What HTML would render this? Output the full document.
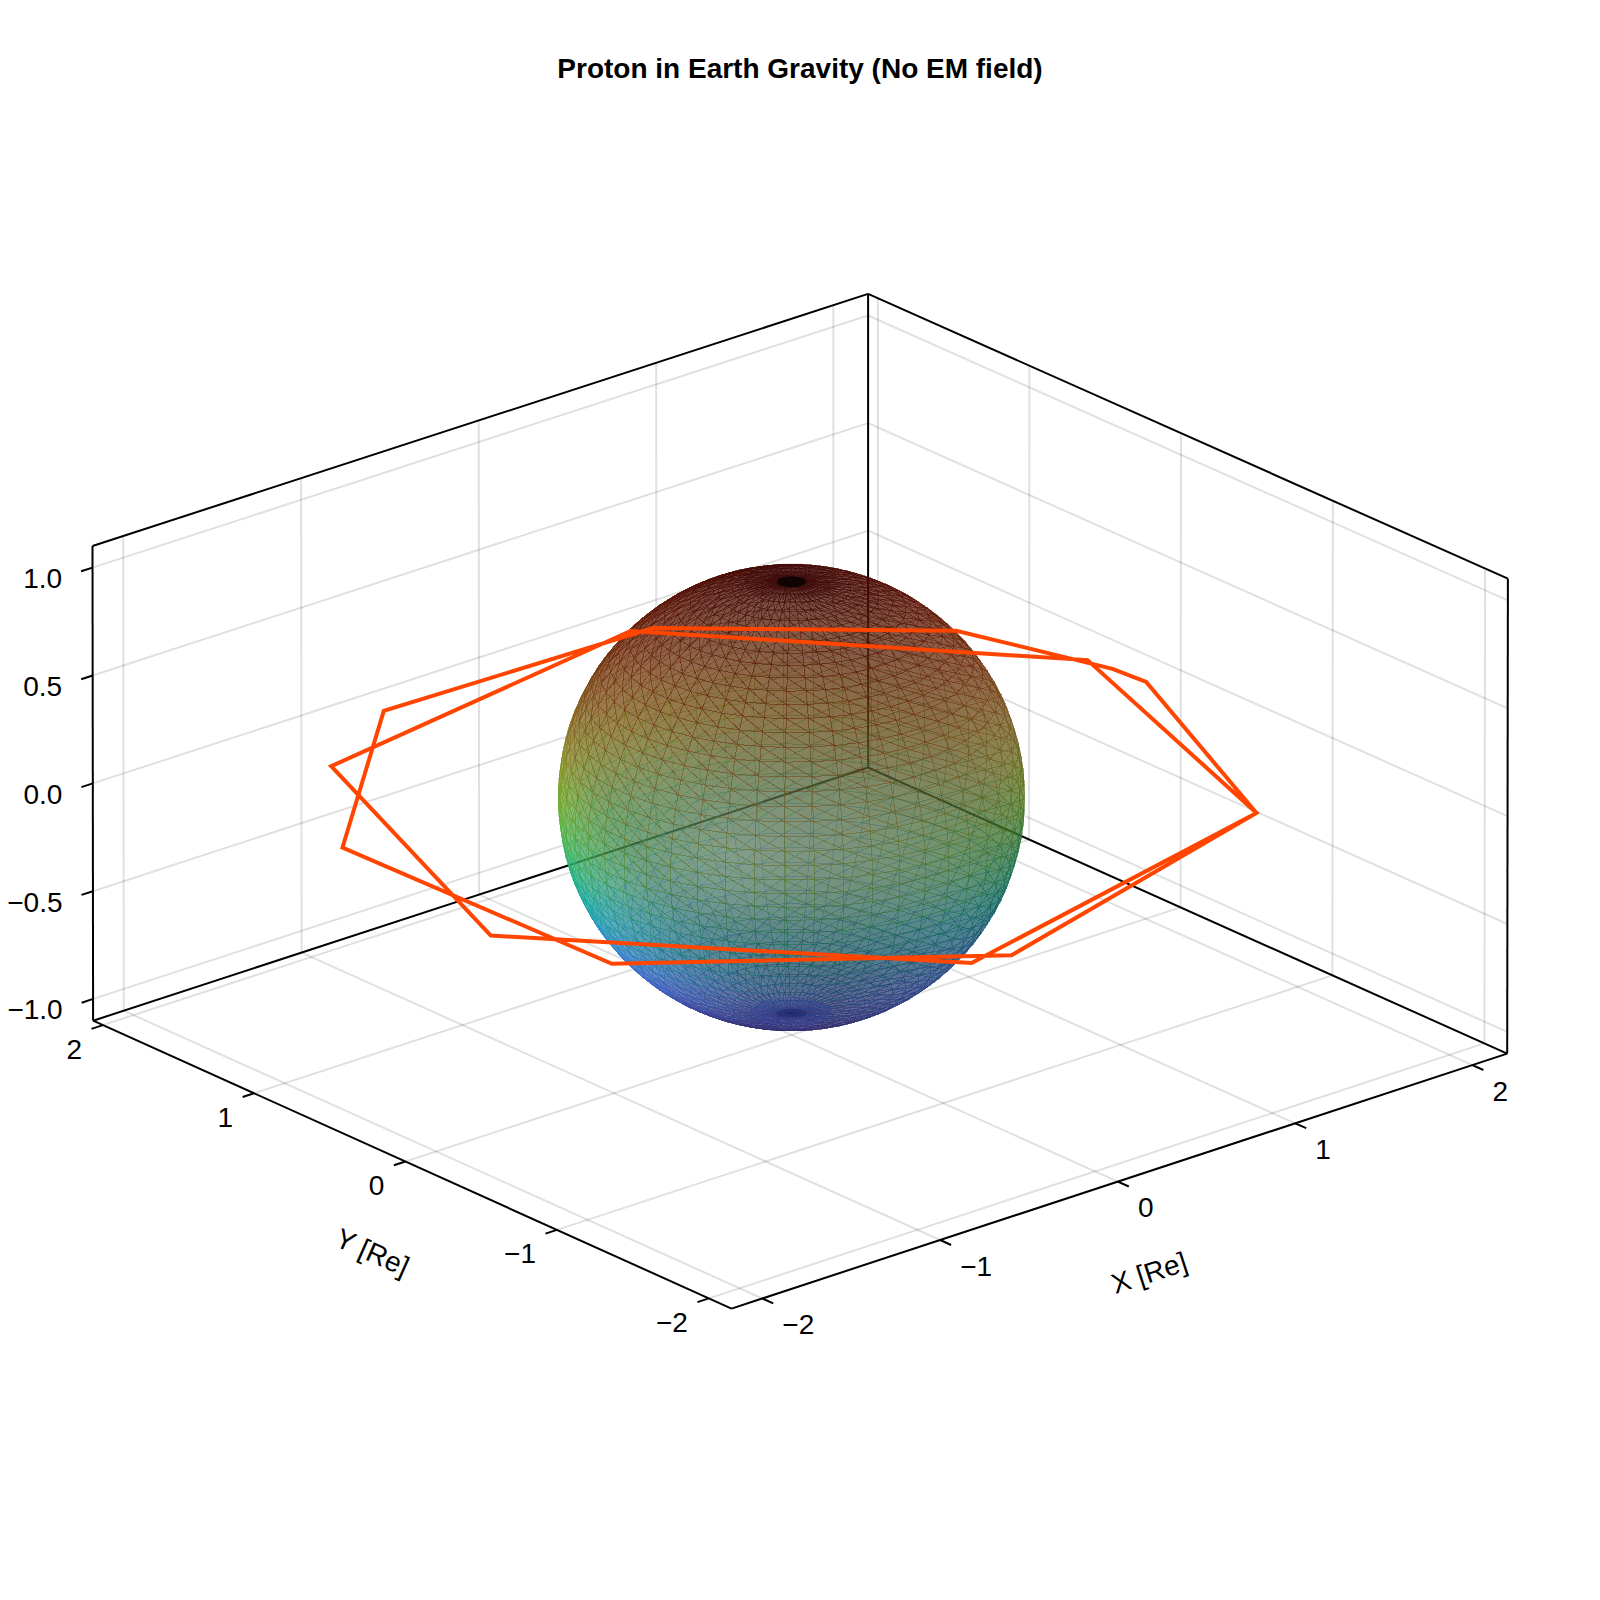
<!DOCTYPE html>
<html lang="en"><head><meta charset="utf-8"><title>Proton in Earth Gravity (No EM field)</title>
<style>html,body{margin:0;padding:0;background:#fff}body{width:1600px;height:1600px;overflow:hidden}svg{display:block}text{font-family:"Liberation Sans",Arial,Helvetica,sans-serif;fill:#000}</style></head><body>
<svg width="1600" height="1600" viewBox="0 0 1600 1600">
<rect width="1600" height="1600" fill="#fff"/>
<g id="grid" fill="none" stroke="#000" stroke-opacity="0.12" stroke-width="2"><path d="M762.3 1298.5L123.8 1010.7"/><path d="M123.8 1010.7L123.2 536"/><path d="M940.2 1240L301.6 952.6"/><path d="M301.6 952.6L301.1 478.2"/><path d="M1117.8 1181.6L479.1 894.6"/><path d="M479.1 894.6L478.8 420.4"/><path d="M1295.2 1123.3L656.3 836.7"/><path d="M656.3 836.7L656.2 362.8"/><path d="M1472.4 1065.1L833.3 778.8"/><path d="M833.3 778.8L833.4 305.2"/><path d="M708.8 1298.4L1484.4 1043.4"/><path d="M1484.4 1043.4L1485.1 568.6"/><path d="M556.9 1229.9L1332.4 975.4"/><path d="M1332.4 975.4L1332.9 500.8"/><path d="M405.4 1161.5L1180.6 907.4"/><path d="M1180.6 907.4L1181 433.2"/><path d="M254 1093.3L1029.1 839.6"/><path d="M1029.1 839.6L1029.4 365.7"/><path d="M102.9 1025.1L877.9 771.9"/><path d="M877.9 771.9L877.9 298.3"/><path d="M93.1 998.9L868.1 745.7"/><path d="M868.1 745.7L1507.2 1031.8"/><path d="M93 891.2L868.1 638.2"/><path d="M868.1 638.2L1507.4 924"/><path d="M92.8 783.4L868.1 530.7"/><path d="M868.1 530.7L1507.5 816.2"/><path d="M92.6 675.5L868.1 423.1"/><path d="M868.1 423.1L1507.7 708.3"/><path d="M92.5 567.6L868.1 315.5"/><path d="M868.1 315.5L1507.8 600.3"/></g>
<g id="spines" fill="none" stroke="#000" stroke-width="2"><path d="M731.5 1308.6L1507.2 1053.6"/><path d="M93.1 1020.7L868.1 767.5"/><path d="M92.5 546L868.1 293.9"/><path d="M731.5 1308.6L93.1 1020.7"/><path d="M1507.2 1053.6L868.1 767.5"/><path d="M1507.9 578.7L868.1 293.9"/><path d="M93.1 1020.7L92.5 546"/><path d="M868.1 767.5L868.1 293.9"/><path d="M1507.2 1053.6L1507.9 578.7"/><path d="M762.3 1298.5L773.2 1303.4"/><path d="M940.2 1240L951.1 1245"/><path d="M1117.8 1181.6L1128.8 1186.5"/><path d="M1295.2 1123.3L1306.2 1128.2"/><path d="M1472.4 1065.1L1483.4 1070"/><path d="M708.8 1298.4L697.4 1302.1"/><path d="M556.9 1229.9L545.5 1233.6"/><path d="M405.4 1161.5L393.9 1165.3"/><path d="M254 1093.3L242.6 1097"/><path d="M102.9 1025.1L91.5 1028.9"/><path d="M93.1 998.9L81.7 1002.7"/><path d="M93 891.2L81.5 894.9"/><path d="M92.8 783.4L81.4 787.1"/><path d="M92.6 675.5L81.2 679.2"/><path d="M92.5 567.6L81.1 571.3"/></g>
<g id="sphere" transform="scale(.1)" fill="currentColor" fill-opacity="0.500" stroke="currentColor" stroke-opacity="0.290" stroke-width="10.0" stroke-linejoin="bevel" shape-rendering="crispEdges">
<path d="m8121 7886l-280-3 2 149z" color="#14a893"/>
<path d="m8116 8035l-273-3 2 150z" color="#17a3a6"/>
<path d="m8121 7886l-278 146 273 3z" color="#13a597"/>
<path d="m7841 7883l-270 160 272-11z" color="#15ac9d"/>
<path d="m8126 7737l-285 146 280 3z" color="#15a885"/>
<path d="m8116 8035l-271 147 265 3z" color="#1a9eab"/>
<path d="m8126 7737l-287-3 2 149z" color="#18ab80"/>
<path d="m7839 7734l-277 159 279-10z" color="#17af8a"/>
<path d="m7843 8032l-262 159 264-9z" color="#1ca5b3"/>
<path d="m8110 8185l-265-3 3 148z" color="#219bbb"/>
<path d="m7841 7883l-279 10 9 150z" color="#15af99"/>
<path d="m7843 8032l-272 11 10 148z" color="#1aaaae"/>
<path d="m8398 7903l-277-17-5 149z" color="#12a18d"/>
<path d="m8386 8052l-270-17-6 150z" color="#159c9f"/>
<path d="m8129 7589l-290 145 287 3z" color="#1faa71"/>
<path d="m8110 8185l-262 145 255 3z" color="#2496be"/>
<path d="m7839 7734l-285 10 8 149z" color="#1ab285"/>
<path d="m7838 7586l-284 158 285-10z" color="#21b176"/>
<path d="m7845 8182l-252 157 255-9z" color="#289ec7"/>
<path d="m8129 7589l-291-3 1 148z" color="#25ad6b"/>
<path d="m7845 8182l-264 9 12 148z" color="#26a3c4"/>
<path d="m8409 7754l-283-17-5 149z" color="#17a47b"/>
<path d="m8372 8201l-262-16-7 148z" color="#1e94b3"/>
<path d="m8398 7903l-282 132 270 17z" color="#129e90"/>
<path d="m8103 8333l-255-3 2 147z" color="#2d93cc"/>
<path d="m8386 8052l-276 133 262 16z" color="#1897a4"/>
<path d="m8409 7754l-288 132 277 17z" color="#14a17f"/>
<path d="m7838 7586l-290 11 6 147z" color="#27b370"/>
<path d="m7562 7893l-257 173 266-23z" color="#17b2a3"/>
<path d="m8132 7443l-294 143 291 3z" color="#30aa5c"/>
<path d="m8417 7607l-288-18-3 148z" color="#23a567"/>
<path d="m7571 8043l-248 171 258-23z" color="#20adba"/>
<path d="m8103 8333l-253 144 245 3z" color="#308dcd"/>
<path d="m7554 7744l-265 173 273-24z" color="#18b58f"/>
<path d="m7848 8330l-255 9 13 147z" color="#349cd7"/>
<path d="m7837 7439l-289 158 290-11z" color="#32b15f"/>
<path d="m7848 8330l-242 156 244-9z" color="#3696d8"/>
<path d="m8372 8201l-269 132 252 15z" color="#218fb6"/>
<path d="m8355 8348l-252-15-8 147z" color="#298bc2"/>
<path d="m8132 7443l-295-4 1 147z" color="#37ac56"/>
<path d="m8417 7607l-291 130 283 17z" color="#1ea36c"/>
<path d="m7581 8191l-237 170 249-22z" color="#2da6d1"/>
<path d="m7562 7893l-273 24 16 149z" color="#17b59e"/>
<path d="m7571 8043l-266 23 18 148z" color="#1db1b4"/>
<path d="m7548 7597l-273 172 279-25z" color="#22b77a"/>
<path d="m8095 8480l-245-3 3 145z" color="#3989d8"/>
<path d="m7837 7439l-293 11 4 147z" color="#39b359"/>
<path d="m7554 7744l-279 25 14 148z" color="#1bb88a"/>
<path d="m8667 7933l-269-30-12 149z" color="#119a87"/>
<path d="m8648 8082l-262-30-14 149z" color="#149598"/>
<path d="m7581 8191l-258 23 21 147z" color="#2aabcc"/>
<path d="m8423 7460l-291-17-3 146z" color="#34a452"/>
<path d="m8355 8348l-260 132 242 15z" color="#2c85c4"/>
<path d="m8423 7460l-294 129 288 18z" color="#2da257"/>
<path d="m7850 8477l-244 9 15 145z" color="#4193e4"/>
<path d="m8134 7298l-297 141 295 4z" color="#42a747"/>
<path d="m8095 8480l-242 142 234 3z" color="#3a83d7"/>
<path d="m8684 7785l-275-31-11 149z" color="#169d75"/>
<path d="m8626 8229l-254-28-17 147z" color="#1c8dab"/>
<path d="m7593 8339l-225 168 238-21z" color="#3d9fe3"/>
<path d="m7837 7295l-293 155 293-11z" color="#45ae4a"/>
<path d="m8337 8495l-242-15-8 145z" color="#3381ce"/>
<path d="m7850 8477l-229 154 232-9z" color="#418de3"/>
<path d="m7544 7450l-280 171 284-24z" color="#34b763"/>
<path d="m8134 7298l-297-3 0 144z" color="#49a841"/>
<path d="m7548 7597l-284 24 11 148z" color="#28b973"/>
<path d="m7593 8339l-249 22 24 146z" color="#39a4e1"/>
<path d="m8667 7933l-281 119 262 30z" color="#11978a"/>
<path d="m8648 8082l-276 119 254 28z" color="#16919d"/>
<path d="m8697 7638l-280-31-8 147z" color="#229d62"/>
<path d="m8601 8376l-246-28-18 147z" color="#2685ba"/>
<path d="m8684 7785l-286 118 269 30z" color="#139a79"/>
<path d="m7837 7295l-296 11 3 144z" color="#4caf44"/>
<path d="m8087 8625l-234-3 4 142z" color="#417fdc"/>
<path d="m8337 8495l-250 130 231 14z" color="#357ccd"/>
<path d="m8626 8229l-271 119 246 28z" color="#1f89ae"/>
<path d="m8428 7316l-294-18-2 145z" color="#46a13e"/>
<path d="m7289 7917l-241 185 257-36z" color="#18b7a8"/>
<path d="m8428 7316l-296 127 291 17z" color="#3f9f43"/>
<path d="m7305 8066l-230 183 248-35z" color="#22b2c0"/>
<path d="m7606 8486l-213 165 228-20z" color="#4997ef"/>
<path d="m7275 7769l-249 186 263-38z" color="#19ba93"/>
<path d="m7544 7450l-288 25 8 146z" color="#3bb95c"/>
<path d="m7853 8622l-232 9 15 141z" color="#498ae9"/>
<path d="m8697 7638l-288 116 275 31z" color="#1d9b67"/>
<path d="m7606 8486l-238 21 25 144z" color="#489cef"/>
<path d="m7541 7306l-285 169 288-25z" color="#47b54c"/>
<path d="m8135 7157l-298 138 297 3z" color="#53a235"/>
<path d="m8318 8639l-231-14-9 142z" color="#3a77d2"/>
<path d="m7323 8214l-218 181 239-34z" color="#30acd7"/>
<path d="m8087 8625l-230 139 221 3z" color="#4078d8"/>
<path d="m7836 7153l-295 153 296-11z" color="#57aa37"/>
<path d="m7853 8622l-217 150 221-8z" color="#4882e4"/>
<path d="m8706 7492l-283-32-6 147z" color="#329c4e"/>
<path d="m8572 8521l-235-26-19 144z" color="#307bc5"/>
<path d="m8601 8376l-264 119 235 26z" color="#2980bc"/>
<path d="m7264 7621l-258 186 269-38z" color="#23bc7d"/>
<path d="m8135 7157l-299-4 1 142z" color="#59a330"/>
<path d="m7305 8066l-257 36 27 147z" color="#1eb5b9"/>
<path d="m7289 7917l-263 38 22 147z" color="#18baa2"/>
<path d="m8706 7492l-289 115 280 31z" color="#2b9a53"/>
<path d="m7344 8361l-206 179 230-33z" color="#41a5eb"/>
<path d="m7323 8214l-248 35 30 146z" color="#2bafd1"/>
<path d="m8318 8639l-240 128 218 13z" color="#3a71ce"/>
<path d="m7836 7153l-297 11 2 142z" color="#5daa32"/>
<path d="m7275 7769l-269 38 20 148z" color="#1cbd8d"/>
<path d="m8898 8124l-250-42-22 147z" color="#138f92"/>
<path d="m8430 7175l-296 123 294 18z" color="#4f9a32"/>
<path d="m7541 7306l-290 25 5 144z" color="#4fb646"/>
<path d="m8430 7175l-295-18-1 141z" color="#559b2e"/>
<path d="m7621 8631l-200 160 215-19z" color="#518cf1"/>
<path d="m8078 8767l-221-3 3 139z" color="#4574d9"/>
<path d="m8924 7977l-257-44-19 149z" color="#109380"/>
<path d="m7621 8631l-228 20 28 140z" color="#5193f5"/>
<path d="m7256 7475l-265 185 273-39z" color="#35bd66"/>
<path d="m8572 8521l-254 118 224 25z" color="#3176c5"/>
<path d="m8868 8270l-242-41-25 147z" color="#1b87a4"/>
<path d="m7344 8361l-239 34 33 145z" color="#3ba8e6"/>
<path d="m7539 7164l-288 167 290-25z" color="#5ab039"/>
<path d="m8713 7348l-285-32-5 144z" color="#42983b"/>
<path d="m8542 8664l-224-25-22 141z" color="#3671c9"/>
<path d="m7857 8764l-221 8 17 139z" color="#4d7ee6"/>
<path d="m8946 7830l-262-45-17 148z" color="#15956f"/>
<path d="m8296 8780l-218-13-10 138z" color="#3e6ccf"/>
<path d="m7264 7621l-273 39 15 147z" color="#29be76"/>
<path d="m7368 8507l-194 175 219-31z" color="#4e9df7"/>
<path d="m8135 7019l-299 134 299 4z" color="#609b27"/>
<path d="m8078 8767l-218 136 208 2z" color="#426ed4"/>
<path d="m8834 8416l-233-40-29 145z" color="#247fb3"/>
<path d="m7836 7015l-297 149 297-11z" color="#65a229"/>
<path d="m8713 7348l-290 112 283 32z" color="#3b9740"/>
<path d="m7857 8764l-204 147 207-8z" color="#4a77df"/>
<path d="m8963 7683l-266-45-13 147z" color="#20955d"/>
<path d="m7368 8507l-230 33 36 142z" color="#4aa1f5"/>
<path d="m8898 8124l-272 105 242 41z" color="#158a96"/>
<path d="m8924 7977l-276 105 250 42z" color="#109084"/>
<path d="m8135 7019l-299-4 0 138z" color="#669a25"/>
<path d="m7251 7331l-272 184 277-40z" color="#4abb4f"/>
<path d="m8868 8270l-267 106 233 40z" color="#1e83a7"/>
<path d="m8946 7830l-279 103 257 44z" color="#129273"/>
<path d="m8296 8780l-228 125 205 13z" color="#3d67ca"/>
<path d="m8542 8664l-246 116 212 24z" color="#376cc6"/>
<path d="m8797 8559l-225-38-30 143z" color="#2d76bd"/>
<path d="m7539 7164l-291 26 3 141z" color="#61b034"/>
<path d="m7256 7475l-277 40 12 145z" color="#3dbe5f"/>
<path d="m7636 8772l-215 19 30 138z" color="#5587f0"/>
<path d="m7836 7015l-297 11 0 138z" color="#6aa126"/>
<path d="m8430 7037l-295 120 295 18z" color="#5b9325"/>
<path d="m7636 8772l-185 157 202-18z" color="#5380eb"/>
<path d="m7048 8102l-208 194 235-47z" color="#21b4c3"/>
<path d="m7026 7955l-220 196 242-49z" color="#18bbab"/>
<path d="m8430 7037l-295-18 0 138z" color="#619223"/>
<path d="m8716 7207l-286-32-2 141z" color="#50922c"/>
<path d="m7393 8651l-180 170 208-30z" color="#5692f9"/>
<path d="m8508 8804l-212-24-23 138z" color="#3a67c7"/>
<path d="m8068 8905l-208-2 4 135z" color="#4569d1"/>
<path d="m8834 8416l-262 105 225 38z" color="#277ab4"/>
<path d="m8963 7683l-279 102 262 45z" color="#1b9362"/>
<path d="m7539 7026l-291 164 291-26z" color="#69a92b"/>
<path d="m7075 8249l-197 192 227-46z" color="#2fadda"/>
<path d="m8976 7538l-270-46-9 146z" color="#2f934a"/>
<path d="m7006 7807l-229 197 249-49z" color="#19be96"/>
<path d="m8716 7207l-288 109 285 32z" color="#4a922f"/>
<path d="m7393 8651l-219 31 39 139z" color="#5497fa"/>
<path d="m7860 8903l-207 8 18 135z" color="#4d72dc"/>
<path d="m8273 8918l-205-13-11 136z" color="#3f62c7"/>
<path d="m7105 8395l-185 188 218-43z" color="#3fa5ec"/>
<path d="m8134 6884l-298 131 299 4z" color="#6a9120"/>
<path d="m8756 8700l-214-36-34 140z" color="#346dc2"/>
<path d="m8068 8905l-204 133 193 3z" color="#4262c9"/>
<path d="m7248 7190l-276 181 279-40z" color="#5db63b"/>
<path d="m7837 6881l-298 145 297-11z" color="#6f9821"/>
<path d="m6991 7660l-238 198 253-51z" color="#24c180"/>
<path d="m7860 8903l-189 143 193-8z" color="#496ad3"/>
<path d="m7251 7331l-279 40 7 144z" color="#51bb48"/>
<path d="m8797 8559l-255 105 214 36z" color="#2f72bd"/>
<path d="m8976 7538l-279 100 266 45z" color="#29914e"/>
<path d="m7048 8102l-242 49 34 145z" color="#1db7bb"/>
<path d="m8508 8804l-235 114 200 23z" color="#3963c3"/>
<path d="m7075 8249l-235 47 38 145z" color="#29afd2"/>
<path d="m7026 7955l-249 49 29 147z" color="#17bda5"/>
<path d="m8134 6884l-297-3-1 134z" color="#6e8f1f"/>
<path d="m8985 7394l-272-46-7 144z" color="#3e9038"/>
<path d="m7539 7026l-291 26 0 138z" color="#6fa728"/>
<path d="m7138 8540l-171 183 207-41z" color="#4d9df8"/>
<path d="m7421 8791l-165 165 195-27z" color="#5786f2"/>
<path d="m7653 8911l-202 18 31 133z" color="#5379e5"/>
<path d="m8273 8918l-216 123 192 11z" color="#3d5dc1"/>
<path d="m7105 8395l-227 46 42 142z" color="#39a7e6"/>
<path d="m6979 7515l-246 197 258-52z" color="#36c168"/>
<path d="m7421 8791l-208 30 43 135z" color="#588af6"/>
<path d="m9132 8178l-234-54-30 146z" color="#12888b"/>
<path d="m7653 8911l-171 151 189-16z" color="#5071dc"/>
<path d="m7006 7807l-253 51 24 146z" color="#1cc090"/>
<path d="m8716 7069l-286-32 0 138z" color="#5b8a21"/>
<path d="m8473 8941l-200-23-24 134z" color="#3b5dc0"/>
<path d="m8428 6902l-293 117 295 18z" color="#64891e"/>
<path d="m9095 8323l-227-53-34 146z" color="#1a819d"/>
<path d="m7837 6881l-296 11-2 134z" color="#749621"/>
<path d="m9164 8032l-240-55-26 147z" color="#108c7a"/>
<path d="m8716 7069l-286 106 286 32z" color="#568a23"/>
<path d="m8428 6902l-294-18 1 135z" color="#69881d"/>
<path d="m8756 8700l-248 104 203 34z" color="#3568bf"/>
<path d="m7541 6892l-293 160 291-26z" color="#749e23"/>
<path d="m8711 8838l-203-34-35 137z" color="#3763c0"/>
<path d="m8985 7394l-279 98 270 46z" color="#388e3c"/>
<path d="m9053 8466l-219-50-37 143z" color="#237aab"/>
<path d="m8057 9041l-193-3 4 131z" color="#435cc2"/>
<path d="m7138 8540l-218 43 47 140z" color="#479ff4"/>
<path d="m9191 7886l-245-56-22 147z" color="#148d6a"/>
<path d="m7248 7190l-280 40 4 141z" color="#64b536"/>
<path d="m6991 7660l-258 52 20 146z" color="#2ac279"/>
<path d="m7248 7052l-280 178 280-40z" color="#6dae2c"/>
<path d="m7864 9038l-193 8 19 130z" color="#4962cb"/>
<path d="m7174 8682l-157 178 196-39z" color="#5492fa"/>
<path d="m8249 9052l-192-11-11 130z" color="#3f56bb"/>
<path d="m9007 8608l-210-49-41 141z" color="#2c71b6"/>
<path d="m6972 7371l-254 196 261-52z" color="#4bbf51"/>
<path d="m8990 7253l-274-46-3 141z" color="#4b8a29"/>
<path d="m8132 6755l-295 126 297 3z" color="#70851d"/>
<path d="m8473 8941l-224 111 186 21z" color="#3a59ba"/>
<path d="m9213 7741l-250-58-17 147z" color="#1e8d58"/>
<path d="m7837 6751l-296 141 296-11z" color="#768b1f"/>
<path d="m8057 9041l-189 128 178 2z" color="#4156bb"/>
<path d="m9132 8178l-264 92 227 53z" color="#14848f"/>
<path d="m7864 9038l-174 138 178-7z" color="#465cc2"/>
<path d="m9164 8032l-266 92 234 54z" color="#10887d"/>
<path d="m9095 8323l-261 93 219 50z" color="#1c7d9f"/>
<path d="m7174 8682l-207 41 50 137z" color="#5195f9"/>
<path d="m7451 8929l-151 159 182-26z" color="#5476e3"/>
<path d="m7451 8929l-195 27 44 132z" color="#567cea"/>
<path d="m6979 7515l-261 52 15 145z" color="#3ec261"/>
<path d="m7541 6892l-290 26-3 134z" color="#789c22"/>
<path d="m8711 8838l-238 103 190 32z" color="#375fbc"/>
<path d="m8990 7253l-277 95 272 46z" color="#46892c"/>
<path d="m7671 9046l-189 16 34 129z" color="#4f68d3"/>
<path d="m9191 7886l-267 91 240 55z" color="#118a6d"/>
<path d="m8132 6755l-295-4 0 130z" color="#74831e"/>
<path d="m9053 8466l-256 93 210 49z" color="#2675ad"/>
<path d="m8249 9052l-203 119 177 11z" color="#3d51b4"/>
<path d="m8663 8973l-190-32-38 132z" color="#395aba"/>
<path d="m8956 8746l-200-46-45 138z" color="#3269ba"/>
<path d="m8713 6935l-285-33 2 135z" color="#62801c"/>
<path d="m8435 9073l-186-21-26 130z" color="#3b53b4"/>
<path d="m7671 9046l-155 145 174-15z" color="#4b61ca"/>
<path d="m6806 8151l-183 204 217-59z" color="#1fb4c3"/>
<path d="m8713 6935l-283 102 286 32z" color="#5e811c"/>
<path d="m7213 8821l-142 172 185-37z" color="#5685f3"/>
<path d="m8423 6772l-289 112 294 18z" color="#6a7d1c"/>
<path d="m6840 8296l-171 201 209-56z" color="#2cacd9"/>
<path d="m9229 7596l-253-58-13 145z" color="#2c8b45"/>
<path d="m6777 8004l-195 207 224-60z" color="#17bcac"/>
<path d="m7837 6751l-293 11-3 130z" color="#7a891f"/>
<path d="m7248 7052l-280 39 0 139z" color="#72ad29"/>
<path d="m9213 7741l-267 89 245 56z" color="#198a5c"/>
<path d="m6968 7230l-260 194 264-53z" color="#5fbb3c"/>
<path d="m7544 6762l-293 156 290-26z" color="#7b9220"/>
<path d="m8423 6772l-291-17 2 129z" color="#6e7c1c"/>
<path d="m9007 8608l-251 92 200 46z" color="#2d6db6"/>
<path d="m6878 8441l-158 196 200-54z" color="#3ba2ea"/>
<path d="m7251 6918l-283 173 280-39z" color="#78a424"/>
<path d="m7213 8821l-196 39 54 133z" color="#5488f5"/>
<path d="m6753 7858l-206 208 230-62z" color="#19c198"/>
<path d="m8990 7115l-274-46 0 138z" color="#55811f"/>
<path d="m8046 9171l-178-2 4 126z" color="#414fb1"/>
<path d="m6972 7371l-264 53 10 143z" color="#53bf4a"/>
<path d="m7868 9169l-178 7 20 125z" color="#4554b8"/>
<path d="m8900 8882l-189-44-48 135z" color="#355fb9"/>
<path d="m8435 9073l-212 109 171 19z" color="#3a4eae"/>
<path d="m8223 9182l-177-11-11 126z" color="#3d4bab"/>
<path d="m6920 8583l-145 191 192-51z" color="#4798f4"/>
<path d="m8663 8973l-228 100 177 30z" color="#3855b4"/>
<path d="m6733 7712l-215 209 235-63z" color="#24c482"/>
<path d="m9229 7596l-266 87 250 58z" color="#26894a"/>
<path d="m8990 7115l-274 92 274 46z" color="#518121"/>
<path d="m7482 9062l-182 26 48 127z" color="#516bd7"/>
<path d="m9240 7453l-255-59-9 144z" color="#3a8734"/>
<path d="m8956 8746l-245 92 189 44z" color="#3364b8"/>
<path d="m7482 9062l-134 153 168-24z" color="#4e65cf"/>
<path d="m8129 6630l-292 121 295 4z" color="#75771d"/>
<path d="m6840 8296l-217 59 46 142z" color="#26aed1"/>
<path d="m6806 8151l-224 60 41 144z" color="#1bb7bb"/>
<path d="m7838 6626l-294 136 293-11z" color="#7b7e1e"/>
<path d="m7256 8956l-127 166 171-34z" color="#5376e4"/>
<path d="m8046 9171l-174 124 163 2z" color="#3e49a9"/>
<path d="m8612 9103l-177-30-41 128z" color="#3950af"/>
<path d="m7868 9169l-158 132 162-6z" color="#424daf"/>
<path d="m6878 8441l-209 56 51 140z" color="#34a4e4"/>
<path d="m6777 8004l-230 62 35 145z" color="#16bea6"/>
<path d="m7544 6762l-288 25-5 131z" color="#7f8f20"/>
<path d="m7690 9176l-174 15 35 124z" color="#4958bd"/>
<path d="m7256 8956l-185 37 58 129z" color="#537ae9"/>
<path d="m6968 7091l-265 192 265-53z" color="#70b32d"/>
<path d="m6967 8723l-131 186 181-49z" color="#4e8cf5"/>
<path d="m8707 6804l-284-32 5 130z" color="#67741a"/>
<path d="m8394 9201l-171-19-27 125z" color="#3a48a6"/>
<path d="m6718 7567l-224 209 239-64z" color="#37c46a"/>
<path d="m8707 6804l-279 98 285 33z" color="#63751a"/>
<path d="m9303 8386l-208-63-42 143z" color="#187b95"/>
<path d="m8223 9182l-188 115 161 10z" color="#3b46a4"/>
<path d="m6968 7230l-265 53 5 141z" color="#66ba37"/>
<path d="m7251 6918l-280 39-3 134z" color="#7ca123"/>
<path d="m6920 8583l-200 54 55 137z" color="#419af0"/>
<path d="m9346 8243l-214-65-37 145z" color="#118184"/>
<path d="m8129 6630l-291-4-1 125z" color="#78751d"/>
<path d="m6753 7858l-235 63 29 145z" color="#1cc391"/>
<path d="m7690 9176l-139 139 159-14z" color="#4651b4"/>
<path d="m9253 8527l-200-61-46 142z" color="#2174a4"/>
<path d="m9240 7453l-264 85 253 58z" color="#348538"/>
<path d="m8841 9014l-178-41-51 130z" color="#3757b4"/>
<path d="m8417 6647l-285 108 291 17z" color="#6e701b"/>
<path d="m9384 8099l-220-67-32 146z" color="#0f8473"/>
<path d="m8900 8882l-237 91 178 41z" color="#355cb6"/>
<path d="m8985 6980l-272-45 3 134z" color="#5c771a"/>
<path d="m7256 6787l-285 170 280-39z" color="#809721"/>
<path d="m7838 6626l-290 11-4 125z" color="#7e7b1f"/>
<path d="m7548 6637l-292 150 288-25z" color="#818320"/>
<path d="m9246 7312l-256-59-5 141z" color="#468126"/>
<path d="m9199 8666l-192-58-51 138z" color="#2a6dae"/>
<path d="m8417 6647l-288-17 3 125z" color="#716e1c"/>
<path d="m6967 8723l-192 51 61 135z" color="#4a8ff4"/>
<path d="m9415 7955l-224-69-27 146z" color="#138564"/>
<path d="m8612 9103l-218 98 164 28z" color="#384ca9"/>
<path d="m6733 7712l-239 64 24 145z" color="#2ac57a"/>
<path d="m7017 8860l-116 179 170-46z" color="#5080ef"/>
<path d="m8985 6980l-269 89 274 46z" color="#58781a"/>
<path d="m6708 7424l-232 208 242-65z" color="#4dc352"/>
<path d="m8035 9297l-163-2 4 121z" color="#3d439e"/>
<path d="m8394 9201l-198 106 156 18z" color="#39449f"/>
<path d="m7516 9191l-168 24 50 122z" color="#4a59c0"/>
<path d="m7300 9088l-110 159 158-32z" color="#4e65d0"/>
<path d="m9139 8802l-183-56-56 136z" color="#3065b3"/>
<path d="m7872 9295l-162 6 20 120z" color="#4046a3"/>
<path d="m7516 9191l-118 146 153-22z" color="#4853b8"/>
<path d="m7300 9088l-171 34 61 125z" color="#4f69d6"/>
<path d="m8196 9307l-161-10-12 120z" color="#3b409a"/>
<path d="m8558 9229l-164-28-42 124z" color="#3846a2"/>
<path d="m9303 8386l-250 80 200 61z" color="#1b7798"/>
<path d="m9246 7312l-261 82 255 59z" color="#418029"/>
<path d="m9346 8243l-251 80 208 63z" color="#137d88"/>
<path d="m9441 7810l-228-69-22 145z" color="#1c8452"/>
<path d="m6971 6957l-268 187 265-53z" color="#7ba825"/>
<path d="m7017 8860l-181 49 65 130z" color="#4e82f0"/>
<path d="m6968 7091l-265 53 0 139z" color="#75b12a"/>
<path d="m8841 9014l-229 89 166 39z" color="#3653af"/>
<path d="m9253 8527l-246 81 192 58z" color="#2470a5"/>
<path d="m9384 8099l-252 79 214 65z" color="#0f8176"/>
<path d="m8778 9142l-166-39-54 126z" color="#374daa"/>
<path d="m6718 7567l-242 65 18 144z" color="#3fc562"/>
<path d="m8126 6511l-288 115 291 4z" color="#766a1d"/>
<path d="m7839 6507l-291 130 290-11z" color="#7d6f1e"/>
<path d="m7548 6637l-284 25-8 125z" color="#838020"/>
<path d="m8035 9297l-159 119 147 1z" color="#3b3e97"/>
<path d="m7872 9295l-142 126 146-5z" color="#3e419b"/>
<path d="m7710 9301l-159 14 36 119z" color="#4248a6"/>
<path d="m7256 6787l-277 40-8 130z" color="#839421"/>
<path d="m9199 8666l-243 80 183 56z" color="#2c69ae"/>
<path d="m7071 8993l-101 172 159-43z" color="#4f71e1"/>
<path d="m9074 8935l-174-53-59 132z" color="#335cb3"/>
<path d="m9246 7174l-256-59 0 138z" color="#50791d"/>
<path d="m9415 7955l-251 77 220 67z" color="#108267"/>
<path d="m8697 6679l-274 93 284 32z" color="#686a1a"/>
<path d="m8697 6679l-280-32 6 125z" color="#6b681a"/>
<path d="m8352 9325l-156-18-28 119z" color="#393e96"/>
<path d="m6623 8355l-143 208 189-66z" color="#29a9d7"/>
<path d="m6703 7283l-239 206 244-65z" color="#61be3e"/>
<path d="m6582 8211l-155 212 196-68z" color="#1db4c3"/>
<path d="m8196 9307l-173 110 145 9z" color="#393c93"/>
<path d="m9460 7666l-231-70-16 145z" color="#298241"/>
<path d="m6669 8497l-131 203 182-63z" color="#369ee7"/>
<path d="m8977 6850l-270-46 6 131z" color="#616d19"/>
<path d="m7710 9301l-123 133 143-13z" color="#40439e"/>
<path d="m6547 8066l-167 215 202-70z" color="#16bdad"/>
<path d="m8126 6511l-287-4-1 119z" color="#78671d"/>
<path d="m7264 6662l-285 165 277-40z" color="#858821"/>
<path d="m7071 8993l-170 46 69 126z" color="#4e75e5"/>
<path d="m8409 6528l-280 102 288 17z" color="#70641b"/>
<path d="m8558 9229l-206 96 150 25z" color="#37429b"/>
<path d="m9139 8802l-239 80 174 53z" color="#3160b1"/>
<path d="m9441 7810l-250 76 224 69z" color="#188256"/>
<path d="m8977 6850l-264 85 272 45z" color="#5e6f18"/>
<path d="m6720 8637l-117 198 172-61z" color="#4193f0"/>
<path d="m6708 7424l-244 65 12 143z" color="#55c24b"/>
<path d="m9246 7174l-256 79 256 59z" color="#4b791f"/>
<path d="m7554 6518l-290 144 284-25z" color="#837520"/>
<path d="m7839 6507l-285 11-6 119z" color="#7f6c1f"/>
<path d="m7348 9215l-95 151 145-29z" color="#4854b9"/>
<path d="m6518 7921l-178 217 207-72z" color="#19c299"/>
<path d="m7348 9215l-158 32 63 119z" color="#4959c1"/>
<path d="m8778 9142l-220 87 153 36z" color="#3649a4"/>
<path d="m8409 6528l-283-17 3 119z" color="#72611b"/>
<path d="m9004 9064l-163-50-63 128z" color="#3554ae"/>
<path d="m7551 9315l-153 22 52 116z" color="#4449a9"/>
<path d="m6971 6957l-263 53-5 134z" color="#7fa524"/>
<path d="m8352 9325l-184 101 140 16z" color="#383a8f"/>
<path d="m6775 8774l-103 192 164-57z" color="#4786f0"/>
<path d="m8711 9265l-153-36-56 121z" color="#37449d"/>
<path d="m6979 6827l-271 183 263-53z" color="#849b22"/>
<path d="m8502 9350l-150-25-44 117z" color="#373c92"/>
<path d="m9473 7524l-233-71-11 143z" color="#367d31"/>
<path d="m7129 9122l-86 164 147-39z" color="#4b62ce"/>
<path d="m7551 9315l-101 138 137-19z" color="#4144a1"/>
<path d="m9074 8935l-233 79 163 50z" color="#3359b0"/>
<path d="m8023 9417l-147-1 5 114z" color="#3a388b"/>
<path d="m9460 7666l-247 75 228 69z" color="#248045"/>
<path d="m6494 7776l-188 219 212-74z" color="#25c683"/>
<path d="m6703 7144l-245 204 245-65z" color="#72b72e"/>
<path d="m6623 8355l-196 68 53 140z" color="#24add0"/>
<path d="m7876 9416l-146 5 22 114z" color="#3c398e"/>
<path d="m6669 8497l-189 66 58 137z" color="#30a1e1"/>
<path d="m9240 7039l-255-59 5 135z" color="#577118"/>
<path d="m8168 9426l-145-9-13 115z" color="#383688"/>
<path d="m6582 8211l-202 70 47 142z" color="#19b7bb"/>
<path d="m7129 9122l-159 43 73 121z" color="#4b65d4"/>
<path d="m6720 8637l-182 63 65 135z" color="#3c95ed"/>
<path d="m6836 8909l-89 184 154-54z" color="#4a7aea"/>
<path d="m6703 7283l-245 65 6 141z" color="#68bd38"/>
<path d="m7264 6662l-273 39-12 126z" color="#888521"/>
<path d="m6547 8066l-207 72 40 143z" color="#16bfa7"/>
<path d="m7554 6518l-279 25-11 119z" color="#857120"/>
<path d="m8121 6397l-282 110 287 4z" color="#755c1b"/>
<path d="m8930 9188l-152-46-67 123z" color="#354ba5"/>
<path d="m7730 9421l-143 13 38 112z" color="#3d3b91"/>
<path d="m9487 8459l-184-73-50 141z" color="#17758e"/>
<path d="m8684 6559l-267 88 280 32z" color="#6b601a"/>
<path d="m9432 8597l-179-70-54 139z" color="#206f9c"/>
<path d="m7841 6394l-287 124 285-11z" color="#7c611d"/>
<path d="m6775 8774l-172 61 69 131z" color="#4489f0"/>
<path d="m8023 9417l-142 113 129 2z" color="#383483"/>
<path d="m6476 7632l-198 219 216-75z" color="#38c76b"/>
<path d="m7876 9416l-124 119 129-5z" color="#3a3586"/>
<path d="m9240 7039l-250 76 256 59z" color="#547219"/>
<path d="m8684 6559l-275-31 8 119z" color="#6d5d1a"/>
<path d="m8308 9442l-140-16-30 114z" color="#373585"/>
<path d="m8963 6724l-266-45 10 125z" color="#676419"/>
<path d="m9004 9064l-226 78 152 46z" color="#3550a9"/>
<path d="m9537 8318l-191-75-43 143z" color="#107a7d"/>
<path d="m9370 8733l-171-67-60 136z" color="#2868a7"/>
<path d="m9473 7524l-244 72 231 70z" color="#317c35"/>
<path d="m8711 9265l-209 85 139 32z" color="#364097"/>
<path d="m8502 9350l-194 92 135 23z" color="#36398c"/>
<path d="m9480 7383l-234-71-6 141z" color="#427824"/>
<path d="m6518 7921l-212 74 34 143z" color="#1cc492"/>
<path d="m8963 6724l-256 80 270 46z" color="#646619"/>
<path d="m7275 6543l-284 158 273-39z" color="#887921"/>
<path d="m8168 9426l-158 106 128 8z" color="#373281"/>
<path d="m7398 9337l-145 29 67 113z" color="#4349a9"/>
<path d="m9579 8176l-195-77-38 144z" color="#0e7d6d"/>
<path d="m7730 9421l-105 125 127-11z" color="#3b3688"/>
<path d="m7398 9337l-78 142 130-26z" color="#4245a2"/>
<path d="m9302 8866l-163-64-65 133z" color="#2e61ac"/>
<path d="m6836 8909l-164 57 75 127z" color="#487ceb"/>
<path d="m7190 9247l-70 155 133-36z" color="#4652b8"/>
<path d="m6901 9039l-74 176 143-50z" color="#496cdd"/>
<path d="m8121 6397l-280-3-2 113z" color="#76591b"/>
<path d="m8398 6414l-272 97 283 17z" color="#71591a"/>
<path d="m6979 6827l-261 52-10 131z" color="#879822"/>
<path d="m8641 9382l-139-32-59 115z" color="#363b8f"/>
<path d="m6708 7010l-250 200 245-66z" color="#7eac26"/>
<path d="m7190 9247l-147 39 77 116z" color="#4756bf"/>
<path d="m7562 6405l-287 138 279-25z" color="#82661e"/>
<path d="m6991 6701l-273 178 261-52z" color="#898d22"/>
<path d="m7587 9434l-137 19 54 111z" color="#3e3c92"/>
<path d="m9615 8033l-200-78-31 144z" color="#117d5e"/>
<path d="m6494 7776l-216 75 28 144z" color="#2bc77c"/>
<path d="m7841 6394l-279 11-8 113z" color="#7d5e1c"/>
<path d="m6464 7489l-206 219 218-76z" color="#4ec553"/>
<path d="m6703 7144l-245 66 0 138z" color="#77b42b"/>
<path d="m8398 6414l-277-17 5 114z" color="#72561a"/>
<path d="m9228 8996l-154-61-70 129z" color="#3159ac"/>
<path d="m8308 9442l-170 98 125 14z" color="#35317e"/>
<path d="m8443 9465l-135-23-45 112z" color="#353382"/>
<path d="m9229 6908l-252-58 8 130z" color="#5e6a18"/>
<path d="m8930 9188l-219 77 140 42z" color="#3547a0"/>
<path d="m8851 9307l-140-42-70 117z" color="#354299"/>
<path d="m7587 9434l-83 130 121-18z" color="#3c378a"/>
<path d="m9480 7383l-240 70 233 71z" color="#3d7827"/>
<path d="m6901 9039l-154 54 80 122z" color="#4870e1"/>
<path d="m9487 8459l-234 68 179 70z" color="#1a7191"/>
<path d="m9432 8597l-233 69 171 67z" color="#226b9e"/>
<path d="m9537 8318l-234 68 184 73z" color="#127680"/>
<path d="m9370 8733l-231 69 163 64z" color="#2a65a7"/>
<path d="m8010 9532l-129-2 4 109z" color="#362e78"/>
<path d="m9480 7245l-234-71 0 138z" color="#4c731b"/>
<path d="m9644 7890l-203-80-26 145z" color="#1a7c4d"/>
<path d="m6970 9165l-59 167 132-46z" color="#475ecb"/>
<path d="m9229 6908l-244 72 255 59z" color="#5b6b18"/>
<path d="m7881 9530l-129 5 22 108z" color="#382f7a"/>
<path d="m9579 8176l-233 67 191 75z" color="#0e7a70"/>
<path d="m8138 9540l-128-8-13 108z" color="#352d76"/>
<path d="m9149 9121l-145-57-74 124z" color="#3351a8"/>
<path d="m6476 7632l-218 76 20 143z" color="#3fc763"/>
<path d="m7275 6543l-269 37-15 121z" color="#897521"/>
<path d="m8641 9382l-198 83 125 29z" color="#353789"/>
<path d="m9302 8866l-228 69 154 61z" color="#2f5daa"/>
<path d="m6458 7348l-214 218 220-77z" color="#63c13e"/>
<path d="m6480 8563l-101 209 159-72z" color="#339ce5"/>
<path d="m6427 8423l-113 214 166-74z" color="#27a8d6"/>
<path d="m7562 6405l-274 24-13 114z" color="#82631e"/>
<path d="m8946 6603l-262-44 13 120z" color="#6c5c1a"/>
<path d="m8668 6445l-259 83 275 31z" color="#6f571a"/>
<path d="m7253 9366l-53 146 120-33z" color="#4144a2"/>
<path d="m8443 9465l-180 89 118 20z" color="#34307c"/>
<path d="m6970 9165l-143 50 84 117z" color="#4761d0"/>
<path d="m7752 9535l-127 11 39 107z" color="#39307c"/>
<path d="m7450 9453l-130 26 69 108z" color="#3e3c93"/>
<path d="m6538 8700l-87 203 152-68z" color="#3d90ed"/>
<path d="m9615 8033l-231 66 195 77z" color="#0f7b61"/>
<path d="m6380 8281l-125 219 172-77z" color="#1cb4c3"/>
<path d="m7253 9366l-133 36 80 110z" color="#4248a9"/>
<path d="m8946 6603l-249 76 266 45z" color="#6a5e1a"/>
<path d="m8116 6291l-275 103 280 3z" color="#745118"/>
<path d="m8668 6445l-270-31 11 114z" color="#705419"/>
<path d="m8263 9554l-125-14-30 107z" color="#342c74"/>
<path d="m6718 6879l-254 196 244-65z" color="#879f23"/>
<path d="m7843 6287l-281 118 279-11z" color="#785419"/>
<path d="m7450 9453l-61 134 115-23z" color="#3c388b"/>
<path d="m8851 9307l-210 75 128 39z" color="#343e93"/>
<path d="m9228 8996l-224 68 145 57z" color="#3156a9"/>
<path d="m8010 9532l-125 107 112 1z" color="#352b72"/>
<path d="m9666 7747l-206-81-19 144z" color="#26793c"/>
<path d="m7881 9530l-107 113 111-4z" color="#362c74"/>
<path d="m8568 9494l-125-29-62 109z" color="#343280"/>
<path d="m6991 6701l-258 52-15 126z" color="#8c8922"/>
<path d="m9480 7245l-234 67 234 71z" color="#48741d"/>
<path d="m6708 7010l-244 65-6 135z" color="#82a925"/>
<path d="m7288 6429l-282 151 269-37z" color="#876a1f"/>
<path d="m6603 8835l-74 195 143-64z" color="#4382ec"/>
<path d="m6340 8138l-137 223 177-80z" color="#16bdad"/>
<path d="m8769 9421l-128-39-73 112z" color="#34398b"/>
<path d="m9065 9241l-135-53-79 119z" color="#3449a0"/>
<path d="m8138 9540l-141 100 111 7z" color="#342a70"/>
<path d="m6464 7489l-220 77 14 142z" color="#55c54c"/>
<path d="m7752 9535l-88 118 110-10z" color="#372c75"/>
<path d="m7043 9286l-44 158 121-42z" color="#4450b6"/>
<path d="m7006 6580l-273 173 258-52z" color="#8c7d22"/>
<path d="m9644 7890l-229 65 200 78z" color="#167a51"/>
<path d="m9213 6781l-250-57 14 126z" color="#656319"/>
<path d="m8386 6307l-265 90 277 17z" color="#714f18"/>
<path d="m6672 8966l-60 187 135-60z" color="#4576e6"/>
<path d="m7625 9546l-121 18 55 103z" color="#39307d"/>
<path d="m8116 6291l-273-4-2 107z" color="#744e17"/>
<path d="m9473 7110l-233-71 6 135z" color="#556e18"/>
<path d="m9149 9121l-219 67 135 53z" color="#334da4"/>
<path d="m6306 7995l-148 225 182-82z" color="#18c39a"/>
<path d="m8381 9574l-118-20-47 105z" color="#332b72"/>
<path d="m7571 6298l-283 131 274-24z" color="#7d581a"/>
<path d="m7043 9286l-132 46 88 112z" color="#4454bd"/>
<path d="m6458 7210l-221 215 221-77z" color="#73b92f"/>
<path d="m8263 9554l-155 93 108 12z" color="#33296e"/>
<path d="m7843 6287l-272 11-9 107z" color="#785118"/>
<path d="m9213 6781l-236 69 252 58z" color="#636518"/>
<path d="m9681 7606l-208-82-13 142z" color="#33762e"/>
<path d="m6480 8563l-166 74 65 135z" color="#2ea0e0"/>
<path d="m7625 9546l-66 121 105-14z" color="#382d76"/>
<path d="m8386 6307l-270-16 5 106z" color="#724c17"/>
<path d="m6538 8700l-159 72 72 131z" color="#3993ea"/>
<path d="m6427 8423l-172 77 59 137z" color="#22acd0"/>
<path d="m8568 9494l-187 80 111 26z" color="#332f79"/>
<path d="m6747 9093l-46 179 126-57z" color="#4568d9"/>
<path d="m9666 7747l-225 63 203 80z" color="#217740"/>
<path d="m8976 9356l-125-49-82 114z" color="#344095"/>
<path d="m6603 8835l-152 68 78 127z" color="#4186ed"/>
<path d="m6278 7851l-158 227 186-83z" color="#25c784"/>
<path d="m8769 9421l-201 73 115 35z" color="#343686"/>
<path d="m6380 8281l-177 80 52 139z" color="#19b7bb"/>
<path d="m7320 9479l-120 33 82 103z" color="#3e3b93"/>
<path d="m7320 9479l-38 136 107-28z" color="#3c378c"/>
<path d="m9473 7110l-227 64 234 71z" color="#526f18"/>
<path d="m6458 7348l-221 77 7 141z" color="#69bf39"/>
<path d="m9065 9241l-214 66 125 49z" color="#33459b"/>
<path d="m7288 6429l-263 37-19 114z" color="#87661f"/>
<path d="m6672 8966l-143 64 83 123z" color="#4478e8"/>
<path d="m7997 9640l-112-1 5 101z" color="#342667"/>
<path d="m6733 6753l-257 191 242-65z" color="#8c9023"/>
<path d="m9585 8676l-153-79-62 136z" color="#1e6a95"/>
<path d="m9517 8808l-147-75-68 133z" color="#2664a0"/>
<path d="m6718 6879l-242 65-12 131z" color="#8a9b23"/>
<path d="m7120 9402l-29 148 109-38z" color="#4043a1"/>
<path d="m7504 9564l-115 23 71 100z" color="#39307e"/>
<path d="m8683 9529l-115-35-76 106z" color="#33317d"/>
<path d="m7885 9639l-111 4 22 101z" color="#342668"/>
<path d="m8108 9647l-111-7-13 101z" color="#332566"/>
<path d="m9646 8540l-159-81-55 138z" color="#166f87"/>
<path d="m8381 9574l-165 85 102 17z" color="#32286c"/>
<path d="m6340 8138l-182 82 45 141z" color="#15c0a7"/>
<path d="m9442 8938l-140-72-74 130z" color="#2c5da5"/>
<path d="m8924 6488l-256-43 16 114z" color="#705419"/>
<path d="m8924 6488l-240 71 262 44z" color="#6f571a"/>
<path d="m8492 9600l-111-26-63 102z" color="#322a70"/>
<path d="m6827 9215l-32 169 116-52z" color="#445bc9"/>
<path d="m8648 6337l-250 77 270 31z" color="#714f18"/>
<path d="m7504 9564l-44 123 99-20z" color="#382d77"/>
<path d="m7120 9402l-121 42 92 106z" color="#4146a8"/>
<path d="m7006 6580l-254 51-19 122z" color="#8d7922"/>
<path d="m7571 6298l-267 23-16 108z" color="#7d5419"/>
<path d="m9701 8402l-164-84-50 141z" color="#107476"/>
<path d="m6747 9093l-135 60 89 119z" color="#456cde"/>
<path d="m6258 7708l-168 228 188-85z" color="#38c86c"/>
<path d="m9688 7465l-208-82-7 141z" color="#3f7422"/>
<path d="m7774 9643l-110 10 40 99z" color="#352769"/>
<path d="m9361 9063l-133-67-79 125z" color="#3055a6"/>
<path d="m9681 7606l-221 60 206 81z" color="#2e7531"/>
<path d="m9460 6978l-231-70 11 131z" color="#5e6918"/>
<path d="m8648 6337l-262-30 12 107z" color="#724c17"/>
<path d="m8216 9659l-108-12-31 100z" color="#322464"/>
<path d="m6464 7075l-227 212 221-77z" color="#80ae26"/>
<path d="m8110 6191l-267 96 273 4z" color="#724615"/>
<path d="m7304 6321l-279 145 263-37z" color="#835b1c"/>
<path d="m8882 9466l-113-45-86 108z" color="#333888"/>
<path d="m6306 7995l-186 83 38 142z" color="#1cc593"/>
<path d="m7845 6188l-274 110 272-11z" color="#744715"/>
<path d="m9191 6660l-245-57 17 121z" color="#6c5c1a"/>
<path d="m7025 6466l-273 165 254-51z" color="#8b6d20"/>
<path d="m8976 9356l-207 65 113 45z" color="#333d8f"/>
<path d="m7997 9640l-107 100 94 1z" color="#322361"/>
<path d="m7885 9639l-89 105 94-4z" color="#332362"/>
<path d="m9748 8262l-169-86-42 142z" color="#0d7566"/>
<path d="m9274 9184l-125-63-84 120z" color="#314fa3"/>
<path d="m8108 9647l-124 94 93 6z" color="#32225f"/>
<path d="m6827 9215l-126 57 94 112z" color="#445fce"/>
<path d="m6458 7210l-221 77 0 138z" color="#78b62b"/>
<path d="m7774 9643l-70 109 92-8z" color="#342463"/>
<path d="m7664 9653l-105 14 57 97z" color="#35276a"/>
<path d="m9191 6660l-228 64 250 57z" color="#6a5e1a"/>
<path d="m8683 9529l-191 71 102 31z" color="#322e77"/>
<path d="m6911 9332l-18 160 106-48z" color="#424eb5"/>
<path d="m8318 9676l-102-17-49 98z" color="#312463"/>
<path d="m9460 6978l-220 61 233 71z" color="#5b6b18"/>
<path d="m8372 6207l-256 84 270 16z" color="#724615"/>
<path d="m8492 9600l-174 76 96 23z" color="#31286a"/>
<path d="m6244 7566l-177 228 191-86z" color="#4ec754"/>
<path d="m9585 8676l-215 57 147 75z" color="#216697"/>
<path d="m9517 8808l-215 58 140 72z" color="#2860a0"/>
<path d="m9787 8121l-172-88-36 143z" color="#107558"/>
<path d="m6278 7851l-188 85 30 142z" color="#2bc87c"/>
<path d="m7389 9587l-107 28 86 97z" color="#39307e"/>
<path d="m8110 6191l-265-3-2 99z" color="#724313"/>
<path d="m7200 9512l-14 137 96-34z" color="#3c378c"/>
<path d="m9646 8540l-214 57 153 79z" color="#186c89"/>
<path d="m9442 8938l-214 58 133 67z" color="#2d59a4"/>
<path d="m7581 6198l-277 123 267-23z" color="#784a16"/>
<path d="m9181 9301l-116-60-89 115z" color="#32469b"/>
<path d="m9688 7465l-215 59 208 82z" color="#3b7425"/>
<path d="m8216 9659l-139 88 90 10z" color="#31225e"/>
<path d="m7389 9587l-21 125 92-25z" color="#382d78"/>
<path d="m7200 9512l-109 38 95 99z" color="#3d3b93"/>
<path d="m7664 9653l-48 111 88-12z" color="#342464"/>
<path d="m9688 7327l-208-82 0 138z" color="#4b711b"/>
<path d="m8594 9631l-102-31-78 99z" color="#31296e"/>
<path d="m6733 6753l-239 63-18 128z" color="#8f8b23"/>
<path d="m7845 6188l-264 10-10 100z" color="#744413"/>
<path d="m9701 8402l-214 57 159 81z" color="#11707a"/>
<path d="m6752 6631l-258 185 239-63z" color="#8f8023"/>
<path d="m9361 9063l-212 58 125 63z" color="#3052a3"/>
<path d="m6911 9332l-116 52 98 108z" color="#4252bc"/>
<path d="m8372 6207l-262-16 6 100z" color="#724313"/>
<path d="m8882 9466l-199 63 102 40z" color="#323583"/>
<path d="m8785 9569l-102-40-89 102z" color="#32307a"/>
<path d="m6476 6944l-232 208 220-77z" color="#89a123"/>
<path d="m7559 9667l-99 20 73 94z" color="#36276b"/>
<path d="m6379 8772l-55 206 127-75z" color="#3b8eeb"/>
<path d="m9819 7979l-175-89-29 143z" color="#197448"/>
<path d="m7304 6321l-256 36-23 109z" color="#82581a"/>
<path d="m6314 8637l-68 214 133-79z" color="#329be4"/>
<path d="m6451 8903l-43 199 121-72z" color="#4180ea"/>
<path d="m9748 8262l-211 56 164 84z" color="#0d7369"/>
<path d="m9274 9184l-209 57 116 60z" color="#314b9e"/>
<path d="m9441 6851l-228-70 16 127z" color="#656319"/>
<path d="m8414 9699l-96-23-64 96z" color="#302361"/>
<path d="m6999 9444l-3 148 95-42z" color="#3f42a1"/>
<path d="m6258 7708l-191 86 23 142z" color="#40c864"/>
<path d="m9083 9411l-107-55-94 110z" color="#323e91"/>
<path d="m6255 8500l-80 220 139-83z" color="#26a8d5"/>
<path d="m8318 9676l-151 81 87 15z" color="#30215d"/>
<path d="m7025 6466l-248 50-25 115z" color="#8b6920"/>
<path d="m8898 6379l-250-42 20 108z" color="#724c17"/>
<path d="m6237 7425l-186 227 193-86z" color="#63c23f"/>
<path d="m8898 6379l-230 66 256 43z" color="#714f18"/>
<path d="m6529 9030l-30 190 113-67z" color="#4374e4"/>
<path d="m7559 9667l-26 114 83-17z" color="#342464"/>
<path d="m6464 7075l-220 77-7 135z" color="#83ab25"/>
<path d="m7984 9741l-94-1 5 94z" color="#311e57"/>
<path d="m7890 9740l-94 4 23 93z" color="#311f58"/>
<path d="m8077 9747l-93-6-13 94z" color="#301e56"/>
<path d="m6203 8361l-92 224 144-85z" color="#1bb3c2"/>
<path d="m8626 6235l-240 72 262 30z" color="#724615"/>
<path d="m6999 9444l-106 48 103 100z" color="#3f45a7"/>
<path d="m9688 7327l-208 56 208 82z" color="#47721d"/>
<path d="m9787 8121l-208 55 169 86z" color="#0e735b"/>
<path d="m9165 6543l-241-55 22 115z" color="#705419"/>
<path d="m7581 6198l-258 22-19 101z" color="#774614"/>
<path d="m9181 9301l-205 55 107 55z" color="#324396"/>
<path d="m8594 9631l-180 68 88 26z" color="#312769"/>
<path d="m6612 9153l-16 181 105-62z" color="#4366d7"/>
<path d="m7796 9744l-92 8 41 92z" color="#321f59"/>
<path d="m7048 6357l-271 159 248-50z" color="#875e1c"/>
<path d="m9441 6851l-212 57 231 70z" color="#636518"/>
<path d="m9843 7838l-177-91-22 143z" color="#247339"/>
<path d="m8626 6235l-254-28 14 100z" color="#724313"/>
<path d="m8167 9757l-90-10-32 93z" color="#301e55"/>
<path d="m7323 6220l-275 137 256-36z" color="#7c4c16"/>
<path d="m7282 9615l3 126 83-29z" color="#382d78"/>
<path d="m9681 7192l-208-82 7 135z" color="#556e18"/>
<path d="m6158 8220l-104 229 149-88z" color="#16bdad"/>
<path d="m7282 9615l-96 34 99 92z" color="#39307e"/>
<path d="m9165 6543l-219 60 245 57z" color="#6f571a"/>
<path d="m8785 9569l-191 62 90 35z" color="#312d74"/>
<path d="m8980 9516l-98-50-97 103z" color="#323685"/>
<path d="m8103 6098l-258 90 265 3z" color="#713c10"/>
<path d="m7460 9687l-92 25 87 90z" color="#36276b"/>
<path d="m6244 7566l-193 86 16 142z" color="#56c64c"/>
<path d="m7848 6095l-267 103 264-10z" color="#713c10"/>
<path d="m8414 9699l-160 73 80 18z" color="#30215b"/>
<path d="m6701 9272l-3 170 97-58z" color="#4359c7"/>
<path d="m7984 9741l-89 93 76 1z" color="#301d52"/>
<path d="m7890 9740l-71 97 76-3z" color="#301d53"/>
<path d="m8684 9666l-90-35-92 94z" color="#31296c"/>
<path d="m7704 9752l-88 12 58 90z" color="#321f59"/>
<path d="m7091 9550l11 137 84-38z" color="#3b368b"/>
<path d="m9819 7979l-204 54 172 88z" color="#15724c"/>
<path d="m6451 8903l-127 75 84 124z" color="#3f85eb"/>
<path d="m8502 9725l-88-26-80 91z" color="#302360"/>
<path d="m7460 9687l-5 115 78-21z" color="#352465"/>
<path d="m9083 9411l-201 55 98 50z" color="#323b8c"/>
<path d="m6379 8772l-133 79 78 127z" color="#3892e9"/>
<path d="m8077 9747l-106 88 74 5z" color="#2f1c52"/>
<path d="m6752 6631l-235 63-23 122z" color="#907b23"/>
<path d="m8254 9772l-87-15-49 91z" color="#2f1d54"/>
<path d="m6529 9030l-121 72 91 118z" color="#4277e6"/>
<path d="m7796 9744l-51 100 74-7z" color="#311d54"/>
<path d="m6237 7287l-193 225 193-87z" color="#74ba2f"/>
<path d="m6314 8637l-139 83 71 131z" color="#2d9fdf"/>
<path d="m6120 8078l-115 232 153-90z" color="#18c39a"/>
<path d="m6494 6816l-236 204 218-76z" color="#8f9223"/>
<path d="m6777 6516l-260 178 235-63z" color="#8f7021"/>
<path d="m7091 9550l-95 42 106 95z" color="#3c3a93"/>
<path d="m8356 6114l-246 77 262 16z" color="#713c10"/>
<path d="m6612 9153l-113 67 97 114z" color="#436bdc"/>
<path d="m6255 8500l-144 85 64 135z" color="#22abcf"/>
<path d="m9859 7697l-178-91-15 141z" color="#32722c"/>
<path d="m8167 9757l-122 83 73 8z" color="#2f1c51"/>
<path d="m6476 6944l-218 76-14 132z" color="#8b9d23"/>
<path d="m6795 9384l10 160 88-52z" color="#414db4"/>
<path d="m7704 9752l-30 102 71-10z" color="#311d55"/>
<path d="m8103 6098l-255-3-3 93z" color="#71390f"/>
<path d="m7593 6105l-270 115 258-22z" color="#723d10"/>
<path d="m9416 6728l-225-68 22 121z" color="#6c5c1a"/>
<path d="m9681 7192l-201 53 208 82z" color="#526f18"/>
<path d="m9557 9016l-115-78-81 125z" color="#2a599f"/>
<path d="m9638 8890l-121-82-75 130z" color="#255f99"/>
<path d="m8873 9614l-88-45-101 97z" color="#312f78"/>
<path d="m9470 9137l-109-74-87 121z" color="#2e52a0"/>
<path d="m7616 9764l-83 17 74 86z" color="#321f5a"/>
<path d="m6701 9272l-105 62 102 108z" color="#435dcc"/>
<path d="m9843 7838l-199 52 175 89z" color="#20723d"/>
<path d="m9711 8761l-126-85-68 132z" color="#1d658e"/>
<path d="m8980 9516l-195 53 88 45z" color="#313480"/>
<path d="m6203 8361l-149 88 57 136z" color="#19b7bb"/>
<path d="m7848 6095l-255 10-12 93z" color="#71390f"/>
<path d="m6237 7425l-193 87 7 140z" color="#6ac039"/>
<path d="m6090 7936l-126 234 156-92z" color="#25c784"/>
<path d="m8334 9790l-80-18-66 88z" color="#2f1d53"/>
<path d="m9376 9254l-102-70-93 117z" color="#304c9d"/>
<path d="m8356 6114l-253-16 7 93z" color="#71390f"/>
<path d="m8684 9666l-182 59 78 31z" color="#302667"/>
<path d="m7323 6220l-249 35-26 102z" color="#7b4815"/>
<path d="m8502 9725l-168 65 74 23z" color="#2f205a"/>
<path d="m7048 6357l-242 49-29 110z" color="#865a1b"/>
<path d="m9666 7059l-206-81 13 132z" color="#5e6918"/>
<path d="m8254 9772l-136 76 70 12z" color="#2e1c50"/>
<path d="m9777 8628l-131-88-61 136z" color="#156980"/>
<path d="m7368 9712l-83 29 101 85z" color="#36276c"/>
<path d="m9416 6728l-203 53 228 70z" color="#6a5e1a"/>
<path d="m7616 9764l-9 103 67-13z" color="#311d55"/>
<path d="m8869 6276l-221 61 250 42z" color="#724615"/>
<path d="m7368 9712l18 114 69-24z" color="#352465"/>
<path d="m6795 9384l-97 58 107 102z" color="#4151ba"/>
<path d="m6893 9492l23 148 80-48z" color="#3e41a0"/>
<path d="m8869 6276l-243-41 22 102z" color="#724313"/>
<path d="m7186 9649l26 125 73-33z" color="#382d78"/>
<path d="m9276 9365l-95-64-98 110z" color="#314496"/>
<path d="m6158 8220l-153 90 49 139z" color="#15bfa7"/>
<path d="m9133 6433l-235-54 26 109z" color="#724c17"/>
<path d="m8580 9756l-78-31-94 88z" color="#2f225e"/>
<path d="m6244 7152l-201 222 194-87z" color="#81b026"/>
<path d="m7186 9649l-84 38 110 87z" color="#39307e"/>
<path d="m9836 8493l-135-91-55 138z" color="#0f6d6f"/>
<path d="m9867 7557l-179-92-7 141z" color="#3f7222"/>
<path d="m7971 9835l-76-1 5 87z" color="#2f194a"/>
<path d="m8601 6141l-229 66 254 28z" color="#713c10"/>
<path d="m7895 9834l-76 3 24 86z" color="#2f194b"/>
<path d="m9133 6433l-209 55 241 55z" color="#714f18"/>
<path d="m7533 9781l-78 21 90 82z" color="#33205a"/>
<path d="m7074 6255l-268 151 242-49z" color="#804f17"/>
<path d="m6067 7794l-136 235 159-93z" color="#38c86c"/>
<path d="m8045 9840l-74-5-14 87z" color="#2e194a"/>
<path d="m9859 7697l-193 50 177 91z" color="#2d7230"/>
<path d="m9171 9471l-88-60-103 105z" color="#313d8d"/>
<path d="m8873 9614l-189 52 78 40z" color="#302c72"/>
<path d="m8762 9706l-78-40-104 90z" color="#30286a"/>
<path d="m7593 6105l-249 22-21 93z" color="#723a0f"/>
<path d="m6893 9492l-88 52 111 96z" color="#3f44a6"/>
<path d="m8408 9813l-74-23-81 85z" color="#2e1d52"/>
<path d="m8334 9790l-146 70 65 15z" color="#2e1b4f"/>
<path d="m6517 6694l-239 197 216-75z" color="#928223"/>
<path d="m7819 9837l-74 7 42 84z" color="#2f194b"/>
<path d="m9557 9016l-196 47 109 74z" color="#2b559d"/>
<path d="m7344 6127l-270 128 249-35z" color="#753e11"/>
<path d="m8601 6141l-245-27 16 93z" color="#71390f"/>
<path d="m8118 9848l-73-8-32 85z" color="#2e1949"/>
<path d="m9666 7059l-193 51 208 82z" color="#5b6b18"/>
<path d="m6120 8078l-156 92 41 140z" color="#1cc593"/>
<path d="m9470 9137l-196 47 102 70z" color="#2e509e"/>
<path d="m6777 6516l-230 61-30 117z" color="#8f6c20"/>
<path d="m9638 8890l-196 48 115 78z" color="#265c99"/>
<path d="m7533 9781l12 103 62-17z" color="#321e55"/>
<path d="m9886 8355l-138-93-47 140z" color="#0c6e60"/>
<path d="m6237 7287l-194 87 1 138z" color="#79b72c"/>
<path d="m6494 6816l-216 75-20 129z" color="#918d24"/>
<path d="m6996 9592l36 136 70-41z" color="#3b368b"/>
<path d="m9376 9254l-195 47 95 64z" color="#304999"/>
<path d="m9711 8761l-194 47 121 82z" color="#1f6190"/>
<path d="m6806 6406l-259 171 230-61z" color="#8a611d"/>
<path d="m9061 9570l-81-54-107 98z" color="#313581"/>
<path d="m7745 9844l-71 10 59 82z" color="#301a4c"/>
<path d="m8095 6013l-247 82 255 3z" color="#6f330c"/>
<path d="m8580 9756l-172 57 66 26z" color="#2e2059"/>
<path d="m7850 6011l-257 94 255-10z" color="#6f330c"/>
<path d="m8188 9860l-70-12-50 83z" color="#2d1848"/>
<path d="m9384 6610l-219-67 26 117z" color="#705419"/>
<path d="m9276 9365l-193 46 88 60z" color="#304192"/>
<path d="m7971 9835l-71 86 57 1z" color="#2e1746"/>
<path d="m7895 9834l-52 89 57-2z" color="#2e1746"/>
<path d="m9777 8628l-192 48 126 85z" color="#176682"/>
<path d="m6996 9592l-80 48 116 88z" color="#3c3a92"/>
<path d="m6051 7652l-145 236 161-94z" color="#4fc754"/>
<path d="m8045 9840l-88 82 56 3z" color="#2d1745"/>
<path d="m7285 9741l40 113 61-28z" color="#352465"/>
<path d="m9645 6931l-204-80 19 127z" color="#656319"/>
<path d="m6324 8978l-11 200 95-76z" color="#407fe9"/>
<path d="m6408 9102l1 190 90-72z" color="#4273e3"/>
<path d="m7819 9837l-32 91 56-5z" color="#2e1847"/>
<path d="m7285 9741l-73 33 113 80z" color="#36276c"/>
<path d="m9929 8216l-142-95-39 141z" color="#0f6e52"/>
<path d="m9867 7419l-179-92 0 138z" color="#4b711b"/>
<path d="m9867 7557l-186 49 178 91z" color="#3b7225"/>
<path d="m6090 7936l-159 93 33 141z" color="#2bc87c"/>
<path d="m6246 8851l-23 208 101-81z" color="#3a8dea"/>
<path d="m6499 9220l13 181 84-67z" color="#4365d6"/>
<path d="m7455 9802l-69 24 103 78z" color="#33205a"/>
<path d="m8762 9706l-182 50 68 35z" color="#2f2665"/>
<path d="m6258 7020l-207 218 193-86z" color="#8aa224"/>
<path d="m8408 9813l-155 62 59 18z" color="#2d1b4e"/>
<path d="m9171 9471l-191 45 81 54z" color="#303a88"/>
<path d="m9836 8493l-190 47 131 88z" color="#106a73"/>
<path d="m7674 9854l-67 13 76 79z" color="#301a4c"/>
<path d="m8338 6028l-235 70 253 16z" color="#6f330c"/>
<path d="m8118 9848l-105 77 55 6z" color="#2d1745"/>
<path d="m6175 8720l-35 215 106-84z" color="#319ae2"/>
<path d="m9384 6610l-193 50 225 68z" color="#6f571a"/>
<path d="m7455 9802l34 102 56-20z" color="#321e56"/>
<path d="m7745 9844l-12 92 54-8z" color="#2f1847"/>
<path d="m8648 9791l-68-35-106 83z" color="#2e225d"/>
<path d="m8945 9663l-72-49-111 92z" color="#302e75"/>
<path d="m8474 9839l-66-26-96 80z" color="#2d1c51"/>
<path d="m6596 9334l24 170 78-62z" color="#4259c6"/>
<path d="m8253 9875l-65-15-68 80z" color="#2d1848"/>
<path d="m7102 9687l49 123 61-36z" color="#382d78"/>
<path d="m7606 6020l-262 107 249-22z" color="#6f330c"/>
<path d="m8095 6013l-245-2-2 84z" color="#6e300b"/>
<path d="m7074 6255l-235 47-33 104z" color="#7f4a15"/>
<path d="m6111 8585l-47 223 111-88z" color="#26a7d4"/>
<path d="m7344 6127l-240 34-30 94z" color="#733a0f"/>
<path d="m6698 9442l36 158 71-56z" color="#404cb3"/>
<path d="m6244 7152l-193 86-8 136z" color="#84ac25"/>
<path d="m9061 9570l-188 44 72 49z" color="#30327d"/>
<path d="m8188 9860l-120 71 52 9z" color="#2d1744"/>
<path d="m7102 9687l-70 41 119 82z" color="#392f7e"/>
<path d="m9886 8355l-185 47 135 91z" color="#0c6c63"/>
<path d="m7850 6011l-244 9-13 85z" color="#6e300b"/>
<path d="m9963 8076l-144-97-32 142z" color="#186f45"/>
<path d="m7674 9854l9 92 50-10z" color="#2f1847"/>
<path d="m9645 6931l-185 47 206 81z" color="#636518"/>
<path d="m8835 6181l-209 54 243 41z" color="#713c10"/>
<path d="m8338 6028l-243-15 8 85z" color="#6e300b"/>
<path d="m9096 6329l-227-53 29 103z" color="#724313"/>
<path d="m6067 7794l-161 94 25 141z" color="#40c863"/>
<path d="m8835 6181l-234-40 25 94z" color="#71390f"/>
<path d="m7607 9867l-62 17 91 74z" color="#301a4c"/>
<path d="m6044 7512l-155 236 162-96z" color="#63c23f"/>
<path d="m6547 6577l-242 191 212-74z" color="#917222"/>
<path d="m6517 6694l-212 74-27 123z" color="#927d23"/>
<path d="m6054 8449l-58 228 115-92z" color="#1bb3c1"/>
<path d="m9096 6329l-198 50 235 54z" color="#724615"/>
<path d="m8826 9749l-64-43-114 85z" color="#2f2768"/>
<path d="m8312 9893l-59-18-84 77z" color="#2c1847"/>
<path d="m6805 9544l48 146 63-50z" color="#3e419f"/>
<path d="m9867 7419l-179 46 179 92z" color="#47721d"/>
<path d="m6408 9102l-95 76 96 114z" color="#4276e5"/>
<path d="m6499 9220l-90 72 103 109z" color="#426adb"/>
<path d="m8648 9791l-174 48 56 29z" color="#2e1f57"/>
<path d="m8474 9839l-162 54 53 21z" color="#2d1b4d"/>
<path d="m7104 6161l-265 141 235-47z" color="#784011"/>
<path d="m6806 6406l-224 60-35 111z" color="#895c1c"/>
<path d="m8253 9875l-133 65 49 12z" color="#2c1643"/>
<path d="m9859 7283l-178-91 7 135z" color="#556e18"/>
<path d="m8945 9663l-183 43 64 43z" color="#2f2b70"/>
<path d="m6324 8978l-101 81 90 119z" color="#3e84ea"/>
<path d="m6596 9334l-84 67 108 103z" color="#425ccb"/>
<path d="m7386 9826l-61 28 115 72z" color="#33205a"/>
<path d="m7607 9867l29 91 47-12z" color="#2f1848"/>
<path d="m9929 8216l-181 46 138 93z" color="#0d6c55"/>
<path d="m7386 9826l54 100 49-22z" color="#321e56"/>
<path d="m8573 6055l-217 59 245 27z" color="#6f330c"/>
<path d="m7212 9774l61 110 52-30z" color="#352465"/>
<path d="m7957 9922l-57-1 5 79z" color="#2d153f"/>
<path d="m6246 8851l-106 84 83 124z" color="#3891e8"/>
<path d="m6698 9442l-78 62 114 96z" color="#4050b9"/>
<path d="m7900 9921l-57 2 24 78z" color="#2d1540"/>
<path d="m8530 9868l-56-29-109 75z" color="#2d1c50"/>
<path d="m9616 6806l-200-78 25 123z" color="#6c5c1a"/>
<path d="m8013 9925l-56-3-14 78z" color="#2c143f"/>
<path d="m6278 6891l-212 215 192-86z" color="#909324"/>
<path d="m9989 7936l-146-98-24 141z" color="#247038"/>
<path d="m6005 8310l-69 233 118-94z" color="#15bcac"/>
<path d="m7606 6020l-239 21-23 86z" color="#6e300b"/>
<path d="m6839 6302l-257 164 224-60z" color="#835118"/>
<path d="m7212 9774l-61 36 122 74z" color="#36276b"/>
<path d="m6916 9640l60 133 56-45z" color="#3b368b"/>
<path d="m9347 6498l-214-65 32 110z" color="#724c17"/>
<path d="m7367 6041l-263 120 240-34z" color="#6f330c"/>
<path d="m7843 9923l-56 5 42 76z" color="#2d1540"/>
<path d="m9455 9328l-79-74-100 111z" color="#2e4a98"/>
<path d="m8573 6055l-235-27 18 86z" color="#6e300b"/>
<path d="m7545 9884l-56 20 105 69z" color="#301a4c"/>
<path d="m8068 9931l-55-6-32 77z" color="#2c143e"/>
<path d="m9553 9216l-83-79-94 117z" color="#2c4f9a"/>
<path d="m6175 8720l-111 88 76 127z" color="#2d9ede"/>
<path d="m9349 9434l-73-69-105 106z" color="#2f4292"/>
<path d="m6051 7652l-162 96 17 140z" color="#56c54c"/>
<path d="m6805 9544l-71 56 119 90z" color="#3e44a5"/>
<path d="m9645 9099l-88-83-87 121z" color="#295698"/>
<path d="m8365 9914l-53-21-98 72z" color="#2c1846"/>
<path d="m8703 9828l-55-37-118 77z" color="#2e215b"/>
<path d="m8312 9893l-143 59 45 13z" color="#2c1643"/>
<path d="m7787 9928l-54 8 60 74z" color="#2d1540"/>
<path d="m8826 9749l-178 42 55 37z" color="#2e2563"/>
<path d="m9239 9534l-68-63-110 99z" color="#303b89"/>
<path d="m6258 7020l-192 86-15 132z" color="#8c9d24"/>
<path d="m6043 7374l-162 234 163-96z" color="#74bb2f"/>
<path d="m7545 9884l49 89 42-15z" color="#2f1848"/>
<path d="m9963 8076l-176 45 142 95z" color="#146d49"/>
<path d="m8120 9940l-52-9-51 76z" color="#2c143e"/>
<path d="m9347 6498l-182 45 219 67z" color="#714f18"/>
<path d="m9730 8977l-92-87-81 126z" color="#235b92"/>
<path d="m5964 8170l-81 237 122-97z" color="#18c299"/>
<path d="m6111 8585l-115 92 68 131z" color="#22aace"/>
<path d="m8087 5937l-237 74 245 2z" color="#6c2a09"/>
<path d="m6916 9640l-63 50 123 83z" color="#3c3992"/>
<path d="m9122 9628l-61-58-116 93z" color="#30347e"/>
<path d="m7853 5934l-247 86 244-9z" color="#6c2a09"/>
<path d="m7032 9728l70 121 49-39z" color="#382d78"/>
<path d="m9616 6806l-175 45 204 80z" color="#6a5e1a"/>
<path d="m9859 7283l-171 44 179 92z" color="#526f18"/>
<path d="m7957 9922l-52 78 38 0z" color="#2c143d"/>
<path d="m7900 9921l-33 80 38-1z" color="#2c143d"/>
<path d="m7733 9936l-50 10 77 70z" color="#2d1540"/>
<path d="m8530 9868l-165 46 45 23z" color="#2c1a4c"/>
<path d="m8013 9925l-70 75 38 2z" color="#2c133c"/>
<path d="m9808 8852l-97-91-73 129z" color="#1b6087"/>
<path d="m7843 9923l-14 81 38-3z" color="#2c143d"/>
<path d="m8169 9952l-49-12-68 73z" color="#2b143e"/>
<path d="m10006 7796l-147-99-16 141z" color="#32722c"/>
<path d="m7325 9854l74 96 41-24z" color="#321e56"/>
<path d="m9843 7150l-177-91 15 133z" color="#5e6918"/>
<path d="m7325 9854l-52 30 126 66z" color="#33205a"/>
<path d="m9001 9715l-56-52-119 86z" color="#2f2d73"/>
<path d="m8068 9931l-87 71 36 5z" color="#2c133c"/>
<path d="m7787 9928l6 82 36-6z" color="#2d143e"/>
<path d="m7489 9904l-49 22 117 64z" color="#301a4d"/>
<path d="m7104 6161l-226 45-39 96z" color="#763c10"/>
<path d="m6054 8449l-118 94 60 134z" color="#18b6ba"/>
<path d="m8318 5951l-223 62 243 15z" color="#6c2a09"/>
<path d="m6547 6577l-208 72-34 119z" color="#916d21"/>
<path d="m7032 9728l-56 45 126 76z" color="#382f7d"/>
<path d="m6582 6466l-243 183 208-72z" color="#8d621e"/>
<path d="m8365 9914l-151 51 40 16z" color="#2b1642"/>
<path d="m8703 9828l-173 40 47 31z" color="#2d1f56"/>
<path d="m6044 7512l-163 96 8 140z" color="#69c039"/>
<path d="m9989 7936l-170 43 144 97z" color="#1f6f3c"/>
<path d="m9877 8722l-100-94-66 133z" color="#146479"/>
<path d="m7489 9904l68 86 37-17z" color="#2f1848"/>
<path d="m7683 9946l-47 12 92 67z" color="#2d1541"/>
<path d="m9455 9328l-179 37 73 69z" color="#2e4695"/>
<path d="m8410 9937l-45-23-111 67z" color="#2c1745"/>
<path d="m8577 9899l-47-31-120 69z" color="#2c1c4f"/>
<path d="m7621 5943l-254 98 239-21z" color="#6c2a09"/>
<path d="m9349 9434l-178 37 68 63z" color="#2f3f8e"/>
<path d="m5931 8029l-91 240 124-99z" color="#25c683"/>
<path d="m8120 9940l-103 67 35 6z" color="#2b133c"/>
<path d="m9553 9216l-177 38 79 74z" color="#2c4d98"/>
<path d="m7733 9936l27 80 33-6z" color="#2d143e"/>
<path d="m7367 6041l-230 32-33 88z" color="#6e300b"/>
<path d="m8214 9965l-45-13-84 68z" color="#2b143d"/>
<path d="m9054 6231l-219-50 34 95z" color="#71390f"/>
<path d="m8087 5937l-234-3-3 77z" color="#6b2808"/>
<path d="m9239 9534l-178 36 61 58z" color="#2f3885"/>
<path d="m7151 9810l82 107 40-33z" color="#342465"/>
<path d="m8797 6092l-196 49 234 40z" color="#6f330c"/>
<path d="m6305 6768l-216 208 189-85z" color="#938324"/>
<path d="m8875 9795l-49-46-123 79z" color="#2e2666"/>
<path d="m9645 9099l-175 38 83 79z" color="#2a5297"/>
<path d="m9054 6231l-185 45 227 53z" color="#713c10"/>
<path d="m6051 7238l-170 232 162-96z" color="#81b026"/>
<path d="m6839 6302l-217 58-40 106z" color="#824c16"/>
<path d="m8797 6092l-224-37 28 86z" color="#6e300b"/>
<path d="m9580 6687l-196-77 32 118z" color="#705419"/>
<path d="m9122 9628l-177 35 56 52z" color="#2f317a"/>
<path d="m7853 5934l-232 9-15 77z" color="#6b2808"/>
<path d="m6005 8310l-122 97 53 136z" color="#15bea6"/>
<path d="m8318 5951l-231-14 8 76z" color="#6b2808"/>
<path d="m8169 9952l-117 61 33 7z" color="#2b133b"/>
<path d="m7151 9810l-49 39 131 68z" color="#36276b"/>
<path d="m9730 8977l-173 39 88 83z" color="#255893"/>
<path d="m7683 9946l45 79 32-9z" color="#2d143e"/>
<path d="m9939 8590l-103-97-59 135z" color="#0e6769"/>
<path d="m6278 6891l-189 85-23 130z" color="#918e24"/>
<path d="m6512 9401l52 168 56-65z" color="#4158c5"/>
<path d="m7137 6073l-259 133 226-45z" color="#70330c"/>
<path d="m7636 9958l-42 15 106 62z" color="#2e1541"/>
<path d="m6409 9292l42 179 61-70z" color="#4265d5"/>
<path d="m10014 7656l-147-99-8 140z" color="#3f7222"/>
<path d="m6620 9504l63 156 51-60z" color="#3f4bb2"/>
<path d="m9001 9715l-175 34 49 46z" color="#2e2a6e"/>
<path d="m6313 9178l31 190 65-76z" color="#4272e1"/>
<path d="m9303 6392l-207-63 37 104z" color="#724313"/>
<path d="m9843 7150l-162 42 178 91z" color="#5b6b18"/>
<path d="m8254 9981l-40-16-99 64z" color="#2b143d"/>
<path d="m6878 6206l-256 154 217-58z" color="#7b4112"/>
<path d="m8410 9937l-156 44 34 17z" color="#2b1642"/>
<path d="m8577 9899l-167 38 38 25z" color="#2c1a4b"/>
<path d="m8745 9868l-42-40-126 71z" color="#2d215a"/>
<path d="m6734 9600l73 144 46-54z" color="#3d409f"/>
<path d="m7440 9926l-41 24 127 58z" color="#301a4c"/>
<path d="m9808 8852l-170 38 92 87z" color="#1e5d89"/>
<path d="m5906 7888l-102 242 127-101z" color="#38c76b"/>
<path d="m10006 7796l-163 42 146 98z" color="#2d7130"/>
<path d="m7440 9926l86 82 31-18z" color="#2f1848"/>
<path d="m8542 5976l-204 52 235 27z" color="#6c2a09"/>
<path d="m6223 9059l20 200 70-81z" color="#407ee7"/>
<path d="m8214 9965l-129 55 30 9z" color="#2b133b"/>
<path d="m7273 9884l93 92 33-26z" color="#321e56"/>
<path d="m7636 9958l64 77 28-10z" color="#2d143e"/>
<path d="m9580 6687l-164 41 200 78z" color="#6f571a"/>
<path d="m6853 9690l82 130 41-47z" color="#3a358a"/>
<path d="m8448 9962l-38-25-122 61z" color="#2b1745"/>
<path d="m6043 7374l-162 96 0 138z" color="#79b72b"/>
<path d="m8875 9795l-172 33 42 40z" color="#2d2462"/>
<path d="m9303 6392l-170 41 214 65z" color="#724615"/>
<path d="m9992 8455l-106-100-50 138z" color="#0c685b"/>
<path d="m9819 7020l-174-89 21 128z" color="#656319"/>
<path d="m5964 8170l-124 99 43 138z" color="#1bc392"/>
<path d="m7943 10000l-38 0 5 70z" color="#2b1238"/>
<path d="m7273 9884l-40 33 133 59z" color="#331f5a"/>
<path d="m7621 5943l-228 20-26 78z" color="#6b2808"/>
<path d="m7393 5963l-256 110 230-32z" color="#6c2a09"/>
<path d="m7905 10000l-38 1 24 70z" color="#2b1238"/>
<path d="m7981 10002l-38-2-14 70z" color="#2b1238"/>
<path d="m6140 8935l9 209 74-85z" color="#3a8ce8"/>
<path d="m7594 9973l-37 17 118 56z" color="#2e1541"/>
<path d="m7867 10001l-38 3 43 68z" color="#2b1239"/>
<path d="m9877 8722l-166 39 97 91z" color="#16617c"/>
<path d="m8542 5976l-224-25 20 77z" color="#6b2808"/>
<path d="m8017 10007l-36-5-33 69z" color="#2b1238"/>
<path d="m6976 9773l91 117 35-41z" color="#372c77"/>
<path d="m8288 9998l-34-17-112 59z" color="#2a143c"/>
<path d="m8612 9933l-35-34-129 63z" color="#2c1b4e"/>
<path d="m7829 10004l-36 6 61 65z" color="#2c1239"/>
<path d="m8254 9981l-139 48 27 11z" color="#2a133b"/>
<path d="m8052 10013l-35-6-51 67z" color="#2b1238"/>
<path d="m7594 9973l81 73 25-11z" color="#2d143e"/>
<path d="m8745 9868l-168 31 35 34z" color="#2c1e55"/>
<path d="m6066 7106l-177 228 162-96z" color="#8aa224"/>
<path d="m6620 9504l-56 65 119 91z" color="#404fb8"/>
<path d="m6582 6466l-203 70-40 113z" color="#8b5e1c"/>
<path d="m6064 8808l-1 217 77-90z" color="#3199e1"/>
<path d="m6734 9600l-51 60 124 84z" color="#3e43a4"/>
<path d="m6512 9401l-61 70 113 98z" color="#415cca"/>
<path d="m7793 10010l-33 6 77 62z" color="#2c1239"/>
<path d="m10015 7518l-148-99 0 138z" color="#4b711b"/>
<path d="m6622 6360l-243 176 203-70z" color="#865318"/>
<path d="m8448 9962l-160 36 28 20z" color="#2b1641"/>
<path d="m6853 9690l-46 54 128 76z" color="#3b3991"/>
<path d="m5889 7748l-111 242 128-102z" color="#4ec653"/>
<path d="m6339 6649l-219 202 185-83z" color="#927322"/>
<path d="m8085 10020l-33-7-68 63z" color="#2a1137"/>
<path d="m6409 9292l-65 76 107 103z" color="#4269d9"/>
<path d="m10037 8318l-108-102-43 139z" color="#0f6a4f"/>
<path d="m7102 9849l101 102 30-34z" color="#342465"/>
<path d="m9939 8590l-162 38 100 94z" color="#0f646d"/>
<path d="m10014 7656l-155 41 147 99z" color="#3b7225"/>
<path d="m7399 9950l102 78 25-20z" color="#2f1848"/>
<path d="m5931 8029l-127 101 36 139z" color="#2bc67b"/>
<path d="m8078 5868l-225 66 234 3z" color="#692306"/>
<path d="m7399 9950l-33 26 135 52z" color="#301a4c"/>
<path d="m7857 5866l-236 77 232-9z" color="#692306"/>
<path d="m6976 9773l-41 47 132 70z" color="#382f7d"/>
<path d="m7557 9990l-31 18 128 50z" color="#2e1541"/>
<path d="m7760 10016l-32 9 93 58z" color="#2c1239"/>
<path d="m6313 9178l-70 81 101 109z" color="#4175e3"/>
<path d="m7943 10000l-33 70 19 0z" color="#2b1136"/>
<path d="m7905 10000l-14 71 19-1z" color="#2b1136"/>
<path d="m7137 6073l-217 44-42 89z" color="#6f300b"/>
<path d="m6305 6768l-185 83-31 125z" color="#937e23"/>
<path d="m9819 7020l-153 39 177 91z" color="#636518"/>
<path d="m9537 6573l-190-75 37 112z" color="#724c17"/>
<path d="m7981 10002l-52 68 19 1z" color="#2a1136"/>
<path d="m9164 9689l-42-61-121 87z" color="#2e337c"/>
<path d="m9284 9601l-45-67-117 94z" color="#2f3a86"/>
<path d="m7867 10001l5 71 19-1z" color="#2b1136"/>
<path d="m5996 8677l-12 224 80-93z" color="#25a5d3"/>
<path d="m8115 10029l-30-9-85 60z" color="#2a1137"/>
<path d="m8288 9998l-146 42 23 12z" color="#2a133a"/>
<path d="m8612 9933l-164 29 28 27z" color="#2b1a4a"/>
<path d="m9038 9770l-37-55-126 80z" color="#2e2c71"/>
<path d="m9399 9506l-50-72-110 100z" color="#2e408e"/>
<path d="m8476 9989l-28-27-132 56z" color="#2b1744"/>
<path d="m8316 10018l-28-20-123 54z" color="#2a133c"/>
<path d="m7557 9990l97 68 21-12z" color="#2d143e"/>
<path d="m8017 10007l-69 64 18 3z" color="#2a1135"/>
<path d="m7829 10004l25 71 18-3z" color="#2b1136"/>
<path d="m6051 7238l-162 96-8 136z" color="#84ab25"/>
<path d="m7102 9849l-35 41 136 61z" color="#35276b"/>
<path d="m9007 6141l-210-49 38 89z" color="#6e300b"/>
<path d="m7233 9917l109 87 24-28z" color="#321d55"/>
<path d="m6223 9059l-74 85 94 115z" color="#3e82e8"/>
<path d="m8908 9844l-33-49-130 73z" color="#2d2664"/>
<path d="m9508 9405l-53-77-106 106z" color="#2d4793"/>
<path d="m6878 6206l-210 56-46 98z" color="#783d10"/>
<path d="m7728 10025l-28 10 107 53z" color="#2c1239"/>
<path d="m8052 10013l-86 61 18 2z" color="#2a1135"/>
<path d="m9007 6141l-172 40 219 50z" color="#6f330c"/>
<path d="m8296 5882l-209 55 231 14z" color="#692306"/>
<path d="m7793 10010l44 68 17-3z" color="#2b1136"/>
<path d="m9992 8455l-156 38 103 97z" color="#0c665e"/>
<path d="m8142 10040l-27-11-100 56z" color="#2a1137"/>
<path d="m7393 5963l-220 31-36 79z" color="#6b2808"/>
<path d="m8756 6012l-183 43 224 37z" color="#6c2a09"/>
<path d="m7636 5874l-243 89 228-20z" color="#692306"/>
<path d="m10073 8180l-110-104-34 140z" color="#176d44"/>
<path d="m9788 6894l-172-88 29 125z" color="#6c5c1a"/>
<path d="m8085 10020l-101 56 16 4z" color="#2a1135"/>
<path d="m8774 9910l-29-42-133 65z" color="#2c2059"/>
<path d="m9610 9298l-57-82-98 112z" color="#2b4c95"/>
<path d="m7760 10016l61 67 16-5z" color="#2b1136"/>
<path d="m7233 9917l-30 34 139 53z" color="#321f5a"/>
<path d="m5936 8543l-24 230 84-96z" color="#1bb1c0"/>
<path d="m9537 6573l-153 37 196 77z" color="#714f18"/>
<path d="m8756 6012l-214-36 31 79z" color="#6b2808"/>
<path d="m9254 6292l-200-61 42 98z" color="#71390f"/>
<path d="m8078 5868l-221-2-4 68z" color="#672005"/>
<path d="m6140 8935l-77 90 86 119z" color="#378fe6"/>
<path d="m5881 7608l-121 243 129-103z" color="#63c13f"/>
<path d="m5906 7888l-128 102 26 140z" color="#3fc763"/>
<path d="m7700 10035l-25 11 120 47z" color="#2c1239"/>
<path d="m8476 9989l-160 29 22 20z" color="#2a1540"/>
<path d="m8316 10018l-151 34 18 12z" color="#2a133a"/>
<path d="m7526 10008l-25 20 137 43z" color="#2e1541"/>
<path d="m6920 6117l-252 145 210-56z" color="#72340d"/>
<path d="m8115 10029l-115 51 15 5z" color="#2a1135"/>
<path d="m7173 5994l-253 123 217-44z" color="#6c2a09"/>
<path d="m7526 10008l112 63 16-13z" color="#2d143e"/>
<path d="m7728 10025l79 63 14-5z" color="#2b1137"/>
<path d="m10006 7382l-147-99 8 136z" color="#556e18"/>
<path d="m10015 7518l-148 39 147 99z" color="#47721d"/>
<path d="m6089 6976l-183 224 160-94z" color="#909324"/>
<path d="m8165 10052l-23-12-114 50z" color="#2a1137"/>
<path d="m7366 9976l117 73 18-21z" color="#2f1848"/>
<path d="m8636 9968l-24-35-136 56z" color="#2b1b4d"/>
<path d="m9705 9185l-60-86-92 117z" color="#275292"/>
<path d="m7857 5866l-221 8-15 69z" color="#672005"/>
<path d="m9164 9689l-163 26 37 55z" color="#2e3077"/>
<path d="m8338 10038l-22-20-133 46z" color="#2a133b"/>
<path d="m9038 9770l-163 25 33 49z" color="#2d2a6c"/>
<path d="m8296 5882l-218-14 9 69z" color="#672005"/>
<path d="m9254 6292l-158 37 207 63z" color="#713c10"/>
<path d="m9284 9601l-162 27 42 61z" color="#2e3781"/>
<path d="m8908 9844l-163 24 29 42z" color="#2d2460"/>
<path d="m7366 9976l-24 28 141 45z" color="#301a4c"/>
<path d="m10037 8318l-151 37 106 100z" color="#0d6952"/>
<path d="m8142 10040l-127 45 13 5z" color="#2a1035"/>
<path d="m7700 10035l95 58 12-5z" color="#2b1137"/>
<path d="m9399 9506l-160 28 45 67z" color="#2e3e8a"/>
<path d="m6064 8808l-80 93 79 124z" color="#2d9cdc"/>
<path d="m7675 10046l-21 12 130 41z" color="#2c1239"/>
<path d="m8774 9910l-162 23 24 35z" color="#2c1e54"/>
<path d="m5883 8407l-33 236 86-100z" color="#15bbab"/>
<path d="m8496 10018l-20-29-138 49z" color="#2a1744"/>
<path d="m9793 9068l-63-91-85 122z" color="#22578c"/>
<path d="m8509 5905l-191 46 224 25z" color="#692306"/>
<path d="m8183 10064l-18-12-125 44z" color="#2a1136"/>
<path d="m6807 9744l103 125 25-49z" color="#3a3589"/>
<path d="m6379 6536l-222 195 182-82z" color="#8e631e"/>
<path d="m9508 9405l-159 29 50 72z" color="#2d4490"/>
<path d="m6935 9820l111 112 21-42z" color="#372c76"/>
<path d="m6622 6360l-196 69-47 107z" color="#834d16"/>
<path d="m6683 9660l96 139 28-55z" color="#3d409d"/>
<path d="m10100 8041l-111-105-26 140z" color="#247038"/>
<path d="m9788 6894l-143 37 174 89z" color="#6a5e1a"/>
<path d="m6066 7106l-160 94-17 134z" color="#8c9d24"/>
<path d="m8338 10038l-155 26 15 14z" color="#2a133a"/>
<path d="m8636 9968l-160 21 20 29z" color="#2b194a"/>
<path d="m8165 10052l-137 38 12 6z" color="#2a1035"/>
<path d="m7067 9890l118 96 18-35z" color="#342464"/>
<path d="m6564 9569l88 152 31-61z" color="#3f4bb0"/>
<path d="m7675 10046l109 53 11-6z" color="#2b1137"/>
<path d="m6339 6649l-182 82-37 120z" color="#916e21"/>
<path d="m7501 10028l125 57 12-14z" color="#2d143e"/>
<path d="m7420 5893l-247 101 220-31z" color="#692306"/>
<path d="m6668 6262l-242 167 196-69z" color="#7d4212"/>
<path d="m7501 10028l-18 21 143 36z" color="#2d1540"/>
<path d="m7636 5874l-216 19-27 70z" color="#672005"/>
<path d="m5889 7748l-129 103 18 139z" color="#55c44c"/>
<path d="m9610 9298l-155 30 53 77z" color="#2b4a93"/>
<path d="m7203 9951l124 82 15-29z" color="#311d55"/>
<path d="m7654 10058l-16 13 138 35z" color="#2c1239"/>
<path d="m6451 9471l79 165 34-67z" color="#4157c3"/>
<path d="m7929 10070l-19 0 5 62z" color="#2a1033"/>
<path d="m5996 8677l-84 96 72 128z" color="#21a9cc"/>
<path d="m7910 10070l-19 1 24 61z" color="#2a1033"/>
<path d="m7948 10071l-19-1-14 62z" color="#2a1033"/>
<path d="m7891 10071l-19 1 43 60z" color="#2a1033"/>
<path d="m5881 7470l-130 241 130-103z" color="#74ba2f"/>
<path d="m8509 5905l-213-23 22 69z" color="#672005"/>
<path d="m7966 10074l-18-3-33 61z" color="#2a1033"/>
<path d="m8352 10059l-14-21-140 40z" color="#2a133b"/>
<path d="m9873 8946l-65-94-78 125z" color="#1a5b81"/>
<path d="m7872 10072l-18 3 61 57z" color="#2a1034"/>
<path d="m9488 6464l-185-72 44 106z" color="#724313"/>
<path d="m8496 10018l-158 20 14 21z" color="#2a1540"/>
<path d="m8198 10078l-15-14-134 38z" color="#2a1136"/>
<path d="m7984 10076l-18-2-51 58z" color="#2a1033"/>
<path d="m10073 8180l-144 36 108 102z" color="#146c47"/>
<path d="m8183 10064l-143 32 9 6z" color="#291034"/>
<path d="m7654 10058l122 48 8-7z" color="#2b1137"/>
<path d="m7854 10075l-17 3 78 54z" color="#2a1034"/>
<path d="m8000 10080l-16-4-69 56z" color="#2a1033"/>
<path d="m7342 10004l130 66 11-21z" color="#2f1847"/>
<path d="m5840 8269l-45 240 88-102z" color="#18c198"/>
<path d="m6344 9368l70 176 37-73z" color="#4164d3"/>
<path d="m10006 7382l-139 37 148 99z" color="#526f18"/>
<path d="m7837 10078l-16 5 94 49z" color="#2a1034"/>
<path d="m9705 9185l-152 31 57 82z" color="#284f92"/>
<path d="m7067 9890l-21 42 139 54z" color="#35276a"/>
<path d="m9989 7248l-146-98 16 133z" color="#5e6918"/>
<path d="m6935 9820l-25 49 136 63z" color="#382f7c"/>
<path d="m9748 6773l-168-86 36 119z" color="#705419"/>
<path d="m8015 10085l-15-5-85 52z" color="#2a1033"/>
<path d="m7203 9951l-18 35 142 47z" color="#321f59"/>
<path d="m6807 9744l-28 55 131 70z" color="#3b3890"/>
<path d="m7821 10083l-14 5 108 44z" color="#2a1034"/>
<path d="m7638 10071l-12 14 144 28z" color="#2c1239"/>
<path d="m8352 10059l-154 19 10 14z" color="#2a1239"/>
<path d="m8028 10090l-13-5-100 47z" color="#2a1033"/>
<path d="m7173 5994l-207 41-46 82z" color="#6b2808"/>
<path d="m6120 6851l-190 219 159-94z" color="#938324"/>
<path d="m7342 10004l-15 29 145 37z" color="#301a4c"/>
<path d="m8198 10078l-149 24 8 7z" color="#291034"/>
<path d="m7638 10071l132 42 6-7z" color="#2b1136"/>
<path d="m7483 10049l136 51 7-15z" color="#2d143e"/>
<path d="m10118 7901l-112-105-17 140z" color="#32722c"/>
<path d="m7807 10088l-12 5 120 39z" color="#2a1034"/>
<path d="m6683 9660l-31 61 127 78z" color="#3d43a3"/>
<path d="m6243 9259l61 187 40-78z" color="#4170df"/>
<path d="m5936 8543l-86 100 62 130z" color="#18b4b8"/>
<path d="m9488 6464l-141 34 190 75z" color="#724615"/>
<path d="m8208 10092l-10-14-141 31z" color="#291136"/>
<path d="m9945 8820l-68-98-69 130z" color="#135f73"/>
<path d="m6920 6117l-201 53-51 92z" color="#70310b"/>
<path d="m8789 9952l-15-42-138 58z" color="#2c2058"/>
<path d="m8040 10096l-12-6-113 42z" color="#2a1033"/>
<path d="m8648 10004l-12-36-140 50z" color="#2b1b4c"/>
<path d="m8068 5808l-211 58 221 2z" color="#651c04"/>
<path d="m8925 9893l-17-49-134 66z" color="#2d2563"/>
<path d="m7483 10049l-11 21 147 30z" color="#2d1540"/>
<path d="m7860 5806l-224 68 221-8z" color="#651c04"/>
<path d="m8956 6058l-159 34 210 49z" color="#6c2a09"/>
<path d="m7795 10093l-11 6 131 33z" color="#2a1034"/>
<path d="m8505 10046l-9-28-144 41z" color="#2a1743"/>
<path d="m8956 6058l-200-46 41 80z" color="#6b2808"/>
<path d="m9793 9068l-148 31 60 86z" color="#23558d"/>
<path d="m6564 9569l-34 67 122 85z" color="#3f4fb6"/>
<path d="m9057 9826l-19-56-130 74z" color="#2d2b6f"/>
<path d="m8049 10102l-9-6-125 36z" color="#291033"/>
<path d="m5881 7608l-130 103 9 140z" color="#69bf39"/>
<path d="m8360 10081l-8-22-144 33z" color="#29133b"/>
<path d="m7784 10099l-8 7 139 26z" color="#2a1034"/>
<path d="m10100 8041l-137 35 110 104z" color="#1f6f3c"/>
<path d="m9199 6199l-192-58 47 90z" color="#6e300b"/>
<path d="m8208 10092l-151 17 4 7z" color="#291034"/>
<path d="m7626 10085l140 35 4-7z" color="#2b1136"/>
<path d="m6149 9144l52 198 42-83z" color="#3f7de5"/>
<path d="m5804 8130l-54 243 90-104z" color="#24c482"/>
<path d="m6089 6976l-159 94-24 130z" color="#918e24"/>
<path d="m7626 10085l-7 15 147 20z" color="#2c1239"/>
<path d="m9185 9751l-21-62-126 81z" color="#2e3279"/>
<path d="m8711 5940l-169 36 214 36z" color="#692306"/>
<path d="m8057 10109l-8-7-134 30z" color="#291033"/>
<path d="m7420 5893l-207 29-40 72z" color="#672005"/>
<path d="m6451 9471l-37 73 116 92z" color="#415bc8"/>
<path d="m5889 7334l-138 239 130-103z" color="#80af26"/>
<path d="m8273 5821l-195 47 218 14z" color="#651c04"/>
<path d="m9748 6773l-132 33 172 88z" color="#6f571a"/>
<path d="m7776 10106l-6 7 145 19z" color="#2a1034"/>
<path d="m8648 10004l-152 14 9 28z" color="#2a1949"/>
<path d="m8212 10107l-4-15-147 24z" color="#291136"/>
<path d="m8505 10046l-153 13 8 22z" color="#2a153f"/>
<path d="m9199 6199l-145 32 200 61z" color="#6f330c"/>
<path d="m6966 6035l-247 135 201-53z" color="#6c2a09"/>
<path d="m8789 9952l-153 16 12 36z" color="#2b1e53"/>
<path d="m8360 10081l-152 11 4 15z" color="#291239"/>
<path d="m8061 10116l-4-7-142 23z" color="#291032"/>
<path d="m10009 8691l-70-101-62 132z" color="#0d6264"/>
<path d="m7653 5814l-233 79 216-19z" color="#651c04"/>
<path d="m5883 8407l-88 102 55 134z" color="#15bca4"/>
<path d="m9873 8946l-143 31 63 91z" color="#1c5983"/>
<path d="m8711 5940l-202-35 33 71z" color="#672005"/>
<path d="m9308 9669l-24-68-120 88z" color="#2d3883"/>
<path d="m7327 10033l142 59 3-22z" color="#2f1847"/>
<path d="m6426 6429l-224 187 177-80z" color="#875318"/>
<path d="m7472 10070l144 44 3-14z" color="#2d143e"/>
<path d="m8925 9893l-151 17 15 42z" color="#2c235f"/>
<path d="m7185 9986l138 76 4-29z" color="#311d55"/>
<path d="m7770 10113l-4 7 149 12z" color="#2a1034"/>
<path d="m7213 5922l-247 113 207-41z" color="#692306"/>
<path d="m6379 6536l-177 80-45 115z" color="#8c5e1c"/>
<path d="m8212 10107l-151 9 3 8z" color="#291034"/>
<path d="m9989 7248l-130 35 147 99z" color="#5b6b18"/>
<path d="m7619 10100l146 27 1-7z" color="#2b1136"/>
<path d="m8064 10124l-3-8-146 16z" color="#291032"/>
<path d="m7046 9932l133 90 6-36z" color="#342464"/>
<path d="m6668 6262l-189 66-53 101z" color="#7a3e10"/>
<path d="m6063 9025l42 207 44-88z" color="#398ae6"/>
<path d="m6344 9368l-40 78 110 98z" color="#4168d7"/>
<path d="m8068 5808l-208-2-3 60z" color="#631b03"/>
<path d="m9057 9826l-149 18 17 49z" color="#2d296a"/>
<path d="m10127 7762l-113-106-8 140z" color="#3f7222"/>
<path d="m7619 10100l-3 14 149 13z" color="#2c1239"/>
<path d="m7766 10120l-1 7 150 5z" color="#2a1034"/>
<path d="m7472 10070l-3 22 147 22z" color="#2d1540"/>
<path d="m9963 7117l-144-97 24 130z" color="#656319"/>
<path d="m9424 9580l-25-74-115 95z" color="#2d3f8a"/>
<path d="m6910 9869l129 106 7-43z" color="#372c76"/>
<path d="m8064 10131l0-7-149 8z" color="#291032"/>
<path d="m8213 10121l-1-14-148 17z" color="#291136"/>
<path d="m7327 10033l-4 29 146 30z" color="#2f194c"/>
<path d="m7860 5806l-207 8-17 60z" color="#631b03"/>
<path d="m6719 6170l-240 158 189-66z" color="#74350d"/>
<path d="m8273 5821l-205-13 10 60z" color="#631b03"/>
<path d="m8360 10103l0-22-148 26z" color="#29133a"/>
<path d="m7765 10127l1 8 149-3z" color="#2a1033"/>
<path d="m9185 9751l-147 19 19 56z" color="#2d2f75"/>
<path d="m8213 10121l-149 3 0 7z" color="#291034"/>
<path d="m5778 7990l-65 246 91-106z" color="#38c56a"/>
<path d="m10118 7901l-129 35 111 105z" color="#2d7130"/>
<path d="m7616 10114l150 21-1-8z" color="#2b1136"/>
<path d="m9945 8820l-137 32 65 94z" color="#155c76"/>
<path d="m7185 9986l-6 36 144 40z" color="#321f59"/>
<path d="m9432 6362l-178-70 49 100z" color="#71390f"/>
<path d="m9701 6656l-164-83 43 114z" color="#724c17"/>
<path d="m8061 10138l3-7-149 1z" color="#291032"/>
<path d="m6779 9799l123 120 8-50z" color="#393588"/>
<path d="m5881 7470l-130 103 0 138z" color="#78b62b"/>
<path d="m6157 6731l-194 212 157-92z" color="#927322"/>
<path d="m6243 9259l-42 83 103 104z" color="#4074e0"/>
<path d="m10064 8559l-72-104-53 135z" color="#0b6558"/>
<path d="m8505 10076l0-30-145 35z" color="#2a1642"/>
<path d="m8360 10103l-148 4 1 14z" color="#291239"/>
<path d="m7766 10135l4 7 145-10z" color="#2a1033"/>
<path d="m8473 5843l-177 39 213 23z" color="#651c04"/>
<path d="m5840 8269l-90 104 45 136z" color="#1bc190"/>
<path d="m9535 9484l-27-79-109 101z" color="#2b458f"/>
<path d="m5984 8901l32 216 47-92z" color="#3097de"/>
<path d="m7469 10092l150 37-3-15z" color="#2d143d"/>
<path d="m7616 10114l3 15 147 6z" color="#2b1239"/>
<path d="m8057 10145l4-7-146-6z" color="#291032"/>
<path d="m7046 9932l-7 43 140 47z" color="#352669"/>
<path d="m9308 9669l-144 20 21 62z" color="#2d367f"/>
<path d="m8649 10040l-1-36-143 42z" color="#2a1a4c"/>
<path d="m7770 10142l6 7 139-17z" color="#2a1033"/>
<path d="m6652 9721l117 134 10-56z" color="#3c3f9c"/>
<path d="m8208 10136l5-15-149 10z" color="#291135"/>
<path d="m8505 10076l-145 5 0 22z" color="#29153f"/>
<path d="m7450 5832l-237 90 207-29z" color="#651c04"/>
<path d="m8208 10136l-144-5-3 7z" color="#291034"/>
<path d="m5906 7200l-146 236 129-102z" color="#89a124"/>
<path d="m7619 10129l151 13-4-7z" color="#2b1136"/>
<path d="m8049 10152l8-7-142-13z" color="#291032"/>
<path d="m9432 6362l-129 30 185 72z" color="#713c10"/>
<path d="m6120 6851l-157 92-33 127z" color="#937e23"/>
<path d="m7653 5814l-203 18-30 61z" color="#631b03"/>
<path d="m7323 10062l149 52-3-22z" color="#2e1847"/>
<path d="m7776 10149l9 7 130-24z" color="#2a1033"/>
<path d="m6149 9144l-44 88 96 110z" color="#3d81e5"/>
<path d="m6910 9869l-8 50 137 56z" color="#372e7b"/>
<path d="m8789 9995l0-43-141 52z" color="#2b1f57"/>
<path d="m7469 10092l3 22 147 15z" color="#2d1540"/>
<path d="m8473 5843l-200-22 23 61z" color="#631b03"/>
<path d="m9639 9382l-29-84-102 107z" color="#294a90"/>
<path d="m10009 8691l-132 31 68 98z" color="#0f5f67"/>
<path d="m8040 10159l9-7-134-20z" color="#291032"/>
<path d="m9424 9580l-140 21 24 68z" color="#2d3c87"/>
<path d="m8649 10040l-144 6 0 30z" color="#2a1948"/>
<path d="m10127 7624l-112-106-1 138z" color="#4b711b"/>
<path d="m7785 10156l10 6 120-30z" color="#2a1033"/>
<path d="m6530 9636l111 148 11-63z" color="#3e4aaf"/>
<path d="m9963 7117l-120 33 146 98z" color="#636518"/>
<path d="m7619 10129l7 14 144-1z" color="#2b1238"/>
<path d="m9701 6656l-121 31 168 86z" color="#714f18"/>
<path d="m5912 8773l23 224 49-96z" color="#25a3d0"/>
<path d="m8353 10125l7-22-147 18z" color="#29133a"/>
<path d="m6966 6035l-191 51-56 84z" color="#6b2808"/>
<path d="m8198 10150l-137-12-4 7z" color="#291034"/>
<path d="m8029 10165l11-6-125-27z" color="#291032"/>
<path d="m7626 10143l150 6-6-7z" color="#2b1136"/>
<path d="m10110 8424l-73-106-45 137z" color="#0f694e"/>
<path d="m5760 7851l-75 247 93-108z" color="#4dc453"/>
<path d="m7213 5922l-196 39-51 74z" color="#672005"/>
<path d="m7179 10022l149 69-5-29z" color="#311d54"/>
<path d="m8353 10125l-140-4-5 15z" color="#291239"/>
<path d="m8198 10150l10-14-147 2z" color="#291135"/>
<path d="m7795 10162l12 5 108-35z" color="#2a1033"/>
<path d="m10127 7762l-121 34 112 105z" color="#3b7225"/>
<path d="m8925 9943l0-50-136 59z" color="#2c2561"/>
<path d="m6779 9799l-10 56 133 64z" color="#3a388e"/>
<path d="m7472 10114l154 29-7-14z" color="#2c143d"/>
<path d="m5804 8130l-91 106 37 137z" color="#2ac47a"/>
<path d="m8015 10170l14-5-114-33z" color="#291032"/>
<path d="m7323 10062l5 29 144 23z" color="#2f194b"/>
<path d="m8901 5983l-145 29 200 46z" color="#692306"/>
<path d="m8789 9995l-141 9 1 36z" color="#2b1d52"/>
<path d="m9929 6989l-141-95 31 126z" color="#6c5c1a"/>
<path d="m7807 10167l15 5 93-40z" color="#2a1033"/>
<path d="m8901 5983l-190-43 45 72z" color="#672005"/>
<path d="m9535 9484l-136 22 25 74z" color="#2b428c"/>
<path d="m9139 6114l-183-56 51 83z" color="#6b2808"/>
<path d="m6063 9025l-47 92 89 115z" color="#368ee3"/>
<path d="m8000 10174l15-4-100-38z" color="#291032"/>
<path d="m6479 6328l-225 178 172-77z" color="#7e4312"/>
<path d="m5889 7334l-129 102-9 137z" color="#83aa25"/>
<path d="m6426 6429l-172 77-52 110z" color="#844e16"/>
<path d="m9735 9274l-30-89-95 113z" color="#264f8d"/>
<path d="m7822 10172l15 5 78-45z" color="#2a1033"/>
<path d="m6414 9544l105 161 11-69z" color="#4056c1"/>
<path d="m8184 10164l-127-19-8 7z" color="#291034"/>
<path d="m7638 10157l147-1-9-7z" color="#2b1136"/>
<path d="m8496 10104l9-28-145 27z" color="#2a1642"/>
<path d="m7984 10178l16-4-85-42z" color="#291032"/>
<path d="m7626 10143l12 14 138-8z" color="#2b1238"/>
<path d="m9139 6114l-132 27 192 58z" color="#6c2a09"/>
<path d="m7039 9975l146 84-6-37z" color="#332363"/>
<path d="m7837 10177l17 3 61-48z" color="#2a1033"/>
<path d="m9058 9882l-1-56-132 67z" color="#2c2b6d"/>
<path d="m10064 8559l-125 31 70 101z" color="#0b635b"/>
<path d="m7967 10181l17-3-69-46z" color="#291032"/>
<path d="m8058 5758l-198 48 208 2z" color="#601803"/>
<path d="m6652 9721l-11 63 128 71z" color="#3d42a1"/>
<path d="m7854 10180l18 2 43-50z" color="#2a1033"/>
<path d="m8184 10164l14-14-141-5z" color="#291135"/>
<path d="m7864 5755l-211 59 207-8z" color="#601803"/>
<path d="m7948 10183l19-2-52-49z" color="#291032"/>
<path d="m7472 10114l11 22 143 7z" color="#2d153f"/>
<path d="m8496 10104l-136-1-7 22z" color="#29153f"/>
<path d="m5850 8643l12 230 50-100z" color="#1bafbd"/>
<path d="m7872 10182l19 2 24-52z" color="#291033"/>
<path d="m7017 5961l-242 125 191-51z" color="#692306"/>
<path d="m6719 6170l-182 63-58 95z" color="#71310b"/>
<path d="m8925 9943l-136 9 0 43z" color="#2c235e"/>
<path d="m8663 5875l-154 30 202 35z" color="#651c04"/>
<path d="m7929 10184l19-1-33-51z" color="#291032"/>
<path d="m7891 10184l19 1 5-53z" color="#291033"/>
<path d="m7910 10185l19-1-14-52z" color="#291032"/>
<path d="m7179 10022l6 37 143 32z" color="#311f58"/>
<path d="m6202 6616l-198 205 153-90z" color="#8e631e"/>
<path d="m7328 10091l155 45-11-22z" color="#2e1746"/>
<path d="m8165 10176l-116-24-9 7z" color="#291033"/>
<path d="m7450 5832l-195 27-42 63z" color="#631b03"/>
<path d="m5930 7070l-152 232 128-102z" color="#8f9223"/>
<path d="m7655 10170l140-8-10-6z" color="#2a1136"/>
<path d="m8338 10146l-130-10-10 14z" color="#291238"/>
<path d="m9647 6545l-159-81 49 109z" color="#724313"/>
<path d="m8338 10146l15-21-145 11z" color="#29133a"/>
<path d="m10148 8288l-75-108-36 138z" color="#176d44"/>
<path d="m9639 9382l-131 23 27 79z" color="#2a488e"/>
<path d="m7483 10136l155 21-12-14z" color="#2c143d"/>
<path d="m6304 9446l98 173 12-75z" color="#4162d0"/>
<path d="m9825 9161l-32-93-88 117z" color="#205486"/>
<path d="m5984 8901l-49 96 81 120z" color="#2c9ad9"/>
<path d="m8249 5769l-181 39 205 13z" color="#601803"/>
<path d="m7638 10157l17 13 130-14z" color="#2b1238"/>
<path d="m8663 5875l-190-32 36 62z" color="#631b03"/>
<path d="m8637 10076l12-36-144 36z" color="#2a1a4b"/>
<path d="m6902 9919l144 99-7-43z" color="#362b75"/>
<path d="m10118 7487l-112-105 9 136z" color="#556e18"/>
<path d="m7255 5859l-238 102 196-39z" color="#651c04"/>
<path d="m5751 7711l-85 248 94-108z" color="#62bf3e"/>
<path d="m9185 9813l0-62-128 75z" color="#2d3177"/>
<path d="m6775 6086l-238 147 182-63z" color="#6c2a09"/>
<path d="m5778 7990l-93 108 28 138z" color="#3ec462"/>
<path d="m9370 6266l-171-67 55 93z" color="#6e300b"/>
<path d="m6530 9636l-11 69 122 79z" color="#3f4eb4"/>
<path d="m6157 6731l-153 90-41 122z" color="#916e21"/>
<path d="m7671 5762l-221 70 203-18z" color="#601803"/>
<path d="m8165 10176l19-12-135-12z" color="#291135"/>
<path d="m10127 7624l-113 32 113 106z" color="#47721d"/>
<path d="m8142 10188l-102-29-11 6z" color="#291033"/>
<path d="m9058 9882l-133 11 0 50z" color="#2c2868"/>
<path d="m7676 10183l131-16-12-5z" color="#2a1135"/>
<path d="m9929 6989l-110 31 144 97z" color="#6a5e1a"/>
<path d="m7039 9975l7 43 139 41z" color="#342669"/>
<path d="m8637 10076l-132 0-9 28z" color="#2a1948"/>
<path d="m10110 8424l-118 31 72 104z" color="#0d6751"/>
<path d="m7328 10091l14 28 141 17z" color="#2f194b"/>
<path d="m5795 8509l2 236 53-102z" color="#15b8a8"/>
<path d="m8058 5758l-194-3-4 51z" color="#5e1602"/>
<path d="m9735 9274l-125 24 29 84z" color="#274c8d"/>
<path d="m7655 10170l21 13 119-21z" color="#2b1238"/>
<path d="m7185 10059l157 60-14-28z" color="#301d53"/>
<path d="m9370 6266l-116 26 178 70z" color="#6f330c"/>
<path d="m7483 10136l18 21 137 0z" color="#2d143f"/>
<path d="m8116 10199l-87-34-14 5z" color="#291034"/>
<path d="m6201 9342l90 184 13-80z" color="#406fdc"/>
<path d="m7701 10194l121-22-15-5z" color="#2a1135"/>
<path d="m5906 7200l-128 102-18 134z" color="#8b9c23"/>
<path d="m9647 6545l-110 28 164 83z" color="#724615"/>
<path d="m8317 10166l-119-16-14 14z" color="#291238"/>
<path d="m6769 9855l142 114-9-50z" color="#393487"/>
<path d="m9308 9737l0-68-123 82z" color="#2c3780"/>
<path d="m8142 10188l23-12-125-17z" color="#291135"/>
<path d="m8775 10038l14-43-140 45z" color="#2b1f56"/>
<path d="m7864 5755l-193 7-18 52z" color="#5e1602"/>
<path d="m9906 9043l-33-97-80 122z" color="#19577b"/>
<path d="m7501 10157l154 13-17-13z" color="#2c143d"/>
<path d="m8477 10133l19-29-143 21z" color="#291642"/>
<path d="m6414 9544l-12 75 117 86z" color="#405ac5"/>
<path d="m9887 6866l-139-93 40 121z" color="#705419"/>
<path d="m8249 5769l-191-11 10 50z" color="#5e1602"/>
<path d="m5912 8773l-50 100 73 124z" color="#21a6c9"/>
<path d="m8317 10166l21-20-140 4z" color="#29133a"/>
<path d="m8477 10133l-124-8-15 21z" color="#29153f"/>
<path d="m9185 9813l-128 13 1 56z" color="#2c2f73"/>
<path d="m10176 8150l-76-109-27 139z" color="#247038"/>
<path d="m8086 10208l-71-38-15 4z" color="#291034"/>
<path d="m7729 10204l108-27-15-5z" color="#2a1135"/>
<path d="m8435 5790l-162 31 200 22z" color="#601803"/>
<path d="m7342 10119l159 38-18-21z" color="#2e1746"/>
<path d="m6902 9919l9 50 135 49z" color="#372e7a"/>
<path d="m7676 10183l25 11 106-27z" color="#2b1238"/>
<path d="m8775 10038l-126 2-12 36z" color="#2a1d51"/>
<path d="m5760 7851l-94 108 19 139z" color="#54c14b"/>
<path d="m8116 10199l26-11-113-23z" color="#291135"/>
<path d="m8053 10216l-53-42-16 4z" color="#291034"/>
<path d="m7760 10212l94-32-17-3z" color="#2a1135"/>
<path d="m7482 5779l-227 80 195-27z" color="#601803"/>
<path d="m5751 7573l-94 247 94-109z" color="#73b82f"/>
<path d="m6479 6328l-166 74-59 104z" color="#7b3e10"/>
<path d="m9825 9161l-120 24 30 89z" color="#225187"/>
<path d="m5963 6943l-159 227 126-100z" color="#928223"/>
<path d="m6537 6233l-224 169 166-74z" color="#74350d"/>
<path d="m6105 9232l82 195 14-85z" color="#3e7be2"/>
<path d="m7017 5961l-182 49-60 76z" color="#672005"/>
<path d="m9425 9654l-1-74-116 89z" color="#2c3d87"/>
<path d="m10148 8288l-111 30 73 106z" color="#146c47"/>
<path d="m6641 9784l138 127-10-56z" color="#3b3e9a"/>
<path d="m10100 7352l-111-104 17 134z" color="#5e6918"/>
<path d="m7185 10059l19 35 138 25z" color="#311f57"/>
<path d="m5750 8373l-8 242 53-106z" color="#18be95"/>
<path d="m8018 10222l-34-44-17 3z" color="#291034"/>
<path d="m7794 10219l78-37-18-2z" color="#2a1035"/>
<path d="m10118 7487l-103 31 112 106z" color="#526f18"/>
<path d="m7046 10018l158 76-19-35z" color="#332362"/>
<path d="m8289 10185l-105-21-19 12z" color="#291238"/>
<path d="m7671 5762l-189 17-32 53z" color="#5e1602"/>
<path d="m8909 9992l16-49-136 52z" color="#2b2460"/>
<path d="m6304 9446l-13 80 111 93z" color="#4066d4"/>
<path d="m7701 10194l28 10 93-32z" color="#2a1137"/>
<path d="m6254 6506l-201 197 149-87z" color="#875318"/>
<path d="m7501 10157l25 19 129-6z" color="#2c143f"/>
<path d="m7526 10176l150 7-21-13z" color="#2c133c"/>
<path d="m9980 8921l-35-101-72 126z" color="#125a6e"/>
<path d="m8435 5790l-186-21 24 52z" color="#5e1602"/>
<path d="m9308 9737l-123 14 0 62z" color="#2c357c"/>
<path d="m7982 10226l-15-45-19 2z" color="#291034"/>
<path d="m7830 10224l61-40-19-2z" color="#2a1034"/>
<path d="m7255 5859l-184 37-54 65z" color="#631b03"/>
<path d="m8086 10208l30-9-101-29z" color="#291135"/>
<path d="m5850 8643l-53 102 65 128z" color="#18b1b5"/>
<path d="m7944 10228l4-45-19 1z" color="#291034"/>
<path d="m7868 10227l42-42-19-1z" color="#291034"/>
<path d="m9074 6036l-173-53 55 75z" color="#672005"/>
<path d="m8289 10185l28-19-133-2z" color="#29133a"/>
<path d="m7906 10229l23-45-19 1z" color="#291034"/>
<path d="m8842 5917l-131 23 190 43z" color="#651c04"/>
<path d="m8613 10111l24-35-141 28z" color="#2a1a4a"/>
<path d="m9586 6440l-154-78 56 102z" color="#71390f"/>
<path d="m7342 10119l24 28 135 10z" color="#2e194a"/>
<path d="m9074 6036l-118 22 183 56z" color="#692306"/>
<path d="m6769 9855l10 56 132 58z" color="#3a378d"/>
<path d="m6202 6616l-149 87-49 118z" color="#8c5e1c"/>
<path d="m8842 5917l-179-42 48 65z" color="#631b03"/>
<path d="m9887 6866l-99 28 141 95z" color="#6f571a"/>
<path d="m7729 10204l31 8 77-35z" color="#2a1137"/>
<path d="m6775 6086l-173 60-65 87z" color="#6b2808"/>
<path d="m8613 10111l-117-7-19 29z" color="#2a1948"/>
<path d="m10194 8011l-76-110-18 140z" color="#32722c"/>
<path d="m8053 10216l33-8-86-34z" color="#291135"/>
<path d="m8909 9992l-120 3-14 43z" color="#2b225d"/>
<path d="m8448 10160l-110-14-21 20z" color="#29153e"/>
<path d="m5930 7070l-126 100-26 132z" color="#908d23"/>
<path d="m8448 10160l29-27-139 13z" color="#291642"/>
<path d="m9906 9043l-113 25 32 93z" color="#1b557d"/>
<path d="m9535 9564l0-80-111 96z" color="#2a438b"/>
<path d="m6016 9117l74 204 15-89z" color="#3888e2"/>
<path d="m6519 9705l133 141-11-62z" color="#3d49ac"/>
<path d="m7204 10094l162 53-24-28z" color="#301d53"/>
<path d="m8255 10203l-90-27-23 12z" color="#291238"/>
<path d="m7366 10147l160 29-25-19z" color="#2d1745"/>
<path d="m7071 5896l-236 114 182-49z" color="#651c04"/>
<path d="m7760 10212l34 7 60-39z" color="#2a1137"/>
<path d="m7558 10195l143-1-25-11z" color="#2b133c"/>
<path d="m6201 9342l-14 85 104 99z" color="#3f72dd"/>
<path d="m8018 10222l35-6-69-38z" color="#291135"/>
<path d="m9039 9938l19-56-133 61z" color="#2c2a6b"/>
<path d="m5751 7711l-94 109 9 139z" color="#67bc38"/>
<path d="m9302 6178l-163-64 60 85z" color="#6b2808"/>
<path d="m9425 9654l-117 15 0 68z" color="#2c3b84"/>
<path d="m6911 9969l157 91-22-42z" color="#362b73"/>
<path d="m7526 10176l32 19 118-12z" color="#2c143e"/>
<path d="m10176 8150l-103 30 75 108z" color="#1f6f3c"/>
<path d="m6835 6010l-233 136 173-60z" color="#692306"/>
<path d="m5713 8236l-18 245 55-108z" color="#24c180"/>
<path d="m7046 10018l22 42 136 34z" color="#342667"/>
<path d="m8612 5820l-139 23 190 32z" color="#601803"/>
<path d="m10044 8795l-35-104-64 129z" color="#0d5f61"/>
<path d="m7794 10219l36 5 42-42z" color="#2a1137"/>
<path d="m9836 6747l-135-91 47 117z" color="#724c17"/>
<path d="m5760 7436l-103 246 94-109z" color="#7fad26"/>
<path d="m9586 6440l-98 24 159 81z" color="#713c10"/>
<path d="m7982 10226l36-4-51-41z" color="#291136"/>
<path d="m8255 10203l34-18-124-9z" color="#29133a"/>
<path d="m8046 5716l-182 39 194 3z" color="#5b1302"/>
<path d="m5795 8509l-53 106 55 130z" color="#15b9a1"/>
<path d="m7830 10224l38 3 23-43z" color="#2a1136"/>
<path d="m7868 5714l-197 48 193-7z" color="#5b1302"/>
<path d="m7482 5779l-182 26-45 54z" color="#5e1602"/>
<path d="m7944 10228l38-2-34-43z" color="#291136"/>
<path d="m6641 9784l11 62 127 65z" color="#3c419f"/>
<path d="m7868 10227l38 2 4-44z" color="#2a1136"/>
<path d="m9302 6178l-103 21 171 67z" color="#6c2a09"/>
<path d="m7906 10229l38-1-15-44z" color="#291136"/>
<path d="m10100 7352l-94 30 112 105z" color="#5b6b18"/>
<path d="m8746 10080l29-42-138 38z" color="#2a1f55"/>
<path d="m10073 7220l-110-103 26 131z" color="#656319"/>
<path d="m7300 5805l-229 91 184-37z" color="#601803"/>
<path d="m8215 10219l-73-31-26 11z" color="#291238"/>
<path d="m8612 5820l-177-30 38 53z" color="#5e1602"/>
<path d="m6004 6821l-165 221 124-99z" color="#927222"/>
<path d="m7595 10211l134-7-28-10z" color="#2b133c"/>
<path d="m9039 9938l-114 5-16 49z" color="#2c2867"/>
<path d="m9639 9467l0-85-104 102z" color="#28488b"/>
<path d="m9980 8921l-107 25 33 97z" color="#145871"/>
<path d="m6402 9619l128 154-11-68z" color="#3f55be"/>
<path d="m5935 8997l65 214 16-94z" color="#2f94da"/>
<path d="m8223 5727l-165 31 191 11z" color="#5b1302"/>
<path d="m8746 10080l-109-4-24 35z" color="#2a1d51"/>
<path d="m7366 10147l33 26 127 3z" color="#2e1949"/>
<path d="m7204 10094l29 34 133 19z" color="#311e57"/>
<path d="m6105 9232l-15 89 97 106z" color="#3c7fe2"/>
<path d="m10204 7873l-77-111-9 139z" color="#3f7222"/>
<path d="m8411 10185l-94-19-28 19z" color="#29153e"/>
<path d="m7690 5720l-208 59 189-17z" color="#5b1302"/>
<path d="m7558 10195l37 16 106-17z" color="#2c143e"/>
<path d="m9165 9875l20-62-127 69z" color="#2c3075"/>
<path d="m9535 9564l-111 16 1 74z" color="#2a4189"/>
<path d="m6537 6233l-158 72-66 97z" color="#71310b"/>
<path d="m7399 10173l159 22-32-19z" color="#2d1745"/>
<path d="m8411 10185l37-25-131 6z" color="#291641"/>
<path d="m6779 9911l156 107-24-49z" color="#383385"/>
<path d="m8215 10219l40-16-113-15z" color="#29133a"/>
<path d="m6313 6402l-203 189 144-85z" color="#7e4312"/>
<path d="m7068 10060l165 68-29-34z" color="#322361"/>
<path d="m10101 8666l-37-107-55 132z" color="#0b6457"/>
<path d="m8171 10232l-55-33-30 9z" color="#291238"/>
<path d="m8578 10144l35-33-136 22z" color="#2a1a4a"/>
<path d="m6602 6146l-223 159 158-72z" color="#6c2a09"/>
<path d="m7637 10226l123-14-31-8z" color="#2b133b"/>
<path d="m8578 10144l-101-11-29 27z" color="#291947"/>
<path d="m5685 8098l-28 248 56-110z" color="#37c268"/>
<path d="m6911 9969l24 49 133 42z" color="#362d78"/>
<path d="m10194 8011l-94 30 76 109z" color="#2d7130"/>
<path d="m9836 6747l-88 26 139 93z" color="#714f18"/>
<path d="m5751 7573l-94 109 0 138z" color="#76b32b"/>
<path d="m5963 6943l-124 99-35 128z" color="#927d23"/>
<path d="m6519 9705l11 68 122 73z" color="#3e4db2"/>
<path d="m8046 5716l-178-2-4 41z" color="#591201"/>
<path d="m5750 8373l-55 108 47 134z" color="#1bbe8e"/>
<path d="m6254 6506l-144 85-57 112z" color="#844e16"/>
<path d="m7233 10128l166 45-33-26z" color="#301c52"/>
<path d="m7868 5714l-178 6-19 42z" color="#591201"/>
<path d="m9517 6341l-147-75 62 96z" color="#6e300b"/>
<path d="m5778 7302l-112 243 94-109z" color="#879f23"/>
<path d="m9736 9364l-1-90-96 108z" color="#244d88"/>
<path d="m8223 5727l-177-11 12 42z" color="#591201"/>
<path d="m6291 9526l123 167-12-74z" color="#4061cd"/>
<path d="m7071 5896l-171 45-65 69z" color="#631b03"/>
<path d="m9165 9875l-107 7-19 56z" color="#2c2e72"/>
<path d="m7595 10211l42 15 92-22z" color="#2b143d"/>
<path d="m8876 10040l33-48-134 46z" color="#2b245f"/>
<path d="m8122 10244l-36-36-33 8z" color="#291238"/>
<path d="m10044 8795l-99 25 35 101z" color="#0e5c64"/>
<path d="m8395 5746l-146 23 186 21z" color="#5b1302"/>
<path d="m5862 8873l57 222 16-98z" color="#24a1cc"/>
<path d="m7684 10239l110-20-34-7z" color="#2b133b"/>
<path d="m6016 9117l-16 94 90 110z" color="#358bdf"/>
<path d="m8171 10232l44-13-99-20z" color="#29133a"/>
<path d="m9639 9467l-104 17 0 80z" color="#28468b"/>
<path d="m10073 7220l-84 28 111 104z" color="#636518"/>
<path d="m9285 9805l23-68-123 76z" color="#2c367e"/>
<path d="m7515 5736l-215 69 182-26z" color="#5b1302"/>
<path d="m8366 10208l-77-23-34 18z" color="#29153e"/>
<path d="m9004 5966l-162-49 59 66z" color="#631b03"/>
<path d="m9778 6633l-131-88 54 111z" color="#724313"/>
<path d="m6835 6010l-164 57-69 79z" color="#672005"/>
<path d="m9004 5966l-103 17 173 53z" color="#651c04"/>
<path d="m10037 7091l-108-102 34 128z" color="#6c5c1a"/>
<path d="m7399 10173l42 24 117-2z" color="#2e1949"/>
<path d="m8876 10040l-101-2-29 42z" color="#2b225c"/>
<path d="m8069 10253l-16-37-35 6z" color="#291239"/>
<path d="m7441 10197l154 14-37-16z" color="#2d1744"/>
<path d="m7735 10249l95-25-36-5z" color="#2a133a"/>
<path d="m10204 7735l-77-111 0 138z" color="#4b711b"/>
<path d="m7300 5805l-172 34-57 57z" color="#5e1602"/>
<path d="m8778 5858l-115 17 179 42z" color="#601803"/>
<path d="m6652 9846l155 121-28-56z" color="#3b3d98"/>
<path d="m10148 8533l-38-109-46 135z" color="#0f694e"/>
<path d="m7690 5720l-175 16-33 43z" color="#591201"/>
<path d="m9517 6341l-85 21 154 78z" color="#6f330c"/>
<path d="m7068 10060l35 41 130 27z" color="#332566"/>
<path d="m6053 6703l-170 215 121-97z" color="#8d631e"/>
<path d="m8366 10208l45-23-122 0z" color="#291641"/>
<path d="m7637 10226l47 13 76-27z" color="#2b143d"/>
<path d="m6402 9619l12 74 116 80z" color="#3f58c2"/>
<path d="m8395 5746l-172-19 26 42z" color="#591201"/>
<path d="m8015 10259l3-37-36 4z" color="#291239"/>
<path d="m5666 7959l-37 250 56-111z" color="#4cc051"/>
<path d="m8778 5858l-166-38 51 55z" color="#5e1602"/>
<path d="m7788 10256l80-29-38-3z" color="#2a133a"/>
<path d="m6779 9911l28 56 128 51z" color="#39378b"/>
<path d="m9229 6096l-155-60 65 78z" color="#672005"/>
<path d="m8122 10244l49-12-85-24z" color="#29133a"/>
<path d="m6935 10018l168 83-35-41z" color="#352a72"/>
<path d="m10204 7873l-86 28 76 110z" color="#3b7225"/>
<path d="m5713 8236l-56 110 38 135z" color="#29c178"/>
<path d="m7233 10128l41 33 125 12z" color="#301e56"/>
<path d="m9825 9255l0-94-90 113z" color="#1f5181"/>
<path d="m7958 10262l24-36-38 2z" color="#291239"/>
<path d="m7844 10261l62-32-38-2z" color="#2a133a"/>
<path d="m8704 10120l42-40-133 31z" color="#2a1f55"/>
<path d="m5760 7436l-94 109-9 137z" color="#81a824"/>
<path d="m7901 10263l43-35-38 1z" color="#2a1239"/>
<path d="m6187 9427l117 178-13-79z" color="#3f6dd8"/>
<path d="m6900 5941l-229 126 164-57z" color="#651c04"/>
<path d="m7128 5839l-228 102 171-45z" color="#601803"/>
<path d="m5797 8745l48 230 17-102z" color="#1aacba"/>
<path d="m10101 8666l-92 25 35 104z" color="#0b625a"/>
<path d="m9285 9805l-100 8-20 62z" color="#2c347a"/>
<path d="m8532 10176l-84-16-37 25z" color="#291947"/>
<path d="m9229 6096l-90 18 163 64z" color="#692306"/>
<path d="m8704 10120l-91-9-35 33z" color="#2a1d51"/>
<path d="m5935 8997l-16 98 81 116z" color="#2b98d5"/>
<path d="m8532 10176l46-32-130 16z" color="#291a4a"/>
<path d="m9736 9364l-97 18 0 85z" color="#254a88"/>
<path d="m7684 10239l51 10 59-30z" color="#2b143d"/>
<path d="m9002 9992l37-54-130 54z" color="#2b2a6a"/>
<path d="m6004 6821l-121 97-44 124z" color="#906d21"/>
<path d="m7274 10161l167 36-42-24z" color="#2f1c51"/>
<path d="m8069 10253l53-9-69-28z" color="#29133a"/>
<path d="m9400 9728l25-74-117 83z" color="#2b3c84"/>
<path d="m8313 10229l-58-26-40 16z" color="#29153e"/>
<path d="m5804 7170l-119 239 93-107z" color="#8d9023"/>
<path d="m9778 6633l-77 23 135 91z" color="#724615"/>
<path d="m7103 10101l171 60-41-33z" color="#322260"/>
<path d="m7490 10220l147 6-42-15z" color="#2c1644"/>
<path d="m6379 6305l-205 179 139-82z" color="#74350d"/>
<path d="m8558 5773l-123 17 177 30z" color="#5b1302"/>
<path d="m7441 10197l49 23 105-9z" color="#2d1848"/>
<path d="m6602 6146l-152 68-71 91z" color="#6b2808"/>
<path d="m7735 10249l53 7 42-32z" color="#2a143c"/>
<path d="m6313 6402l-139 82-64 107z" color="#7b3e10"/>
<path d="m6530 9773l153 134-31-61z" color="#3d48aa"/>
<path d="m10186 8398l-38-110-38 136z" color="#176d44"/>
<path d="m8015 10259l54-6-51-31z" color="#29133a"/>
<path d="m6291 9526l13 79 110 88z" color="#3f65d0"/>
<path d="m9002 9992l-93 0-33 48z" color="#2b2766"/>
<path d="m10037 7091l-74 26 110 103z" color="#6a5e1a"/>
<path d="m7515 5736l-168 23-47 46z" color="#591201"/>
<path d="m8313 10229l53-21-111-5z" color="#291641"/>
<path d="m10195 7597l-77-110 9 137z" color="#556e18"/>
<path d="m7347 5759l-219 80 172-34z" color="#5b1302"/>
<path d="m6671 6067l-221 147 152-68z" color="#692306"/>
<path d="m7788 10256l56 5 24-34z" color="#2a133c"/>
<path d="m8035 5683l-167 31 178 2z" color="#560f01"/>
<path d="m9907 9141l-1-98-81 118z" color="#185476"/>
<path d="m7958 10262l57-3-33-33z" color="#29133b"/>
<path d="m7872 5681l-182 39 178-6z" color="#560f01"/>
<path d="m8558 5773l-163-27 40 44z" color="#591201"/>
<path d="m5657 7820l-47 251 56-112z" color="#60bc3d"/>
<path d="m5685 8098l-56 111 28 137z" color="#3dc160"/>
<path d="m6652 9846l31 61 124 60z" color="#3b409d"/>
<path d="m9993 6965l-106-99 42 123z" color="#705419"/>
<path d="m6090 9321l111 190-14-84z" color="#3d79de"/>
<path d="m7844 10261l57 2 5-34z" color="#2a133b"/>
<path d="m7901 10263l57-1-14-34z" color="#2a133b"/>
<path d="m10204 7735l-77 27 77 111z" color="#47721d"/>
<path d="m6935 10018l42 47 126 36z" color="#352d77"/>
<path d="m9443 6249l-141-71 68 88z" color="#6b2808"/>
<path d="m5742 8615l38 235 17-105z" color="#15b5a5"/>
<path d="m10148 8533l-84 26 37 107z" color="#0d6751"/>
<path d="m8254 10247l-39-28-44 13z" color="#29153e"/>
<path d="m6807 9967l170 98-42-47z" color="#373383"/>
<path d="m5862 8873l-17 102 74 120z" color="#20a3c5"/>
<path d="m9400 9728l-92 9-23 68z" color="#2b3a81"/>
<path d="m9825 9255l-90 19 1 90z" color="#214f83"/>
<path d="m9712 6525l-126-85 61 105z" color="#71390f"/>
<path d="m7546 10239l138 0-47-13z" color="#2c1643"/>
<path d="m8196 5693l-150 23 177 11z" color="#560f01"/>
<path d="m5778 7302l-93 107-19 136z" color="#899a23"/>
<path d="m6110 6591l-175 206 118-94z" color="#865318"/>
<path d="m9509 9643l26-79-110 90z" color="#294288"/>
<path d="m7274 10161l52 30 115 6z" color="#301e55"/>
<path d="m7709 5687l-194 49 175-16z" color="#560f01"/>
<path d="m8828 10086l48-46-130 40z" color="#2b245f"/>
<path d="m8475 10205l-64-20-45 23z" color="#291947"/>
<path d="m9124 9936l41-61-126 63z" color="#2b2f73"/>
<path d="m7490 10220l56 19 91-13z" color="#2d1847"/>
<path d="m7103 10101l49 39 122 21z" color="#322565"/>
<path d="m7326 10191l164 29-49-23z" color="#2f1c50"/>
<path d="m9443 6249l-73 17 147 75z" color="#6c2a09"/>
<path d="m7128 5839l-159 43-69 59z" color="#5e1602"/>
<path d="m8475 10205l57-29-121 9z" color="#291a4a"/>
<path d="m8828 10086l-82-6-42 40z" color="#2b225b"/>
<path d="m8254 10247l59-18-98-10z" color="#291641"/>
<path d="m6187 9427l14 84 103 94z" color="#3e70d9"/>
<path d="m10214 8262l-38-112-28 138z" color="#247038"/>
<path d="m6900 5941l-154 54-75 72z" color="#631b03"/>
<path d="m5839 7042l-127 234 92-106z" color="#908123"/>
<path d="m6414 9693l151 147-35-67z" color="#3e53bb"/>
<path d="m8189 10263l-18-31-49 12z" color="#29153f"/>
<path d="m6053 6703l-118 94-52 121z" color="#8b5d1c"/>
<path d="m8035 5683l-163-2-4 33z" color="#540e01"/>
<path d="m8650 10157l54-37-126 24z" color="#2a1f54"/>
<path d="m8650 10157l-72-13-46 32z" color="#2a1d50"/>
<path d="m7609 10256l126-7-51-10z" color="#2c1642"/>
<path d="m8930 5904l-88 13 162 49z" color="#601803"/>
<path d="m9980 9023l0-102-74 122z" color="#11586a"/>
<path d="m8930 5904l-152-46 64 59z" color="#5e1602"/>
<path d="m6977 10065l175 75-49-39z" color="#342a70"/>
<path d="m9124 9936l-85 2-37 54z" color="#2b2d70"/>
<path d="m6000 9211l105 200-15-90z" color="#3786de"/>
<path d="m7872 5681l-163 6-19 33z" color="#540e01"/>
<path d="m5666 7959l-56 112 19 138z" color="#53be49"/>
<path d="m8353 5711l-130 16 172 19z" color="#560f01"/>
<path d="m10176 7462l-76-110 18 135z" color="#5e6918"/>
<path d="m9712 6525l-65 20 131 88z" color="#713c10"/>
<path d="m8196 5693l-161-10 11 33z" color="#540e01"/>
<path d="m5657 7682l-57 250 57-112z" color="#70b42e"/>
<path d="m9150 6023l-146-57 70 70z" color="#631b03"/>
<path d="m5695 8481l29 241 18-107z" color="#17ba92"/>
<path d="m6530 9773l35 67 118 67z" color="#3d4baf"/>
<path d="m7152 10140l174 51-52-30z" color="#31225f"/>
<path d="m10186 8398l-76 26 38 109z" color="#146c47"/>
<path d="m5797 8745l-17 105 65 125z" color="#17aeb1"/>
<path d="m9993 6965l-64 24 108 102z" color="#6f571a"/>
<path d="m9907 9141l-82 20 0 94z" color="#1a5279"/>
<path d="m8712 5809l-100 11 166 38z" color="#5b1302"/>
<path d="m10195 7597l-68 27 77 111z" color="#526f18"/>
<path d="m9509 9643l-84 11-25 74z" color="#2a3f86"/>
<path d="m7347 5759l-158 32-61 48z" color="#591201"/>
<path d="m7550 5701l-203 58 168-23z" color="#560f01"/>
<path d="m7546 10239l63 17 75-17z" color="#2c1847"/>
<path d="m8120 10274l2-30-53 9z" color="#29153f"/>
<path d="m9150 6023l-76 13 155 60z" color="#651c04"/>
<path d="m6450 6214l-205 169 134-78z" color="#6c2a09"/>
<path d="m9611 9551l28-84-104 97z" color="#274688"/>
<path d="m7676 10269l112-13-53-7z" color="#2b1642"/>
<path d="m6969 5882l-223 113 154-54z" color="#601803"/>
<path d="m6807 9967l47 53 123 45z" color="#383689"/>
<path d="m6379 6305l-134 78-71 101z" color="#71310b"/>
<path d="m6683 9907l171 113-47-53z" color="#3a3c96"/>
<path d="m8189 10263l65-16-83-15z" color="#291642"/>
<path d="m9939 6844l-103-97 51 119z" color="#724c17"/>
<path d="m8712 5809l-154-36 54 47z" color="#591201"/>
<path d="m8410 10231l-44-23-53 21z" color="#291947"/>
<path d="m5804 7170l-92 106-27 133z" color="#8e8a23"/>
<path d="m7189 5791l-220 91 159-43z" color="#5b1302"/>
<path d="m7709 5687l-159 14-35 35z" color="#540e01"/>
<path d="m6671 6067l-143 64-78 83z" color="#672005"/>
<path d="m9240 9872l45-67-120 70z" color="#2b357c"/>
<path d="m7326 10191l61 28 103 1z" color="#2f1d54"/>
<path d="m8353 5711l-157-18 27 34z" color="#540e01"/>
<path d="m8047 10283l22-30-54 6z" color="#2a153f"/>
<path d="m7387 10219l159 20-56-19z" color="#2e1b4f"/>
<path d="m7747 10279l97-18-56-5z" color="#2b1641"/>
<path d="m6090 9321l15 90 96 100z" color="#3b7cdd"/>
<path d="m10233 8124l-39-113-18 139z" color="#32722c"/>
<path d="m8948 10044l54-52-126 48z" color="#2b2969"/>
<path d="m6304 9605l148 161-38-73z" color="#3e5fc9"/>
<path d="m10045 8900l-1-105-64 126z" color="#0d5e5f"/>
<path d="m8410 10231l65-26-109 3z" color="#291a4a"/>
<path d="m6174 6484l-179 198 115-91z" color="#7d4312"/>
<path d="m7972 10287l43-28-57 3z" color="#2a1540"/>
<path d="m6746 5995l-218 136 143-64z" color="#651c04"/>
<path d="m9638 6423l-121-82 69 99z" color="#6e300b"/>
<path d="m7609 10256l67 13 59-20z" color="#2c1846"/>
<path d="m7821 10286l80-23-57-2z" color="#2a1541"/>
<path d="m5919 9095l97 210-16-94z" color="#2e91d6"/>
<path d="m7897 10288l61-26-57 1z" color="#2a1540"/>
<path d="m9361 6164l-132-68 73 82z" color="#672005"/>
<path d="m8120 10274l69-11-67-19z" color="#291642"/>
<path d="m5883 6918l-134 228 90-104z" color="#907121"/>
<path d="m8948 10044l-72-4-48 46z" color="#2b2765"/>
<path d="m5657 8346l20 245 18-110z" color="#23bd7e"/>
<path d="m5657 7820l-57 112 10 139z" color="#65b837"/>
<path d="m5742 8615l-18 107 56 128z" color="#14b59e"/>
<path d="m6977 10065l56 45 119 30z" color="#352c75"/>
<path d="m9980 9023l-74 20 1 98z" color="#13566d"/>
<path d="m10214 8262l-66 26 38 110z" color="#1f6f3c"/>
<path d="m8502 5736l-107 10 163 27z" color="#560f01"/>
<path d="m9240 9872l-75 3-41 61z" color="#2b3379"/>
<path d="m5666 7545l-66 249 57-112z" color="#7ca925"/>
<path d="m7152 10140l61 36 113 15z" color="#322464"/>
<path d="m6414 9693l38 73 113 74z" color="#3e57bf"/>
<path d="m10148 7328l-75-108 27 132z" color="#656319"/>
<path d="m9611 9551l-76 13-26 79z" color="#284487"/>
<path d="m6110 6591l-115 91-60 115z" color="#834d16"/>
<path d="m8583 10192l-51-16-57 29z" color="#2a1d50"/>
<path d="m9707 9453l29-89-97 103z" color="#234a85"/>
<path d="m10176 7462l-58 25 77 110z" color="#5b6b18"/>
<path d="m7676 10269l71 10 41-23z" color="#2b1745"/>
<path d="m6854 10020l179 90-56-45z" color="#363281"/>
<path d="m9361 6164l-59 14 141 71z" color="#692306"/>
<path d="m7397 5723l-208 68 158-32z" color="#560f01"/>
<path d="m8764 10130l64-44-124 34z" color="#2a245e"/>
<path d="m8047 10283l73-9-51-21z" color="#2a1642"/>
<path d="m8583 10192l67-35-118 19z" color="#2a1f54"/>
<path d="m7550 5701l-153 22-50 36z" color="#540e01"/>
<path d="m9939 6844l-52 22 106 99z" color="#714f18"/>
<path d="m8336 10253l-23-24-59 18z" color="#2a1947"/>
<path d="m8764 10130l-60-10-54 37z" color="#2a225b"/>
<path d="m7213 10176l174 43-61-28z" color="#30215d"/>
<path d="m7457 10243l152 13-63-17z" color="#2e1b4e"/>
<path d="m8502 5736l-149-25 42 35z" color="#540e01"/>
<path d="m9638 6423l-52 17 126 85z" color="#6f330c"/>
<path d="m6565 9840l170 127-52-60z" color="#3b47a7"/>
<path d="m6683 9907l52 60 119 53z" color="#3a3f9a"/>
<path d="m7747 10279l74 7 23-25z" color="#2b1745"/>
<path d="m6000 9211l16 94 89 106z" color="#3488da"/>
<path d="m9352 9800l48-72-115 77z" color="#2a3b82"/>
<path d="m7387 10219l70 24 89-4z" color="#2e1d53"/>
<path d="m7972 10287l75-4-32-24z" color="#2a1743"/>
<path d="m8023 5660l-151 21 163 2z" color="#510c01"/>
<path d="m7876 5658l-167 29 163-6z" color="#510c01"/>
<path d="m7033 10110l180 66-61-36z" color="#33296f"/>
<path d="m5839 7042l-90 104-37 130z" color="#907b23"/>
<path d="m10101 8773l0-107-57 129z" color="#0b6457"/>
<path d="m10243 7986l-39-113-10 138z" color="#3f7222"/>
<path d="m9878 6727l-100-94 58 114z" color="#724313"/>
<path d="m7821 10286l76 2 4-25z" color="#2b1744"/>
<path d="m7897 10288l75-1-14-25z" color="#2a1743"/>
<path d="m6969 5882l-143 49-80 64z" color="#5e1602"/>
<path d="m6201 9511l143 173-40-79z" color="#3e6bd4"/>
<path d="m8336 10253l74-22-97-2z" color="#2a1a4a"/>
<path d="m5845 8975l90 218-16-98z" color="#239dc8"/>
<path d="m7189 5791l-147 39-73 52z" color="#591201"/>
<path d="m8168 5669l-133 14 161 10z" color="#510c01"/>
<path d="m6450 6214l-127 75-78 94z" color="#6b2808"/>
<path d="m5695 8481l-18 110 47 131z" color="#1aba8b"/>
<path d="m5629 8209l10 248 18-111z" color="#35be66"/>
<path d="m10045 8900l-65 21 0 102z" color="#0e5b62"/>
<path d="m6528 6131l-205 158 127-75z" color="#692306"/>
<path d="m9063 9994l61-58-122 56z" color="#2b2f72"/>
<path d="m8852 5851l-74 7 152 46z" color="#5b1302"/>
<path d="m10233 8124l-57 26 38 112z" color="#2d7130"/>
<path d="m5657 7682l-57 112 0 138z" color="#74b02a"/>
<path d="m7730 5664l-180 37 159-14z" color="#510c01"/>
<path d="m9065 5957l-135-53 74 62z" color="#5e1602"/>
<path d="m8852 5851l-140-42 66 49z" color="#591201"/>
<path d="m8256 10272l-2-25-65 16z" color="#2a1948"/>
<path d="m9707 9453l-68 14-28 84z" color="#244885"/>
<path d="m5685 7409l-75 247 56-111z" color="#859c22"/>
<path d="m9065 5957l-61 9 146 57z" color="#601803"/>
<path d="m6304 9605l40 79 108 82z" color="#3e63cc"/>
<path d="m9795 9349l30-94-89 109z" color="#1e4e7d"/>
<path d="m7534 10264l142 5-67-13z" color="#2d1b4d"/>
<path d="m5935 6797l-140 223 88-102z" color="#8b611d"/>
<path d="m9352 9800l-67 5-45 67z" color="#2a3980"/>
<path d="m6245 6383l-182 189 111-88z" color="#74350d"/>
<path d="m10111 7197l-74-106 36 129z" color="#6c5c1a"/>
<path d="m9063 9994l-61-2-54 52z" color="#2b2d6f"/>
<path d="m6746 5995l-134 61-84 75z" color="#631b03"/>
<path d="m10148 7328l-48 24 76 110z" color="#636518"/>
<path d="m9558 6327l-115-78 74 92z" color="#6b2808"/>
<path d="m7042 5830l-216 101 143-49z" color="#5b1302"/>
<path d="m8642 5768l-84 5 154 36z" color="#560f01"/>
<path d="m8505 10223l-30-18-65 26z" color="#2a1d50"/>
<path d="m8023 5660l-147-2-4 23z" color="#4f0b01"/>
<path d="m6854 10020l63 51 116 39z" color="#373586"/>
<path d="m7213 10176l73 32 101 11z" color="#312462"/>
<path d="m7457 10243l77 21 75-8z" color="#2e1c52"/>
<path d="m8309 5685l-113 8 157 18z" color="#510c01"/>
<path d="m7397 5723l-144 29-64 39z" color="#540e01"/>
<path d="m6174 6484l-111 88-68 110z" color="#7a3e10"/>
<path d="m5919 9095l16 98 81 112z" color="#2a94d0"/>
<path d="m7876 5658l-146 6-21 23z" color="#4f0b01"/>
<path d="m10148 8643l0-110-47 133z" color="#0f694e"/>
<path d="m7286 10208l171 35-70-24z" color="#30215c"/>
<path d="m8256 10272l80-19-82-6z" color="#2a1a4a"/>
<path d="m9878 6727l-42 20 103 97z" color="#724615"/>
<path d="m8168 5669l-145-9 12 23z" color="#4f0b01"/>
<path d="m9274 6087l-124-64 79 73z" color="#631b03"/>
<path d="m6826 5931l-214 125 134-61z" color="#601803"/>
<path d="m10243 7848l-39-113 0 138z" color="#4b711b"/>
<path d="m9457 9720l52-77-109 85z" color="#284085"/>
<path d="m6735 9967l182 104-63-51z" color="#393b93"/>
<path d="m8505 10223l78-31-108 13z" color="#2a1f54"/>
<path d="m8642 5768l-140-32 56 37z" color="#540e01"/>
<path d="m8170 10287l19-24-69 11z" color="#2a1948"/>
<path d="m7587 5676l-190 47 153-22z" color="#510c01"/>
<path d="m6452 9766l169 140-56-66z" color="#3d52b7"/>
<path d="m5780 8850l82 226-17-101z" color="#1aa8b6"/>
<path d="m7253 5752l-211 78 147-39z" color="#560f01"/>
<path d="m7033 10110l71 41 109 25z" color="#342b73"/>
<path d="m7618 10280l129-1-71-10z" color="#2c1a4d"/>
<path d="m6105 9411l139 184-43-84z" color="#3c76d9"/>
<path d="m8876 10094l72-50-120 42z" color="#2b2969"/>
<path d="m6565 9840l56 66 114 61z" color="#3c4aac"/>
<path d="m5883 6918l-88 102-46 126z" color="#8e6b20"/>
<path d="m10101 8773l-57 22 1 105z" color="#0b625a"/>
<path d="m5657 8346l-18 111 38 134z" color="#28bc75"/>
<path d="m5610 8071l0 250 19-112z" color="#4abc4f"/>
<path d="m8876 10094l-48-8-64 44z" color="#2b2765"/>
<path d="m10243 7986l-49 25 39 113z" color="#3b7225"/>
<path d="m9558 6327l-41 14 121 82z" color="#6c2a09"/>
<path d="m8687 10170l-37-13-67 35z" color="#2a225b"/>
<path d="m9274 6087l-45 9 132 68z" color="#651c04"/>
<path d="m5666 7545l-56 111-10 138z" color="#7fa424"/>
<path d="m8687 10170l77-40-114 27z" color="#2a235e"/>
<path d="m7730 5664l-143 12-37 25z" color="#4f0b01"/>
<path d="m9808 6616l-96-91 66 108z" color="#71390f"/>
<path d="m8309 5685l-141-16 28 24z" color="#4f0b01"/>
<path d="m8079 10297l41-23-73 9z" color="#2a1949"/>
<path d="m9795 9349l-59 15-29 89z" color="#204c7f"/>
<path d="m9875 9239l32-98-82 114z" color="#175172"/>
<path d="m7706 10293l115-7-74-7z" color="#2c1a4c"/>
<path d="m7534 10264l84 16 58-11z" color="#2d1c51"/>
<path d="m5712 7276l-84 244 57-111z" color="#8b8e22"/>
<path d="m7104 10151l182 57-73-32z" color="#33296d"/>
<path d="m9174 9935l66-63-116 64z" color="#2b357a"/>
<path d="m6917 10071l187 80-71-41z" color="#36317f"/>
<path d="m6201 9511l43 84 100 89z" color="#3d6dd4"/>
<path d="m8170 10287l86-15-67-9z" color="#2a1a4b"/>
<path d="m9457 9720l-57 8-48 72z" color="#293e83"/>
<path d="m7986 10303l61-20-75 4z" color="#2b1949"/>
<path d="m7798 10301l99-13-76-2z" color="#2b1a4b"/>
<path d="m10111 7197l-38 23 75 108z" color="#6a5e1a"/>
<path d="m10065 7069l-72-104 44 126z" color="#705419"/>
<path d="m5995 6682l-146 215 86-100z" color="#845218"/>
<path d="m8443 5707l-90 4 149 25z" color="#510c01"/>
<path d="m7892 10304l80-17-75 1z" color="#2b1a4a"/>
<path d="m8417 10250l-7-19-74 22z" color="#2a1d51"/>
<path d="m6528 6131l-121 71-84 87z" color="#672005"/>
<path d="m5845 8975l17 101 73 117z" color="#20a0c1"/>
<path d="m10186 8510l0-112-38 135z" color="#176d44"/>
<path d="m6612 6056l-205 146 121-71z" color="#651c04"/>
<path d="m9174 9935l-50 1-61 58z" color="#2b3377"/>
<path d="m7370 10237l164 27-77-21z" color="#2f205b"/>
<path d="m7286 10208l84 29 87 6z" color="#302361"/>
<path d="m6323 6289l-184 179 106-85z" color="#6c2a09"/>
<path d="m7449 5696l-196 56 144-29z" color="#510c01"/>
<path d="m5724 8722l74 233-18-105z" color="#14b0a1"/>
<path d="m10234 7710l-39-113 9 138z" color="#556e18"/>
<path d="m7042 5830l-132 46-84 55z" color="#591201"/>
<path d="m7618 10280l88 13 41-14z" color="#2d1c50"/>
<path d="m9556 9633l55-82-102 92z" color="#264485"/>
<path d="m7587 5676l-138 20-52 27z" color="#4f0b01"/>
<path d="m10148 8643l-47 23 0 107z" color="#0d6751"/>
<path d="m6016 9305l134 194-45-88z" color="#3683d9"/>
<path d="m8079 10297l91-10-50-13z" color="#2a1a4b"/>
<path d="m5629 8209l-19 112 29 136z" color="#3cbc5e"/>
<path d="m8417 10250l88-27-95 8z" color="#2a1f54"/>
<path d="m5600 7932l-9 252 19-113z" color="#5eb73b"/>
<path d="m6344 9684l169 152-61-70z" color="#3d5dc5"/>
<path d="m6735 9967l71 56 111 48z" color="#393e97"/>
<path d="m9808 6616l-30 17 100 94z" color="#713c10"/>
<path d="m8443 5707l-134-22 44 26z" color="#4f0b01"/>
<path d="m9471 6238l-110-74 82 85z" color="#672005"/>
<path d="m6245 6383l-106 85-76 104z" color="#70310b"/>
<path d="m10243 7848l-39 25 39 113z" color="#47721d"/>
<path d="m8976 5900l-124-49 78 53z" color="#591201"/>
<path d="m7253 5752l-134 36-77 42z" color="#540e01"/>
<path d="m5935 6797l-86 100-54 123z" color="#885c1c"/>
<path d="m8769 5807l-57 2 140 42z" color="#560f01"/>
<path d="m6452 9766l61 70 108 70z" color="#3c55bb"/>
<path d="m5685 7409l-57 111-18 136z" color="#869622"/>
<path d="m8976 5900l-46 4 135 53z" color="#5b1302"/>
<path d="m6621 9906l185 117-71-56z" color="#3a45a4"/>
<path d="m6826 5931l-126 57-88 68z" color="#5e1602"/>
<path d="m7706 10293l92 8 23-15z" color="#2c1b4f"/>
<path d="m9947 9124l33-101-73 118z" color="#115769"/>
<path d="m9875 9239l-50 16-30 94z" color="#194f75"/>
<path d="m7986 10303l93-6-32-14z" color="#2b1b4c"/>
<path d="m8769 5807l-127-39 70 41z" color="#540e01"/>
<path d="m8010 5647l-134 11 147 2z" color="#4c0900"/>
<path d="m7881 5645l-151 19 146-6z" color="#4c0900"/>
<path d="m8983 10049l80-55-115 50z" color="#2b2f72"/>
<path d="m5749 7146l-92 240 55-110z" color="#8d7e22"/>
<path d="m7798 10301l94 3 5-16z" color="#2c1b4e"/>
<path d="m7104 10151l84 38 98 19z" color="#332b71"/>
<path d="m7892 10304l94-1-14-16z" color="#2b1b4d"/>
<path d="m6105 9411l45 88 94 96z" color="#3a7ad8"/>
<path d="m8321 10272l15-19-80 19z" color="#2a1d51"/>
<path d="m9731 6510l-93-87 74 102z" color="#6e300b"/>
<path d="m8597 10206l-14-14-78 31z" color="#2a225b"/>
<path d="m6917 10071l81 47 106 33z" color="#363484"/>
<path d="m9182 6017l-117-60 85 66z" color="#5e1602"/>
<path d="m7119 5788l-209 88 132-46z" color="#560f01"/>
<path d="m8138 5654l-115 6 145 9z" color="#4c0900"/>
<path d="m9471 6238l-28 11 115 78z" color="#692306"/>
<path d="m8983 10049l-35-5-72 50z" color="#2b2d6f"/>
<path d="m5780 8850l18 105 64 121z" color="#17aaad"/>
<path d="m9279 9869l73-69-112 72z" color="#2a3a80"/>
<path d="m10215 8375l-1-113-28 136z" color="#247038"/>
<path d="m9556 9633l-47 10-52 77z" color="#274385"/>
<path d="m7462 10262l156 18-84-16z" color="#2e2059"/>
<path d="m10065 7069l-28 22 74 106z" color="#6f571a"/>
<path d="m6910 5876l-210 112 126-57z" color="#5b1302"/>
<path d="m7751 5650l-164 26 143-12z" color="#4c0900"/>
<path d="m8597 10206l90-36-104 22z" color="#2a235e"/>
<path d="m10010 6945l-71-101 54 121z" color="#724c17"/>
<path d="m7188 10189l182 48-84-29z" color="#32286b"/>
<path d="m8569 5736l-67 0 140 32z" color="#510c01"/>
<path d="m5677 8591l65 238-18-107z" color="#17b58f"/>
<path d="m6063 6572l-151 206 83-96z" color="#7c4212"/>
<path d="m7370 10237l92 25 72 2z" color="#30235f"/>
<path d="m9182 6017l-32 6 124 64z" color="#601803"/>
<path d="m10214 7574l-38-112 19 135z" color="#5e6918"/>
<path d="m8788 10139l88-45-112 36z" color="#2b2968"/>
<path d="m8788 10139l-24-9-77 40z" color="#2b2765"/>
<path d="m10186 8510l-38 23 0 110z" color="#146c47"/>
<path d="m5610 8071l-19 113 19 137z" color="#51b948"/>
<path d="m6806 10023l192 95-81-47z" color="#383a90"/>
<path d="m7449 5696l-130 26-66 30z" color="#4f0b01"/>
<path d="m5600 7794l-19 252 19-114z" color="#6eb02d"/>
<path d="m8321 10272l96-22-81 3z" color="#2a1f55"/>
<path d="m5935 9193l128 204-47-92z" color="#2d8ed1"/>
<path d="m9648 9540l59-87-96 98z" color="#234981"/>
<path d="m10234 7710l-30 25 39 113z" color="#526f18"/>
<path d="m7319 5722l-200 66 134-36z" color="#510c01"/>
<path d="m8569 5736l-126-29 59 29z" color="#4f0b01"/>
<path d="m9279 9869l-39 3-66 63z" color="#2a387e"/>
<path d="m8263 5668l-95 1 141 16z" color="#4c0900"/>
<path d="m6998 10118l190 71-84-38z" color="#35307c"/>
<path d="m8010 5647l-129-2-5 13z" color="#4a0900"/>
<path d="m6244 9595l166 164-66-75z" color="#3c69cf"/>
<path d="m6612 6056l-114 66-91 80z" color="#631b03"/>
<path d="m8219 10290l37-18-86 15z" color="#2b1d52"/>
<path d="m5712 7276l-55 110-29 134z" color="#8b8722"/>
<path d="m6407 6202l-185 168 101-81z" color="#692306"/>
<path d="m10011 9004l34-104-65 123z" color="#0d5e5f"/>
<path d="m7625 5661l-176 35 138-20z" color="#4c0900"/>
<path d="m7881 5645l-130 5-21 14z" color="#4a0900"/>
<path d="m9947 9124l-40 17-32 98z" color="#13546b"/>
<path d="m8138 5654l-128-7 13 13z" color="#4a0900"/>
<path d="m9731 6510l-19 15 96 91z" color="#6f330c"/>
<path d="m7561 10282l145 11-88-13z" color="#2e2058"/>
<path d="m5995 6682l-83 96-63 119z" color="#814c16"/>
<path d="m6700 5988l-202 134 114-66z" color="#601803"/>
<path d="m6323 6289l-101 81-83 98z" color="#6b2808"/>
<path d="m6344 9684l66 75 103 77z" color="#3c61c7"/>
<path d="m6621 9906l78 61 107 56z" color="#3a48a8"/>
<path d="m5795 7020l-101 234 55-108z" color="#8d6e21"/>
<path d="m6016 9305l47 92 87 102z" color="#3385d5"/>
<path d="m6513 9836l186 131-78-61z" color="#3b50b3"/>
<path d="m9377 6156l-103-69 87 77z" color="#631b03"/>
<path d="m10234 8238l-1-114-19 138z" color="#32722c"/>
<path d="m5724 8722l18 107 56 126z" color="#14b19a"/>
<path d="m7462 10262l99 20 57-2z" color="#2f225e"/>
<path d="m7751 5650l-126 11-38 15z" color="#4a0900"/>
<path d="m8263 5668l-125-14 30 15z" color="#4a0900"/>
<path d="m8111 10302l59-15-91 10z" color="#2b1e53"/>
<path d="m8496 10237l9-14-88 27z" color="#2b225c"/>
<path d="m5639 8457l56 243-18-109z" color="#22b87a"/>
<path d="m10010 6945l-17 20 72 104z" color="#714f18"/>
<path d="m9648 9540l-37 11-55 82z" color="#244782"/>
<path d="m8219 10290l102-18-65 0z" color="#2b1f55"/>
<path d="m7667 10297l131 4-92-8z" color="#2d1f57"/>
<path d="m7188 10189l96 34 86 14z" color="#322a6f"/>
<path d="m7119 5788l-121 42-88 46z" color="#540e01"/>
<path d="m10215 8375l-29 23 0 112z" color="#1f6f3c"/>
<path d="m10186 7439l-38-111 28 134z" color="#656319"/>
<path d="m9646 6410l-88-83 80 96z" color="#6b2808"/>
<path d="m9086 9995l88-60-111 59z" color="#2a347a"/>
<path d="m9946 6825l-68-98 61 117z" color="#724313"/>
<path d="m5600 7932l-19 114 10 138z" color="#63b435"/>
<path d="m9379 9794l78-74-105 80z" color="#283f83"/>
<path d="m7284 10223l178 39-92-25z" color="#312769"/>
<path d="m8382 5688l-73-3 134 22z" color="#4c0900"/>
<path d="m5610 7656l-29 252 19-114z" color="#79a524"/>
<path d="m6910 5876l-116 52-94 60z" color="#591201"/>
<path d="m5862 9076l122 213-49-96z" color="#2299c3"/>
<path d="m8496 10237l101-31-92 17z" color="#2b245f"/>
<path d="m10214 7574l-19 23 39 113z" color="#5b6b18"/>
<path d="m8000 10309l79-12-93 6z" color="#2b1e53"/>
<path d="m8883 5851l-114-44 83 44z" color="#540e01"/>
<path d="m9377 6156l-16 8 110 74z" color="#651c04"/>
<path d="m6139 6468l-156 197 80-93z" color="#72340d"/>
<path d="m8883 5851l-31 0 124 49z" color="#560f01"/>
<path d="m7776 10306l116-2-94-3z" color="#2c1f56"/>
<path d="m9733 9440l62-91-88 104z" color="#1d4c7a"/>
<path d="m7503 5678l-184 44 130-26z" color="#4c0900"/>
<path d="m9086 9995l-23-1-80 55z" color="#2a3277"/>
<path d="m7888 10310l98-7-94 1z" color="#2c1e54"/>
<path d="m6806 10023l89 53 103 42z" color="#383d94"/>
<path d="m8684 5771l-42-3 127 39z" color="#510c01"/>
<path d="m10066 8880l35-107-56 127z" color="#0b6457"/>
<path d="m7319 5722l-120 32-80 34z" color="#4f0b01"/>
<path d="m5749 7146l-55 108-37 132z" color="#8c7822"/>
<path d="m9084 5955l-108-55 89 57z" color="#591201"/>
<path d="m6998 10118l95 43 95 28z" color="#353381"/>
<path d="m7561 10282l106 15 39-4z" color="#2e215c"/>
<path d="m10011 9004l-31 19-33 101z" color="#0e5b62"/>
<path d="m7625 5661l-122 17-54 18z" color="#4a0900"/>
<path d="m6150 9499l164 176-70-80z" color="#3a73d4"/>
<path d="m8111 10302l108-12-49-3z" color="#2b1f56"/>
<path d="m8382 5688l-119-20 46 17z" color="#4a0900"/>
<path d="m8684 5771l-115-35 73 32z" color="#4f0b01"/>
<path d="m9379 9794l-27 6-73 69z" color="#283d82"/>
<path d="m8686 10179l1-9-90 36z" color="#2b2765"/>
<path d="m6998 5830l-204 98 116-52z" color="#560f01"/>
<path d="m9084 5955l-19 2 117 60z" color="#5b1302"/>
<path d="m8886 10099l97-50-107 45z" color="#2b2e71"/>
<path d="m6063 6572l-80 93-71 113z" color="#773c10"/>
<path d="m6699 9967l196 109-89-53z" color="#3944a0"/>
<path d="m10244 8101l-1-115-10 138z" color="#3f7222"/>
<path d="m8686 10179l102-40-101 31z" color="#2b2969"/>
<path d="m7199 5754l-201 76 121-42z" color="#510c01"/>
<path d="m9646 6410l-8 13 93 87z" color="#6c2a09"/>
<path d="m5849 6897l-108 228 54-105z" color="#885f1d"/>
<path d="m5677 8591l18 109 47 129z" color="#19b587"/>
<path d="m8886 10099l-10-5-88 45z" color="#2b2d6f"/>
<path d="m5935 9193l49 96 79 108z" color="#2990cb"/>
<path d="m6498 6122l-186 156 95-76z" color="#651c04"/>
<path d="m6244 9595l70 80 96 84z" color="#3b6bcf"/>
<path d="m7093 10161l191 62-96-34z" color="#342f7a"/>
<path d="m5610 8321l48 248-19-112z" color="#34b963"/>
<path d="m7667 10297l109 9 22-5z" color="#2d215b"/>
<path d="m8385 10263l32-13-96 22z" color="#2b225c"/>
<path d="m6700 5988l-105 62-97 72z" color="#5e1602"/>
<path d="m6407 6202l-95 76-90 92z" color="#672005"/>
<path d="m8000 10309l111-7-32-5z" color="#2c2057"/>
<path d="m10234 8238l-20 24 1 113z" color="#2d7130"/>
<path d="m5600 7794l-19 114 0 138z" color="#71ab29"/>
<path d="m9946 6825l-7 19 71 101z" color="#724615"/>
<path d="m7997 5643l-116 2 129 2z" color="#470700"/>
<path d="m10148 7306l-37-109 37 131z" color="#6c5c1a"/>
<path d="m7885 5641l-134 9 130-5z" color="#470700"/>
<path d="m6895 10076l198 85-95-43z" color="#36398d"/>
<path d="m6513 9836l84 67 102 64z" color="#3b53b6"/>
<path d="m7391 10251l170 31-99-20z" color="#302767"/>
<path d="m5628 7520l-37 250 19-114z" color="#819822"/>
<path d="m6410 9759l187 144-84-67z" color="#3c5bc0"/>
<path d="m9733 9440l-26 13-59 87z" color="#1f4a7c"/>
<path d="m7776 10306l112 4 4-6z" color="#2d205a"/>
<path d="m8493 5714l-50-7 126 29z" color="#4c0900"/>
<path d="m7888 10310l112-1-14-6z" color="#2c2058"/>
<path d="m6794 5928l-199 122 105-62z" color="#5b1302"/>
<path d="m7284 10223l107 28 71 11z" color="#31296d"/>
<path d="m9874 6710l-66-94 70 111z" color="#71390f"/>
<path d="m10186 7439l-10 23 38 112z" color="#636518"/>
<path d="m5798 8955l115 221-51-100z" color="#19a3b1"/>
<path d="m8108 5649l-98-2 128 7z" color="#470700"/>
<path d="m9277 6081l-95-64 92 70z" color="#5e1602"/>
<path d="m9473 9712l83-79-99 87z" color="#264383"/>
<path d="m7773 5645l-148 16 126-11z" color="#470700"/>
<path d="m8385 10263l111-26-79 13z" color="#2b245f"/>
<path d="m9554 6316l-83-78 87 89z" color="#672005"/>
<path d="m9811 9334l64-95-80 110z" color="#175070"/>
<path d="m7503 5678l-115 23-69 21z" color="#4a0900"/>
<path d="m10112 8752l36-109-47 130z" color="#0f694e"/>
<path d="m7388 5701l-189 53 120-32z" color="#4c0900"/>
<path d="m6222 6370l-160 187 77-89z" color="#6c2a09"/>
<path d="m5795 7020l-54 105-47 129z" color="#8a681f"/>
<path d="m9184 9933l95-64-105 66z" color="#293a7f"/>
<path d="m10066 8880l-21 20-34 104z" color="#0b625a"/>
<path d="m8493 5714l-111-26 61 19z" color="#4a0900"/>
<path d="m10244 7962l-1-114 0 138z" color="#4b711b"/>
<path d="m9277 6081l-3 6 103 69z" color="#601803"/>
<path d="m8216 5661l-78-7 125 14z" color="#470700"/>
<path d="m5639 8457l19 112 37 131z" color="#27b772"/>
<path d="m6063 9397l161 187-74-85z" color="#357fd3"/>
<path d="m8266 10283l55-11-102 18z" color="#2b235d"/>
<path d="m5912 6778l-115 221 52-102z" color="#815017"/>
<path d="m9184 9933l-10 2-88 60z" color="#2a387d"/>
<path d="m7664 5655l-161 23 122-17z" color="#470700"/>
<path d="m7997 5643l-112-2-4 4z" color="#460700"/>
<path d="m5591 8184l38 250-19-113z" color="#48b74d"/>
<path d="m7506 10274l161 23-106-15z" color="#2f2666"/>
<path d="m6139 6468l-77 89-79 108z" color="#6f300b"/>
<path d="m5862 9076l51 100 71 113z" color="#1f9bbc"/>
<path d="m6998 5830l-105 47-99 51z" color="#540e01"/>
<path d="m9473 9712l-16 8-78 74z" color="#264283"/>
<path d="m7199 5754l-109 38-92 38z" color="#4f0b01"/>
<path d="m10244 8101l-11 23 1 114z" color="#3b7225"/>
<path d="m7885 5641l-112 4-22 5z" color="#460700"/>
<path d="m6699 9967l98 58 98 51z" color="#3947a4"/>
<path d="m8108 5649l-111-6 13 4z" color="#460700"/>
<path d="m5610 7656l-19 114-10 138z" color="#7ba023"/>
<path d="m7093 10161l109 37 82 25z" color="#34327f"/>
<path d="m8572 10214l25-8-101 31z" color="#2b2766"/>
<path d="m9554 6316l4 11 88 83z" color="#692306"/>
<path d="m10101 7176l-36-107 46 128z" color="#705419"/>
<path d="m8786 5811l-17-4 114 44z" color="#510c01"/>
<path d="m6150 9499l74 85 90 91z" color="#3876d3"/>
<path d="m5657 7386l-47 247 18-113z" color="#878a21"/>
<path d="m7391 10251l115 23 55 8z" color="#30286b"/>
<path d="m9874 6710l4 17 68 98z" color="#713c10"/>
<path d="m8786 5811l-102-40 85 36z" color="#4f0b01"/>
<path d="m8981 5901l-98-50 93 49z" color="#540e01"/>
<path d="m10148 7306l0 22 38 111z" color="#6a5e1a"/>
<path d="m7202 10198l189 53-107-28z" color="#332e78"/>
<path d="m8572 10214l114-35-89 27z" color="#2b2969"/>
<path d="m9811 9334l-16 15-62 91z" color="#194e73"/>
<path d="m6597 9903l200 122-98-58z" color="#3a4eaf"/>
<path d="m6595 6050l-187 144 90-72z" color="#601803"/>
<path d="m8266 10283l119-20-64 9z" color="#2b2460"/>
<path d="m6895 10076l106 47 92 38z" color="#363b91"/>
<path d="m5742 8829l108 228-52-102z" color="#14ac9d"/>
<path d="m7773 5645l-109 10-39 6z" color="#460700"/>
<path d="m6498 6122l-90 72-96 84z" color="#631b03"/>
<path d="m8981 5901l-5-1 108 55z" color="#560f01"/>
<path d="m8979 10050l107-55-103 54z" color="#2a3479"/>
<path d="m8142 10297l77-7-108 12z" color="#2c235e"/>
<path d="m8216 5661l-108-12 30 5z" color="#460700"/>
<path d="m9794 6600l-63-90 77 106z" color="#6e300b"/>
<path d="m10150 8621l36-111-38 133z" color="#176d44"/>
<path d="m8319 5679l-56-11 119 20z" color="#470700"/>
<path d="m7628 10291l148 15-109-9z" color="#2e2564"/>
<path d="m8595 5745l-26-9 115 35z" color="#4c0900"/>
<path d="m6314 9675l187 156-91-72z" color="#3b66ca"/>
<path d="m7090 5792l-197 85 105-47z" color="#510c01"/>
<path d="m9880 9222l67-98-72 115z" color="#115668"/>
<path d="m8979 10050l4-1-97 50z" color="#2a3277"/>
<path d="m6794 5928l-97 58-102 64z" color="#591201"/>
<path d="m6410 9759l91 72 96 72z" color="#3b5ec2"/>
<path d="m5849 6897l-52 102-56 126z" color="#85591b"/>
<path d="m10112 8752l-11 21-35 107z" color="#0d6751"/>
<path d="m8772 10144l16-5-102 40z" color="#2b2d6f"/>
<path d="m7388 5701l-106 29-83 24z" color="#4a0900"/>
<path d="m8772 10144l114-45-98 40z" color="#2b2f72"/>
<path d="m7559 5670l-171 31 115-23z" color="#470700"/>
<path d="m9561 9623l87-83-92 93z" color="#22477f"/>
<path d="m10234 7824l0-114 9 138z" color="#556e18"/>
<path d="m8595 5745l-102-31 76 22z" color="#4a0900"/>
<path d="m9455 6229l-78-73 94 82z" color="#631b03"/>
<path d="m6312 6278l-164 177 74-85z" color="#692306"/>
<path d="m8014 10305l97-3-111 7z" color="#2c235f"/>
<path d="m5610 8321l19 113 29 135z" color="#3ab75b"/>
<path d="m7282 5730l-192 62 109-38z" color="#4c0900"/>
<path d="m7755 10302l133 8-112-4z" color="#2e2562"/>
<path d="m6893 5877l-196 109 97-58z" color="#560f01"/>
<path d="m7001 10123l201 75-109-37z" color="#35388a"/>
<path d="m9172 6014l-88-59 98 62z" color="#591201"/>
<path d="m5581 8046l29 252-19-114z" color="#5bb23a"/>
<path d="m6797 10025l204 98-106-47z" color="#38429c"/>
<path d="m7884 10307l116 2-112 1z" color="#2d2461"/>
<path d="m7506 10274l122 17 39 6z" color="#2f2869"/>
<path d="m10244 7962l-1 24 1 115z" color="#47721d"/>
<path d="m5983 6665l-122 213 51-100z" color="#794011"/>
<path d="m5984 9289l157 197-78-89z" color="#2c8acb"/>
<path d="m8319 5679l-103-18 47 7z" color="#460700"/>
<path d="m9277 9864l102-70-100 75z" color="#273f82"/>
<path d="m5628 7520l-18 113-19 137z" color="#829221"/>
<path d="m5798 8955l52 102 63 119z" color="#16a5a8"/>
<path d="m8142 10297l124-14-47 7z" color="#2c2561"/>
<path d="m6222 6370l-74 85-86 102z" color="#6b2808"/>
<path d="m5694 7254l-56 243 19-111z" color="#897b21"/>
<path d="m10045 7049l-35-104 55 124z" color="#724c17"/>
<path d="m9172 6014l10 3 95 64z" color="#5b1302"/>
<path d="m8446 10244l50-7-111 26z" color="#2b2866"/>
<path d="m10101 7176l10 21 37 109z" color="#6f571a"/>
<path d="m9794 6600l14 16 66 94z" color="#6f330c"/>
<path d="m9561 9623l-5 10-83 79z" color="#234580"/>
<path d="m9455 6229l16 9 83 78z" color="#651c04"/>
<path d="m7202 10198l120 33 69 20z" color="#33317c"/>
<path d="m6063 9397l78 89 83 98z" color="#3281cf"/>
<path d="m8415 5701l-33-13 111 26z" color="#470700"/>
<path d="m5695 8700l101 235-54-106z" color="#16b08b"/>
<path d="m7322 10231l184 43-115-23z" color="#322d75"/>
<path d="m9277 9864l2 5-95 64z" color="#283d81"/>
<path d="m7628 10291l127 11 21 4z" color="#2f2767"/>
<path d="m10178 8487l37-112-29 135z" color="#247038"/>
<path d="m9880 9222l-5 17-64 95z" color="#13546a"/>
<path d="m8014 10305l128-8-31 5z" color="#2c2562"/>
<path d="m9706 6496l-60-86 85 100z" color="#6b2808"/>
<path d="m8446 10244l126-30-76 23z" color="#2b2a6a"/>
<path d="m10150 8621l-2 22-36 109z" color="#146c47"/>
<path d="m7984 5648l-99-7 112 2z" color="#430601"/>
<path d="m5912 6778l-51 100-64 121z" color="#7d4a15"/>
<path d="m7459 5690l-177 40 106-29z" color="#470700"/>
<path d="m7890 5647l-117-2 112-4z" color="#430601"/>
<path d="m9942 9105l69-101-64 120z" color="#0d5e5f"/>
<path d="m6597 9903l106 63 94 59z" color="#3a51b2"/>
<path d="m10215 7687l-1-113 20 136z" color="#5e6918"/>
<path d="m7755 10302l129 5 4 3z" color="#2e2665"/>
<path d="m7559 5670l-100 20-71 11z" color="#460700"/>
<path d="m7884 10307l130-2-14 4z" color="#2d2664"/>
<path d="m6595 6050l-84 67-103 77z" color="#5e1602"/>
<path d="m7090 5792l-95 42-102 43z" color="#4f0b01"/>
<path d="m6697 5986l-186 131 84-67z" color="#5b1302"/>
<path d="m5591 8184l19 114 19 136z" color="#4eb445"/>
<path d="m8077 5654l-80-11 111 6z" color="#430601"/>
<path d="m8415 5701l-96-22 63 9z" color="#460700"/>
<path d="m5581 7908l19 253-19-115z" color="#6aab2b"/>
<path d="m7796 5651l-132 4 109-10z" color="#430601"/>
<path d="m6501 9831l202 135-106-63z" color="#3a59bb"/>
<path d="m6224 9584l186 168-96-77z" color="#3970ce"/>
<path d="m9641 9527l92-87-85 100z" color="#1d4a77"/>
<path d="m10234 7824l9 24 1 114z" color="#526f18"/>
<path d="m7282 5730l-96 33-96 29z" color="#4a0900"/>
<path d="m8874 5856l-88-45 97 40z" color="#4f0b01"/>
<path d="m5657 7386l-19 111-28 136z" color="#878321"/>
<path d="m8685 5780l-1-9 102 40z" color="#4c0900"/>
<path d="m6314 9675l96 77 91 79z" color="#3a68ca"/>
<path d="m6408 6194l-166 165 70-81z" color="#651c04"/>
<path d="m8874 5856l9-5 98 50z" color="#510c01"/>
<path d="m9069 9993l115-60-98 62z" color="#29397f"/>
<path d="m6062 6557l-128 204 49-96z" color="#70330c"/>
<path d="m7001 10123l121 42 80 33z" color="#353a8e"/>
<path d="m9350 6150l-73-69 100 75z" color="#5e1602"/>
<path d="m8685 5780l-90-35 89 26z" color="#4a0900"/>
<path d="m5742 8829l54 106 54 122z" color="#13ab95"/>
<path d="m5741 7125l-65 238 18-109z" color="#886b20"/>
<path d="m6893 5877l-89 52-107 57z" color="#540e01"/>
<path d="m8645 10183l41-4-114 35z" color="#2b2d70"/>
<path d="m8312 10267l73-4-119 20z" color="#2c2867"/>
<path d="m6797 10025l116 52 88 46z" color="#3845a0"/>
<path d="m9980 6926l-34-101 64 120z" color="#724313"/>
<path d="m5913 9176l152 206-81-93z" color="#2195bd"/>
<path d="m8168 5664l-60-15 108 12z" color="#430601"/>
<path d="m10045 7049l20 20 36 107z" color="#714f18"/>
<path d="m9069 9993l17 2-107 55z" color="#29387d"/>
<path d="m6312 6278l-70 81-94 96z" color="#672005"/>
<path d="m7453 10257l175 34-122-17z" color="#312c73"/>
<path d="m7704 5659l-145 11 105-15z" color="#430601"/>
<path d="m8645 10183l127-39-86 35z" color="#2b2f72"/>
<path d="m7186 5763l-191 71 95-42z" color="#4c0900"/>
<path d="m7122 10165l200 66-120-33z" color="#343787"/>
<path d="m9061 5956l-80-55 103 54z" color="#540e01"/>
<path d="m9706 6496l25 14 63 90z" color="#6c2a09"/>
<path d="m7984 5648l-94-1-5-6z" color="#420501"/>
<path d="m10197 8352l37-114-19 137z" color="#32722c"/>
<path d="m5658 8569l92 239-55-108z" color="#21b376"/>
<path d="m9365 9786l108-74-94 82z" color="#254381"/>
<path d="m6995 5834l-191 95 89-52z" color="#510c01"/>
<path d="m8855 10100l124-50-93 49z" color="#2a3479"/>
<path d="m7322 10231l131 26 53 17z" color="#32307a"/>
<path d="m8855 10100l31-1-114 45z" color="#2a3277"/>
<path d="m7890 5647l-94 4-23-6z" color="#420501"/>
<path d="m8503 5728l-10-14 102 31z" color="#470700"/>
<path d="m8077 5654l-93-6 13-5z" color="#420501"/>
<path d="m9942 9105l5 19-67 98z" color="#0e5b62"/>
<path d="m9350 6150l27 6 78 73z" color="#601803"/>
<path d="m10178 8487l8 23-36 111z" color="#1f6f3c"/>
<path d="m10187 7550l-1-111 28 135z" color="#656319"/>
<path d="m5984 9289l81 93 76 104z" color="#288cc5"/>
<path d="m8312 10267l134-23-61 19z" color="#2c2a6b"/>
<path d="m9641 9527l7 13-87 83z" color="#1e497a"/>
<path d="m6703 9966l210 111-116-52z" color="#394cab"/>
<path d="m5983 6665l-49 96-73 117z" color="#743b0f"/>
<path d="m9061 5956l23-1 88 59z" color="#560f01"/>
<path d="m7459 5690l-92 24-85 16z" color="#460700"/>
<path d="m9611 6398l-57-82 92 94z" color="#672005"/>
<path d="m9996 8984l70-104-55 124z" color="#0b6457"/>
<path d="m5581 8046l19 115 10 137z" color="#60ae34"/>
<path d="m8254 5679l-38-18 103 18z" color="#430601"/>
<path d="m7367 5714l-181 49 96-33z" color="#470700"/>
<path d="m7796 5651l-92 8-40-4z" color="#420501"/>
<path d="m6913 10077l209 88-121-42z" color="#364198"/>
<path d="m8503 5728l-88-27 78 13z" color="#460700"/>
<path d="m5591 7770l9 252-19-114z" color="#76a023"/>
<path d="m8171 10283l95 0-124 14z" color="#2c2969"/>
<path d="m8168 5664l-91-10 31-5z" color="#420501"/>
<path d="m10215 7687l19 23 0 114z" color="#5b6b18"/>
<path d="m7590 10276l165 26-127-11z" color="#302c71"/>
<path d="m9365 9786l14 8-102 70z" color="#264182"/>
<path d="m7616 5671l-157 19 100-20z" color="#430601"/>
<path d="m5694 7254l-18 109-38 134z" color="#887421"/>
<path d="m6697 5986l-78 61-108 70z" color="#591201"/>
<path d="m5797 6999l-74 233 18-107z" color="#845c1c"/>
<path d="m6148 6455l-133 194 47-92z" color="#6c2a09"/>
<path d="m6804 5929l-185 118 78-61z" color="#560f01"/>
<path d="m9715 9425l96-91-78 106z" color="#174f6f"/>
<path d="m9907 6807l-33-97 72 115z" color="#71390f"/>
<path d="m5695 8700l55 108 46 127z" color="#19af83"/>
<path d="m9980 6926l30 19 35 104z" color="#724615"/>
<path d="m6511 6117l-168 152 65-75z" color="#601803"/>
<path d="m6141 9486l184 179-101-81z" color="#337bcd"/>
<path d="m8026 10292l116 5-128 8z" color="#2d296a"/>
<path d="m7704 5659l-88 12-57-1z" color="#420501"/>
<path d="m6501 9831l113 67 89 68z" color="#395cbd"/>
<path d="m7734 10288l150 19-129-5z" color="#2f2b6e"/>
<path d="m7453 10257l137 19 38 15z" color="#312f77"/>
<path d="m8254 5679l-86-15 48-3z" color="#420501"/>
<path d="m5850 9057l147 215-84-96z" color="#189eab"/>
<path d="m9239 6078l-67-64 105 67z" color="#591201"/>
<path d="m10206 8214l38-113-10 137z" color="#3f7222"/>
<path d="m6224 9584l101 81 85 87z" color="#3773cc"/>
<path d="m7880 10294l134 11-130 2z" color="#2e2a6c"/>
<path d="m6410 9752l204 146-113-67z" color="#3963c4"/>
<path d="m8171 10283l141-16-46 16z" color="#2c2b6c"/>
<path d="m8506 10216l66-2-126 30z" color="#2b2e71"/>
<path d="m6408 6194l-65 75-101 90z" color="#631b03"/>
<path d="m5629 8434l84 244-55-109z" color="#32b360"/>
<path d="m9611 6398l35 12 60 86z" color="#692306"/>
<path d="m7186 5763l-84 38-107 33z" color="#4a0900"/>
<path d="m7122 10165l134 36 66 30z" color="#34398a"/>
<path d="m10149 7415l-1-109 38 133z" color="#6c5c1a"/>
<path d="m8335 5697l-16-18 96 22z" color="#430601"/>
<path d="m10197 8352l18 23-37 112z" color="#2d7130"/>
<path d="m7256 10201l197 56-131-26z" color="#333584"/>
<path d="m6995 5834l-80 47-111 48z" color="#4f0b01"/>
<path d="m8763 5820l-78-40 101 31z" color="#4a0900"/>
<path d="m6062 6557l-47 92-81 112z" color="#6e300b"/>
<path d="m8763 5820l23-9 88 45z" color="#4c0900"/>
<path d="m9153 9928l124-64-93 69z" color="#273f82"/>
<path d="m5581 7908l19 114 0 139z" color="#6da527"/>
<path d="m9996 8984l15 20-69 101z" color="#0b625a"/>
<path d="m8506 10216l139-33-73 31z" color="#2b2f73"/>
<path d="m5610 7633l0 251-19-114z" color="#7d9320"/>
<path d="m7532 5688l-165 26 92-24z" color="#430601"/>
<path d="m10040 8858l72-106-46 128z" color="#0f694e"/>
<path d="m10187 7550l27 24 1 113z" color="#636518"/>
<path d="m8581 5758l14-13 90 35z" color="#470700"/>
<path d="m5913 9176l84 96 68 110z" color="#1e96b6"/>
<path d="m9509 6306l-54-77 99 87z" color="#631b03"/>
<path d="m9239 6078l38 3 73 69z" color="#5b1302"/>
<path d="m7367 5714l-83 29-98 20z" color="#460700"/>
<path d="m5741 7125l-18 107-47 131z" color="#86651e"/>
<path d="m7590 10276l144 12 21 14z" color="#302e74"/>
<path d="m8946 5905l-72-49 107 45z" color="#4f0b01"/>
<path d="m9446 9701l115-78-88 89z" color="#21467d"/>
<path d="m7616 5671l-84 17-73 2z" color="#420501"/>
<path d="m9715 9425l18 15-92 87z" color="#194d72"/>
<path d="m9153 9928l31 5-115 60z" color="#283d81"/>
<path d="m6703 9966l126 56 84 55z" color="#384fad"/>
<path d="m8026 10292l145-9-29 14z" color="#2d2b6e"/>
<path d="m8581 5758l-78-30 92 17z" color="#460700"/>
<path d="m8335 5697l-81-18 65 0z" color="#420501"/>
<path d="m5861 6878l-82 226 18-105z" color="#7d4d17"/>
<path d="m6913 10077l133 46 76 42z" color="#36439c"/>
<path d="m7102 5801l-187 80 80-47z" color="#4c0900"/>
<path d="m7971 5663l-81-16 94 1z" color="#3f0401"/>
<path d="m8946 5905l35-4 80 55z" color="#510c01"/>
<path d="m7895 5662l-99-11 94-4z" color="#3f0401"/>
<path d="m7284 5743l-182 58 84-38z" color="#470700"/>
<path d="m9826 6693l-32-93 80 110z" color="#6e300b"/>
<path d="m6242 6359l-138 183 44-87z" color="#692306"/>
<path d="m9907 6807l39 18 34 101z" color="#713c10"/>
<path d="m7734 10288l146 6 4 13z" color="#2f2d72"/>
<path d="m8716 10143l56 1-127 39z" color="#2b3378"/>
<path d="m7880 10294l146-2-12 13z" color="#2e2c70"/>
<path d="m5658 8569l55 109 37 130z" color="#26b16e"/>
<path d="m8046 5668l-62-20 93 6z" color="#3f0401"/>
<path d="m8934 10047l135-54-90 57z" color="#293a7f"/>
<path d="m7819 5665l-115-6 92-8z" color="#3f0401"/>
<path d="m8716 10143l139-43-83 44z" color="#2a357a"/>
<path d="m10206 8076l38-114 0 139z" color="#4b711b"/>
<path d="m6614 9898l215 124-126-56z" color="#3856b6"/>
<path d="m8934 10047l45 3-124 50z" color="#2a387e"/>
<path d="m9781 9316l99-94-69 112z" color="#115668"/>
<path d="m6804 5929l-71 56-114 62z" color="#540e01"/>
<path d="m9446 9701l27 11-108 74z" color="#23457f"/>
<path d="m6619 6047l-169 140 61-70z" color="#5b1302"/>
<path d="m7046 10123l210 78-134-36z" color="#353f95"/>
<path d="m5610 8298l76 247-57-111z" color="#46b14a"/>
<path d="m8357 10241l89 3-134 23z" color="#2c2e72"/>
<path d="m10102 7283l-1-107 47 130z" color="#705419"/>
<path d="m5796 8935l141 222-87-100z" color="#13a698"/>
<path d="m8408 5720l7-19 88 27z" color="#430601"/>
<path d="m9509 6306l45 10 57 82z" color="#651c04"/>
<path d="m6915 5881l-182 104 71-56z" color="#510c01"/>
<path d="m8118 5676l-41-22 91 10z" color="#3f0401"/>
<path d="m6065 9382l182 189-106-85z" color="#2b86c5"/>
<path d="m6511 6117l-61 70-107 82z" color="#5e1602"/>
<path d="m10206 8214l28 24-37 114z" color="#3b7225"/>
<path d="m7401 10230l189 46-137-19z" color="#323481"/>
<path d="m5591 7770l19 114-10 138z" color="#779a21"/>
<path d="m7745 5672l-129-1 88-12z" color="#3f0401"/>
<path d="m6148 6455l-44 87-89 107z" color="#6b2808"/>
<path d="m5638 7497l-9 249-19-113z" color="#828520"/>
<path d="m9123 6013l-62-57 111 58z" color="#540e01"/>
<path d="m6829 10022l217 101-133-46z" color="#374aa6"/>
<path d="m10149 7415l37 24 1 111z" color="#6a5e1a"/>
<path d="m7256 10201l145 29 52 27z" color="#333787"/>
<path d="m7455 5708l-171 35 83-29z" color="#430601"/>
<path d="m7532 5688l-77 20-88 6z" color="#420501"/>
<path d="m6141 9486l106 85 78 94z" color="#307dc9"/>
<path d="m5797 6999l-18 105-56 128z" color="#81561a"/>
<path d="m10040 8858l26 22-70 104z" color="#0d6751"/>
<path d="m8408 5720l-73-23 80 4z" color="#420501"/>
<path d="m10076 8729l74-108-38 131z" color="#176d44"/>
<path d="m6410 9752l121 71 83 75z" color="#3865c4"/>
<path d="m7971 5663l-76-1-5-15z" color="#3e0401"/>
<path d="m8357 10241l149-25-60 28z" color="#2c3075"/>
<path d="m6325 9665l206 158-121-71z" color="#376dc8"/>
<path d="m9400 6221l-50-71 105 79z" color="#5e1602"/>
<path d="m5934 6761l-90 218 17-101z" color="#753e11"/>
<path d="m7895 5662l-76 3-23-14z" color="#3e0401"/>
<path d="m8046 5668l-75-5 13-15z" color="#3e0401"/>
<path d="m5850 9057l87 100 60 115z" color="#159fa3"/>
<path d="m8188 5688l-20-24 86 15z" color="#3f0401"/>
<path d="m9123 6013l49 1 67 64z" color="#560f01"/>
<path d="m9826 6693l48 17 33 97z" color="#6f330c"/>
<path d="m9736 6585l-30-89 88 104z" color="#6b2808"/>
<path d="m7102 5801l-71 41-116 39z" color="#4a0900"/>
<path d="m7284 5743l-72 33-110 25z" color="#460700"/>
<path d="m7674 5682l-142 6 84-17z" color="#3f0401"/>
<path d="m6343 6269l-143 173 42-83z" color="#651c04"/>
<path d="m7819 5665l-74 7-41-13z" color="#3e0401"/>
<path d="m9781 9316l30 18-96 91z" color="#13546a"/>
<path d="m8200 10259l112 8-141 16z" color="#2d2f74"/>
<path d="m8118 5676l-72-8 31-14z" color="#3e0401"/>
<path d="m5629 8434l57 111 27 133z" color="#38b058"/>
<path d="m9233 9854l132-68-88 78z" color="#254281"/>
<path d="m8648 5793l37-13 78 40z" color="#470700"/>
<path d="m10197 7937l37-113 10 138z" color="#556e18"/>
<path d="m9521 9609l120-82-80 96z" color="#1c4976"/>
<path d="m7554 10251l180 37-144-12z" color="#30337e"/>
<path d="m8648 5793l-67-35 104 22z" color="#460700"/>
<path d="m8827 5863l-64-43 111 36z" color="#4a0900"/>
<path d="m10046 7153l-1-104 56 127z" color="#724c17"/>
<path d="m5600 8161l67 249-57-112z" color="#58ac38"/>
<path d="m8827 5863l47-7 72 49z" color="#4c0900"/>
<path d="m10206 8076l38 25-38 113z" color="#47721d"/>
<path d="m5610 7633l19 113-19 138z" color="#7e8d20"/>
<path d="m9400 6221l55 8 54 77z" color="#601803"/>
<path d="m5676 7363l-19 245-19-111z" color="#857620"/>
<path d="m7745 5672l-71 10-58-11z" color="#3e0401"/>
<path d="m6733 5985l-170 127 56-65z" color="#560f01"/>
<path d="m9840 9202l102-97-62 117z" color="#0d5e5f"/>
<path d="m5750 8808l135 229-89-102z" color="#15aa86"/>
<path d="m8563 10178l82 5-139 33z" color="#2b3379"/>
<path d="m9233 9854l44 10-124 64z" color="#264182"/>
<path d="m10102 7283l46 23 1 109z" color="#6f571a"/>
<path d="m8474 5745l29-17 78 30z" color="#430601"/>
<path d="m7212 5776l-181 66 71-41z" color="#470700"/>
<path d="m8188 5688l-70-12 50-12z" color="#3e0401"/>
<path d="m7046 10123l147 39 63 39z" color="#354198"/>
<path d="m6242 6359l-42 83-96 100z" color="#672005"/>
<path d="m7401 10230l153 21 36 25z" color="#313684"/>
<path d="m8253 5703l1-24 81 18z" color="#3f0401"/>
<path d="m8039 10269l132 14-145 9z" color="#2e3076"/>
<path d="m6915 5881l-63 51-119 53z" color="#4f0b01"/>
<path d="m6619 6047l-56 65-113 75z" color="#591201"/>
<path d="m5861 6878l-17 101-65 125z" color="#794714"/>
<path d="m6614 9898l135 61 80 63z" color="#3859b8"/>
<path d="m7455 5708l-70 25-101 10z" color="#420501"/>
<path d="m7713 10265l167 29-146-6z" color="#2f327b"/>
<path d="m8200 10259l157-18-45 26z" color="#2c3176"/>
<path d="m7193 10162l208 68-145-29z" color="#343d91"/>
<path d="m8474 5745l-66-25 95 8z" color="#420501"/>
<path d="m7607 5695l-152 13 77-20z" color="#3f0401"/>
<path d="m7876 10271l150 21-146 2z" color="#2e3178"/>
<path d="m8563 10178l153-35-71 40z" color="#2b357b"/>
<path d="m5997 9272l179 198-111-88z" color="#2090b7"/>
<path d="m6015 6649l-97 210 16-98z" color="#6f330c"/>
<path d="m9521 9609l40 14-115 78z" color="#1e4878"/>
<path d="m10104 8597l74-110-28 134z" color="#247038"/>
<path d="m7385 5733l-173 43 72-33z" color="#430601"/>
<path d="m7031 5842l-179 90 63-51z" color="#4c0900"/>
<path d="m10076 8729l36 23-72 106z" color="#146c47"/>
<path d="m9002 5957l-56-52 115 51z" color="#4f0b01"/>
<path d="m6829 10022l144 50 73 51z" color="#364ca8"/>
<path d="m9736 6585l58 15 32 93z" color="#6c2a09"/>
<path d="m9285 6144l-46-66 111 72z" color="#591201"/>
<path d="m6531 9823l218 136-135-61z" color="#3860be"/>
<path d="m9640 6482l-29-84 95 98z" color="#672005"/>
<path d="m9009 9985l144-57-84 65z" color="#273f82"/>
<path d="m7674 5682l-67 13-75-7z" color="#3e0401"/>
<path d="m6065 9382l111 88 71 101z" color="#2788be"/>
<path d="m8253 5703l-65-15 66-9z" color="#3e0401"/>
<path d="m10178 7799l37-112 19 137z" color="#5e6918"/>
<path d="m5796 8935l89 102 52 120z" color="#12a590"/>
<path d="m6450 6187l-147 160 40-78z" color="#601803"/>
<path d="m8783 10093l72 7-139 43z" color="#2a387f"/>
<path d="m9009 9985l60 8-135 54z" color="#283d81"/>
<path d="m9981 7027l-1-101 65 123z" color="#724313"/>
<path d="m5610 8298l57 112 19 135z" color="#4bad43"/>
<path d="m8783 10093l151-46-79 53z" color="#293a80"/>
<path d="m9002 5957l59-1 62 57z" color="#510c01"/>
<path d="m7554 10251l159 14 21 23z" color="#303581"/>
<path d="m8039 10269l161-10-29 24z" color="#2d3178"/>
<path d="m5600 8022l58 251-58-112z" color="#67a42a"/>
<path d="m6325 9665l128 75 78 83z" color="#356fc6"/>
<path d="m6247 9571l206 169-128-75z" color="#3177c6"/>
<path d="m5723 7232l-28 241-19-110z" color="#84671f"/>
<path d="m9840 9202l40 20-99 94z" color="#0e5b62"/>
<path d="m5638 7497l19 111-28 138z" color="#827e20"/>
<path d="m8312 5721l23-24 73 23z" color="#3f0401"/>
<path d="m10197 7937l47 25-38 114z" color="#526f18"/>
<path d="m10046 7153l55 23 1 107z" color="#714f18"/>
<path d="m6973 10072l220 90-147-39z" color="#3548a1"/>
<path d="m7957 5688l-62-26 76 1z" color="#3c0301"/>
<path d="m7900 5687l-81-22 76-3z" color="#3c0301"/>
<path d="m6749 9959l224 113-144-50z" color="#3754b1"/>
<path d="m5934 6761l-16 98-74 120z" color="#723a0f"/>
<path d="m6343 6269l-40 78-103 95z" color="#631b03"/>
<path d="m9285 6144l65 6 50 71z" color="#5b1302"/>
<path d="m7713 10265l163 6 4 23z" color="#2f347e"/>
<path d="m7212 5776l-62 36-119 30z" color="#460700"/>
<path d="m7876 10271l163-2-13 23z" color="#2e327b"/>
<path d="m8013 5691l-42-28 75 5z" color="#3c0301"/>
<path d="m9590 9510l125-85-74 102z" color="#164f6f"/>
<path d="m7545 5712l-160 21 70-25z" color="#3f0401"/>
<path d="m7843 5689l-98-17 74-7z" color="#3c0301"/>
<path d="m5713 8678l128 234-91-104z" color="#20ac72"/>
<path d="m8399 10206l107 10-149 25z" color="#2c347b"/>
<path d="m6852 5932l-170 113 51-60z" color="#510c01"/>
<path d="m6104 6542l-105 201 16-94z" color="#6c2a09"/>
<path d="m9891 9084l105-100-54 121z" color="#0b6457"/>
<path d="m7607 5695l-62 17-90-4z" color="#3e0401"/>
<path d="m6733 5985l-51 60-119 67z" color="#540e01"/>
<path d="m8704 5830l-56-37 115 27z" color="#460700"/>
<path d="m9307 9773l139-72-81 85z" color="#21467d"/>
<path d="m7385 5733l-61 27-112 16z" color="#420501"/>
<path d="m8312 5721l-59-18 82-6z" color="#3e0401"/>
<path d="m8531 5774l50-16 67 35z" color="#430601"/>
<path d="m8704 5830l59-10 64 43z" color="#470700"/>
<path d="m10122 8462l75-110-19 135z" color="#32722c"/>
<path d="m8068 5698l-22-30 72 8z" color="#3c0301"/>
<path d="m7351 10194l203 57-153-21z" color="#323c8d"/>
<path d="m9640 6482l66 14 30 89z" color="#692306"/>
<path d="m7193 10162l158 32 50 36z" color="#334094"/>
<path d="m7031 5842l-56 45-123 45z" color="#4a0900"/>
<path d="m8531 5774l-57-29 107 13z" color="#420501"/>
<path d="m10104 8597l46 24-74 108z" color="#1f6f3c"/>
<path d="m7787 5694l-113-12 71-10z" color="#3c0301"/>
<path d="m9536 6385l-27-79 102 92z" color="#631b03"/>
<path d="m10150 7661l37-111 28 137z" color="#656319"/>
<path d="m9165 6074l-42-61 116 65z" color="#540e01"/>
<path d="m9908 6905l-1-98 73 119z" color="#71390f"/>
<path d="m8399 10206l164-28-57 38z" color="#2b367d"/>
<path d="m5937 9157l175 207-115-92z" color="#1799a5"/>
<path d="m7324 5760l-174 52 62-36z" color="#430601"/>
<path d="m6563 6112l-150 148 37-73z" color="#5b1302"/>
<path d="m8876 5909l-49-46 119 42z" color="#4a0900"/>
<path d="m5600 8161l58 112 9 137z" color="#5ca732"/>
<path d="m7150 5812l-175 75 56-45z" color="#470700"/>
<path d="m9307 9773l58 13-132 68z" color="#23457e"/>
<path d="m8120 5706l-2-30 70 12z" color="#3c0301"/>
<path d="m9590 9510l51 17-120 82z" color="#184c71"/>
<path d="m5779 7104l-38 235-18-107z" color="#7f591b"/>
<path d="m7957 5688l-57-1-5-25z" color="#3b0301"/>
<path d="m9981 7027l64 22 1 104z" color="#724615"/>
<path d="m5610 7884l48 251-58-113z" color="#719a22"/>
<path d="m5676 7363l19 110-38 135z" color="#837020"/>
<path d="m5750 8808l91 104 44 125z" color="#18a97e"/>
<path d="m10178 7799l56 25-37 113z" color="#5b6b18"/>
<path d="m7900 5687l-57 2-24-24z" color="#3b0301"/>
<path d="m8365 5742l43-22 66 25z" color="#3f0401"/>
<path d="m8013 5691l-56-3 14-25z" color="#3b0301"/>
<path d="m7733 5702l-126-7 67-13z" color="#3c0301"/>
<path d="m6015 6649l-16 94-81 116z" color="#6e300b"/>
<path d="m8876 5909l70-4 56 52z" color="#4c0900"/>
<path d="m6531 9823l144 64 74 72z" color="#3662bd"/>
<path d="m5997 9272l115 92 64 106z" color="#1d91af"/>
<path d="m6450 6187l-37 73-110 87z" color="#5e1602"/>
<path d="m7843 5689l-56 5-42-22z" color="#3b0301"/>
<path d="m8228 10226l129 15-157 18z" color="#2d357d"/>
<path d="m8068 5698l-55-7 33-23z" color="#3b0301"/>
<path d="m9165 6074l74 4 46 66z" color="#560f01"/>
<path d="m7545 5712l-57 19-103 2z" color="#3e0401"/>
<path d="m7488 5731l-164 29 61-27z" color="#3f0401"/>
<path d="m6200 6442l-111 190 15-90z" color="#692306"/>
<path d="m8365 5742l-53-21 96-1z" color="#3e0401"/>
<path d="m7519 10218l194 47-159-14z" color="#313a89"/>
<path d="m9891 9084l51 21-102 97z" color="#0b625a"/>
<path d="m6973 10072l159 42 61 48z" color="#354aa3"/>
<path d="m6453 9740l222 147-144-64z" color="#3569c1"/>
<path d="m8617 10132l99 11-153 35z" color="#2a3980"/>
<path d="m9536 6385l75 13 29 84z" color="#651c04"/>
<path d="m5686 8545l120 239-93-106z" color="#30ac5d"/>
<path d="m8169 5718l19-30 65 15z" color="#3c0301"/>
<path d="m9079 9915l154-61-80 74z" color="#254281"/>
<path d="m7787 5694l-54 8-59-20z" color="#3b0301"/>
<path d="m6852 5932l-46 53-124 60z" color="#4f0b01"/>
<path d="m10131 8325l75-111-9 138z" color="#3f7222"/>
<path d="m6975 5887l-169 98 46-53z" color="#4c0900"/>
<path d="m6749 9959l155 53 69 60z" color="#3656b2"/>
<path d="m8120 5706l-52-8 50-22z" color="#3b0301"/>
<path d="m9425 6295l-25-74 109 85z" color="#5e1602"/>
<path d="m6176 9470l205 179-134-78z" color="#2981be"/>
<path d="m7683 5712l-138 0 62-17z" color="#3c0301"/>
<path d="m9826 6787l0-94 81 114z" color="#6e300b"/>
<path d="m10113 7524l36-109 38 135z" color="#6c5c1a"/>
<path d="m9933 8960l107-102-44 126z" color="#0f694e"/>
<path d="m6247 9571l134 78 72 91z" color="#2e79c2"/>
<path d="m8617 10132l166-39-67 50z" color="#2a3b81"/>
<path d="m7351 10194l168 24 35 33z" color="#323e90"/>
<path d="m7132 10114l219 80-158-32z" color="#34469d"/>
<path d="m10122 8462l56 25-74 110z" color="#2d7130"/>
<path d="m9652 9405l129-89-66 109z" color="#115668"/>
<path d="m9079 9915l74 13-144 57z" color="#264282"/>
<path d="m8051 10237l149 22-161 10z" color="#2e3680"/>
<path d="m7324 5760l-51 30-123 22z" color="#420501"/>
<path d="m8228 10226l171-20-42 35z" color="#2c377f"/>
<path d="m9039 6011l-37-54 121 56z" color="#4f0b01"/>
<path d="m6682 6045l-153 134 34-67z" color="#560f01"/>
<path d="m5844 6979l-47 229-18-104z" color="#794a16"/>
<path d="m7694 10233l182 38-163-6z" color="#303986"/>
<path d="m9908 6905l72 21 1 101z" color="#713c10"/>
<path d="m5723 7232l18 107-46 134z" color="#81611d"/>
<path d="m8846 10035l88 12-151 46z" color="#283e82"/>
<path d="m5600 8022l58 113 0 138z" color="#699f26"/>
<path d="m8846 10035l163-50-75 62z" color="#283f83"/>
<path d="m7150 5812l-48 38-127 37z" color="#460700"/>
<path d="m8577 5805l71-12 56 37z" color="#430601"/>
<path d="m8577 5805l-46-31 117 19z" color="#420501"/>
<path d="m5629 7746l38 250-57-112z" color="#788d1f"/>
<path d="m6104 6542l-15 90-90 111z" color="#6b2808"/>
<path d="m10150 7661l65 26-37 112z" color="#636518"/>
<path d="m7733 5702l-50 10-76-17z" color="#3b0301"/>
<path d="m7872 10239l167 30-163 2z" color="#2f3783"/>
<path d="m8169 5718l-49-12 68-18z" color="#3b0301"/>
<path d="m5885 9037l171 214-119-94z" color="#12a092"/>
<path d="m8214 5731l39-28 59 18z" color="#3c0301"/>
<path d="m8746 5870l-42-40 123 33z" color="#460700"/>
<path d="m9375 9684l146-75-75 92z" color="#1c4975"/>
<path d="m6563 6112l-34 67-116 81z" color="#591201"/>
<path d="m8411 5765l63-20 57 29z" color="#3f0401"/>
<path d="m6675 9887l229 125-155-53z" color="#365db8"/>
<path d="m6303 6347l-117 179 14-84z" color="#651c04"/>
<path d="m5713 8678l93 106 35 128z" color="#25aa6a"/>
<path d="m6904 10012l228 102-159-42z" color="#3551ab"/>
<path d="m7488 5731l-49 22-115 7z" color="#3e0401"/>
<path d="m9039 6011l84 2 42 61z" color="#510c01"/>
<path d="m7273 5790l-171 60 48-38z" color="#430601"/>
<path d="m7636 5725l-148 6 57-19z" color="#3c0301"/>
<path d="m8746 5870l81-7 49 46z" color="#470700"/>
<path d="m8411 5765l-46-23 109 3z" color="#3e0401"/>
<path d="m9425 6295l84 11 27 79z" color="#601803"/>
<path d="m7519 10218l175 15 19 32z" color="#313c8c"/>
<path d="m7439 5753l-166 37 51-30z" color="#3f0401"/>
<path d="m9652 9405l63 20-125 85z" color="#13546a"/>
<path d="m9737 6674l-1-89 90 108z" color="#6b2808"/>
<path d="m8051 10237l177-11-28 33z" color="#2d3882"/>
<path d="m9308 6211l-23-67 115 77z" color="#591201"/>
<path d="m10067 7390l35-107 47 132z" color="#705419"/>
<path d="m7683 5712l-47 13-91-13z" color="#3b0301"/>
<path d="m5937 9157l119 94 56 113z" color="#15999c"/>
<path d="m10131 8187l75-111 0 138z" color="#4b711b"/>
<path d="m5667 8410l112 243-93-108z" color="#43aa48"/>
<path d="m8214 5731l-45-13 84-15z" color="#3b0301"/>
<path d="m9375 9684l71 17-139 72z" color="#1e4878"/>
<path d="m9933 8960l63 24-105 100z" color="#0d6751"/>
<path d="m6975 5887l-41 47-128 51z" color="#4a0900"/>
<path d="m9826 6787l81 20 1 98z" color="#6f330c"/>
<path d="m7943 5722l-43-35 57 1z" color="#3a0301"/>
<path d="m5918 6859l-57 221-17-101z" color="#723d10"/>
<path d="m7905 5722l-62-33 57-2z" color="#3a0301"/>
<path d="m7102 5850l-168 84 41-47z" color="#470700"/>
<path d="m8440 10162l123 16-164 28z" color="#2b3a82"/>
<path d="m5779 7104l18 104-56 131z" color="#7b5319"/>
<path d="m10131 8325l66 27-75 110z" color="#3b7225"/>
<path d="m7981 5724l-24-36 56 3z" color="#3a0301"/>
<path d="m7694 10233l178 6 4 32z" color="#2f3b88"/>
<path d="m6200 6442l-14 84-97 106z" color="#672005"/>
<path d="m7872 10239l179-2-12 32z" color="#2e3985"/>
<path d="m6806 5985l-155 121 31-61z" color="#510c01"/>
<path d="m9968 8833l108-104-36 129z" color="#176d44"/>
<path d="m7866 5723l-79-29 56-5z" color="#3a0301"/>
<path d="m10113 7524l74 26-37 111z" color="#6a5e1a"/>
<path d="m5657 7608l28 249-56-111z" color="#7d801f"/>
<path d="m5610 7884l57 112-9 139z" color="#729420"/>
<path d="m8909 5957l-33-48 126 48z" color="#4a0900"/>
<path d="m8254 5747l58-26 53 21z" color="#3c0301"/>
<path d="m7132 10114l172 35 47 45z" color="#33489e"/>
<path d="m6453 9740l152 68 70 79z" color="#336bbf"/>
<path d="m7304 10149l215 69-168-24z" color="#324498"/>
<path d="m8017 5728l-4-37 55 7z" color="#3a0301"/>
<path d="m6413 6260l-123 167 13-80z" color="#601803"/>
<path d="m7829 5726l-96-24 54-8z" color="#3a0301"/>
<path d="m6682 6045l-31 61-122 73z" color="#540e01"/>
<path d="m7593 5739l-154 14 49-22z" color="#3c0301"/>
<path d="m6112 9364l204 188-140-82z" color="#1f8ab0"/>
<path d="m8440 10162l177-30-54 46z" color="#2b3c83"/>
<path d="m9706 9294l134-92-59 114z" color="#0d5e5f"/>
<path d="m6381 9649l224 159-152-68z" color="#3073bf"/>
<path d="m7636 5725l-43 14-105-8z" color="#3b0301"/>
<path d="m9308 6211l92 10 25 74z" color="#5b1302"/>
<path d="m7273 5790l-41 33-130 27z" color="#420501"/>
<path d="m6176 9470l140 82 65 97z" color="#2583b7"/>
<path d="m8254 5747l-40-16 98-10z" color="#3b0301"/>
<path d="m8052 5734l16-36 52 8z" color="#3a0301"/>
<path d="m8909 5957l93 0 37 54z" color="#4c0900"/>
<path d="m9640 6566l0-84 96 103z" color="#672005"/>
<path d="m7439 5753l-41 25-125 12z" color="#3e0401"/>
<path d="m5686 8545l93 108 27 131z" color="#36a954"/>
<path d="m8448 5790l83-16 46 31z" color="#3f0401"/>
<path d="m10012 7257l34-104 56 130z" color="#724c17"/>
<path d="m9144 9838l163-65-74 81z" color="#21467d"/>
<path d="m7793 5731l-110-19 50-10z" color="#3a0301"/>
<path d="m8613 5839l-36-34 127 25z" color="#420501"/>
<path d="m9186 6135l-21-61 120 70z" color="#540e01"/>
<path d="m5841 8912l166 222-122-97z" color="#14a381"/>
<path d="m8448 5790l-37-25 120 9z" color="#3e0401"/>
<path d="m9737 6674l89 19 0 94z" color="#6c2a09"/>
<path d="m8613 5839l91-9 42 40z" color="#430601"/>
<path d="m5999 6743l-65 213-16-97z" color="#6f330c"/>
<path d="m7943 5722l-38 0-5-35z" color="#390201"/>
<path d="m10122 8048l75-111 9 139z" color="#556e18"/>
<path d="m6904 10012l171 46 57 56z" color="#3453ac"/>
<path d="m5844 6979l17 101-64 128z" color="#754514"/>
<path d="m6675 9887l164 57 65 68z" color="#355eb7"/>
<path d="m7905 5722l-39 1-23-34z" color="#390201"/>
<path d="m7981 5724l-38-2 14-34z" color="#390201"/>
<path d="m6303 6347l-13 80-104 99z" color="#631b03"/>
<path d="m9144 9838l89 16-154 61z" color="#23457f"/>
<path d="m7398 5778l-166 45 41-33z" color="#3f0401"/>
<path d="m5658 8273l103 245-94-108z" color="#54a535"/>
<path d="m8085 5742l35-36 49 12z" color="#3a0301"/>
<path d="m8668 10077l115 16-166 39z" color="#293f84"/>
<path d="m7866 5723l-37 3-42-32z" color="#390201"/>
<path d="m8254 10183l145 23-171 20z" color="#2c3b85"/>
<path d="m7102 5850l-35 41-133 43z" color="#460700"/>
<path d="m8017 5728l-36-4 32-33z" color="#390201"/>
<path d="m10067 7390l82 25-36 109z" color="#6f571a"/>
<path d="m9437 9589l153-79-69 99z" color="#164f6e"/>
<path d="m8288 5764l77-22 46 23z" color="#3c0301"/>
<path d="m6934 5934l-156 106 28-55z" color="#4c0900"/>
<path d="m5695 7473l18 245-56-110z" color="#7f711f"/>
<path d="m7759 5738l-123-13 47-13z" color="#3a0301"/>
<path d="m10131 8187l75 27-75 111z" color="#47721d"/>
<path d="m5629 7746l56 111-18 139z" color="#78871f"/>
<path d="m6529 6179l-128 155 12-74z" color="#5b1302"/>
<path d="m7486 10174l208 59-175-15z" color="#314294"/>
<path d="m8668 10077l178-42-63 58z" color="#284084"/>
<path d="m7232 5823l-165 68 35-41z" color="#430601"/>
<path d="m9968 8833l72 25-107 102z" color="#146c47"/>
<path d="m5885 9037l122 97 49 117z" color="#129f8a"/>
<path d="m8775 5911l-29-41 130 39z" color="#460700"/>
<path d="m9706 9294l75 22-129 89z" color="#0e5b62"/>
<path d="m8906 9968l173-53-70 70z" color="#254382"/>
<path d="m7829 5726l-36 5-60-29z" color="#390201"/>
<path d="m6806 5985l-28 55-127 66z" color="#4f0b01"/>
<path d="m8052 5734l-35-6 51-30z" color="#390201"/>
<path d="m7075 10058l229 91-172-35z" color="#334ea6"/>
<path d="m7593 5739l-37 17-117-3z" color="#3b0301"/>
<path d="m8906 9968l103 17-163 50z" color="#264283"/>
<path d="m9994 8702l110-105-28 132z" color="#247038"/>
<path d="m7556 5756l-158 22 41-25z" color="#3c0301"/>
<path d="m8288 5764l-34-17 111-5z" color="#3b0301"/>
<path d="m9186 6135l99 9 23 67z" color="#560f01"/>
<path d="m9536 6465l0-80 104 97z" color="#631b03"/>
<path d="m6605 9808l234 136-164-57z" color="#3365ba"/>
<path d="m7304 10149l182 25 33 44z" color="#324699"/>
<path d="m8115 5751l54-33 45 13z" color="#3a0301"/>
<path d="m9948 7128l33-101 65 126z" color="#724313"/>
<path d="m8775 5911l101-2 33 48z" color="#470700"/>
<path d="m9058 6067l-19-56 126 63z" color="#4f0b01"/>
<path d="m8254 10183l186-21-41 44z" color="#2b3d86"/>
<path d="m9640 6566l96 19 1 89z" color="#692306"/>
<path d="m7793 5731l-34 7-76-26z" color="#390201"/>
<path d="m8085 5742l-33-8 68-28z" color="#390201"/>
<path d="m6089 6632l-74 204-16-93z" color="#6c2a09"/>
<path d="m9437 9589l84 20-146 75z" color="#184c70"/>
<path d="m7728 5746l-135-7 43-14z" color="#3a0301"/>
<path d="m8062 10195l166 31-177 11z" color="#2d3d88"/>
<path d="m6839 9944l236 114-171-46z" color="#345ab2"/>
<path d="m5918 6859l16 97-73 124z" color="#71390f"/>
<path d="m6413 6260l-12 74-111 93z" color="#5e1602"/>
<path d="m7675 10191l197 48-178-6z" color="#304090"/>
<path d="m5667 8410l94 108 18 135z" color="#48a640"/>
<path d="m10104 7908l74-109 19 138z" color="#5e6918"/>
<path d="m7398 5778l-33 26-133 19z" color="#3e0401"/>
<path d="m9754 9177l137-93-51 118z" color="#0b6457"/>
<path d="m7869 10198l182 39-179 2z" color="#2e3e8c"/>
<path d="m10012 7257l90 26-35 107z" color="#714f18"/>
<path d="m8477 5817l-29-27 129 15z" color="#3e0401"/>
<path d="m6056 9251l201 198-145-85z" color="#16939f"/>
<path d="m6651 6106l-133 141 11-68z" color="#560f01"/>
<path d="m5741 7339l9 241-55-107z" color="#7e631d"/>
<path d="m8477 5817l100-12 36 34z" color="#3f0401"/>
<path d="m7759 5738l-31 8-92-21z" color="#390201"/>
<path d="m8115 5751l-30-9 84-24z" color="#390201"/>
<path d="m7067 5891l-158 92 25-49z" color="#470700"/>
<path d="m5806 8784l159 227-124-99z" color="#1fa56d"/>
<path d="m5658 8135l94 246-94-108z" color="#629d28"/>
<path d="m8142 5761l72-30 40 16z" color="#3a0301"/>
<path d="m8317 5783l94-18 37 25z" color="#3c0301"/>
<path d="m6381 9649l160 72 64 87z" color="#2d75bb"/>
<path d="m5657 7608l56 110-28 139z" color="#7c791e"/>
<path d="m7232 5823l-30 34-135 34z" color="#420501"/>
<path d="m9426 6369l-1-74 111 90z" color="#5e1602"/>
<path d="m6934 5934l-25 49-131 57z" color="#4a0900"/>
<path d="m10122 8048l84 28-75 111z" color="#526f18"/>
<path d="m9058 6067l107 7 21 61z" color="#510c01"/>
<path d="m7556 5756l-31 18-127 4z" color="#3b0301"/>
<path d="m6112 9364l145 85 59 103z" color="#1c8ba8"/>
<path d="m6316 9552l225 169-160-72z" color="#287cb7"/>
<path d="m8317 5783l-29-19 123 1z" color="#3b0301"/>
<path d="m7700 5756l-144 0 37-17z" color="#3a0301"/>
<path d="m7486 10174l189 17 19 42z" color="#304495"/>
<path d="m8637 5874l-24-35 133 31z" color="#420501"/>
<path d="m9876 7002l32-97 73 122z" color="#71390f"/>
<path d="m7365 5804l-163 53 30-34z" color="#3f0401"/>
<path d="m7525 5774l-160 30 33-26z" color="#3c0301"/>
<path d="m9536 6465l104 17 0 84z" color="#651c04"/>
<path d="m8062 10195l192-12-26 43z" color="#2c3e89"/>
<path d="m6186 6526l-82 195-15-89z" color="#692306"/>
<path d="m8926 6006l-17-49 130 54z" color="#4a0900"/>
<path d="m9994 8702l82 27-108 104z" color="#1f6f3c"/>
<path d="m6529 6179l-11 68-117 87z" color="#591201"/>
<path d="m8478 10109l139 23-177 30z" color="#2a4087"/>
<path d="m10011 8568l111-106-18 135z" color="#32722c"/>
<path d="m7728 5746l-28 10-107-17z" color="#390201"/>
<path d="m5999 6743l16 93-81 120z" color="#6e300b"/>
<path d="m8142 5761l-27-10 99-20z" color="#390201"/>
<path d="m8637 5874l109-4 29 41z" color="#430601"/>
<path d="m9205 9752l170-68-68 89z" color="#1c4975"/>
<path d="m7075 10058l184 37 45 54z" color="#3251a6"/>
<path d="m5841 8912l124 99 42 123z" color="#17a279"/>
<path d="m7929 5765l-24-43 38 0z" color="#380201"/>
<path d="m7910 5765l-44-42 39-1z" color="#380201"/>
<path d="m7948 5767l-5-45 38 2z" color="#380201"/>
<path d="m7890 5766l-61-40 37-3z" color="#380201"/>
<path d="m7675 10191l194 7 3 41z" color="#2f4291"/>
<path d="m7259 10095l227 79-182-25z" color="#324ca0"/>
<path d="m9494 9487l158-82-62 105z" color="#115668"/>
<path d="m6778 6040l-138 128 11-62z" color="#510c01"/>
<path d="m8165 5773l89-26 34 17z" color="#3a0301"/>
<path d="m9754 9177l86 25-134 92z" color="#0b625a"/>
<path d="m9948 7128l98 25-34 104z" color="#724615"/>
<path d="m7869 10198l193-3-11 42z" color="#2e408d"/>
<path d="m10077 7769l73-108 28 138z" color="#656319"/>
<path d="m7966 5769l15-45 36 4z" color="#380201"/>
<path d="m8478 10109l190-32-51 55z" color="#294187"/>
<path d="m5797 7208l-2 237-54-106z" color="#79551a"/>
<path d="m7872 5767l-79-36 36-5z" color="#380201"/>
<path d="m9309 6280l-1-69 117 84z" color="#591201"/>
<path d="m9205 9752l102 21-163 65z" color="#1e4979"/>
<path d="m7202 5857l-157 76 22-42z" color="#430601"/>
<path d="m8926 6006l113 5 19 56z" color="#4c0900"/>
<path d="m7675 5767l-150 7 31-18z" color="#3a0301"/>
<path d="m5658 8273l94 108 9 137z" color="#58a02f"/>
<path d="m6605 9808l173 60 61 76z" color="#3168b8"/>
<path d="m7067 5891l-22 42-136 50z" color="#460700"/>
<path d="m7984 5772l33-44 35 6z" color="#380201"/>
<path d="m5695 7473l55 107-37 138z" color="#7d6b1e"/>
<path d="m9426 6369l110 16 0 80z" color="#601803"/>
<path d="m9796 6880l30-93 82 118z" color="#6e300b"/>
<path d="m7700 5756l-25 11-119-11z" color="#390201"/>
<path d="m7854 5770l-95-32 34-7z" color="#380201"/>
<path d="m8165 5773l-23-12 112-14z" color="#390201"/>
<path d="m5667 7996l85 247-94-108z" color="#6c9320"/>
<path d="m6290 6427l-90 184-14-85z" color="#651c04"/>
<path d="m7525 5774l-24 20-136 10z" color="#3b0301"/>
<path d="m6839 9944l182 49 54 65z" color="#335bb1"/>
<path d="m10104 7908l93 29-75 111z" color="#5b6b18"/>
<path d="m7365 5804l-24 27-139 26z" color="#3e0401"/>
<path d="m8338 5804l110-14 29 27z" color="#3c0301"/>
<path d="m6651 6106l-11 62-122 79z" color="#540e01"/>
<path d="m8338 5804l-21-21 131 7z" color="#3b0301"/>
<path d="m8789 5954l-14-43 134 46z" color="#460700"/>
<path d="m6089 6632l15 89-89 115z" color="#6b2808"/>
<path d="m9793 9056l140-96-42 124z" color="#0f694e"/>
<path d="m8000 5775l52-41 33 8z" color="#380201"/>
<path d="m8496 5845l-19-28 136 22z" color="#3e0401"/>
<path d="m8717 10013l129 22-178 42z" color="#274385"/>
<path d="m5779 8653l153 232-126-101z" color="#2ea559"/>
<path d="m8962 9894l182-56-65 77z" color="#22477e"/>
<path d="m7837 5773l-109-27 31-8z" color="#380201"/>
<path d="m9494 9487l96 23-153 79z" color="#13546a"/>
<path d="m6541 9721l237 147-173-60z" color="#2e6fb8"/>
<path d="m8496 5845l117-6 24 35z" color="#3f0401"/>
<path d="m8717 10013l189-45-60 67z" color="#264484"/>
<path d="m7501 5794l-160 37 24-27z" color="#3c0301"/>
<path d="m8962 9894l117 21-173 53z" color="#234680"/>
<path d="m6909 5983l-141 113 10-56z" color="#4c0900"/>
<path d="m8183 5786l105-22 29 19z" color="#3a0301"/>
<path d="m6007 9134l198 205-149-88z" color="#11998c"/>
<path d="m7929 5765l-19 0-5-43z" color="#380201"/>
<path d="m9876 7002l105 25-33 101z" color="#713c10"/>
<path d="m7948 5767l-19-2 14-43z" color="#380201"/>
<path d="m7910 5765l-20 1-24-43z" color="#380201"/>
<path d="m9186 6198l0-63 122 76z" color="#540e01"/>
<path d="m8015 5780l70-38 30 9z" color="#380201"/>
<path d="m8279 10132l161 30-186 21z" color="#2b418a"/>
<path d="m7966 5769l-18-2 33-43z" color="#380201"/>
<path d="m7890 5766l-18 1-43-41z" color="#380201"/>
<path d="m10020 8431l111-106-9 137z" color="#3f7222"/>
<path d="m7021 9993l238 102-184-37z" color="#3257ac"/>
<path d="m5861 7080l-11 231-53-103z" color="#744715"/>
<path d="m8789 5954l120 3 17 49z" color="#470700"/>
<path d="m10011 8568l93 29-110 105z" color="#2d7130"/>
<path d="m10041 7630l72-106 37 137z" color="#6c5c1a"/>
<path d="m7675 5767l-21 13-129-6z" color="#390201"/>
<path d="m7821 5778l-121-22 28-10z" color="#380201"/>
<path d="m7654 5780l-153 14 24-20z" color="#3a0301"/>
<path d="m9309 6280l116 15 1 74z" color="#5b1302"/>
<path d="m8183 5786l-18-13 123-9z" color="#390201"/>
<path d="m7984 5772l-18-3 51-41z" color="#380201"/>
<path d="m7455 10122l220 69-189-17z" color="#30499b"/>
<path d="m7872 5767l-18 3-61-39z" color="#380201"/>
<path d="m9708 6763l29-89 89 113z" color="#6b2808"/>
<path d="m6056 9251l149 88 52 110z" color="#149396"/>
<path d="m6401 6334l-98 172-13-79z" color="#601803"/>
<path d="m7202 5857l-17 35-140 41z" color="#420501"/>
<path d="m7341 5831l-156 61 17-35z" color="#3f0401"/>
<path d="m6778 6040l-10 56-128 72z" color="#4f0b01"/>
<path d="m5741 7339l54 106-45 135z" color="#7b5c1c"/>
<path d="m6778 9868l243 125-182-49z" color="#3162b4"/>
<path d="m6186 6526l14 85-96 110z" color="#672005"/>
<path d="m6316 9552l166 75 59 94z" color="#247db0"/>
<path d="m8000 5775l-16-3 68-38z" color="#380201"/>
<path d="m7854 5770l-17 3-78-35z" color="#380201"/>
<path d="m7259 10095l196 27 31 52z" color="#314ea1"/>
<path d="m8028 5785l87-34 27 10z" color="#380201"/>
<path d="m8649 5909l-12-35 138 37z" color="#420501"/>
<path d="m5806 8784l126 101 33 126z" color="#23a365"/>
<path d="m6257 9449l225 178-166-75z" color="#1e85a9"/>
<path d="m5658 8135l94 108 0 138z" color="#649824"/>
<path d="m7807 5783l-132-16 25-11z" color="#380201"/>
<path d="m5685 7857l76 247-94-108z" color="#73871e"/>
<path d="m10077 7769l101 30-74 109z" color="#636518"/>
<path d="m8279 10132l199-23-38 53z" color="#2a438a"/>
<path d="m7045 5933l-144 99 8-49z" color="#470700"/>
<path d="m7501 5794l-18 21-142 16z" color="#3b0301"/>
<path d="m9059 6123l-1-56 128 68z" color="#4f0b01"/>
<path d="m8015 5780l-15-5 85-33z" color="#380201"/>
<path d="m7837 5773l-16 5-93-32z" color="#380201"/>
<path d="m9793 9056l98 28-137 93z" color="#0d6751"/>
<path d="m8353 5825l-15-21 139 13z" color="#3b0301"/>
<path d="m9796 6880l112 25-32 97z" color="#6f330c"/>
<path d="m8198 5799l119-16 21 21z" color="#3a0301"/>
<path d="m8073 10145l181 38-192 12z" color="#2c438d"/>
<path d="m8353 5825l124-8 19 28z" color="#3c0301"/>
<path d="m9186 6198l122 13 1 69z" color="#560f01"/>
<path d="m8649 5909l126 2 14 43z" color="#430601"/>
<path d="m9543 9378l163-84-54 111z" color="#0d5e5f"/>
<path d="m7654 5780l-16 13-137 1z" color="#390201"/>
<path d="m7658 10140l211 58-194-7z" color="#2f4796"/>
<path d="m8040 5791l102-30 23 12z" color="#380201"/>
<path d="m6518 6247l-105 161-12-74z" color="#5b1302"/>
<path d="m8198 5799l-15-13 134-3z" color="#390201"/>
<path d="m9260 9659l177-70-62 95z" color="#164f6e"/>
<path d="m5934 6956l-22 224-51-100z" color="#713c10"/>
<path d="m9612 6650l28-84 97 108z" color="#672005"/>
<path d="m8028 5785l-13-5 100-29z" color="#380201"/>
<path d="m6909 5983l-8 49-133 64z" color="#4a0900"/>
<path d="m7821 5778l-14 5-107-27z" color="#380201"/>
<path d="m7638 5793l-155 22 18-21z" color="#3a0301"/>
<path d="m7795 5788l-141-8 21-13z" color="#380201"/>
<path d="m9996 7493l71-103 46 134z" color="#705419"/>
<path d="m7341 5831l-14 29-142 32z" color="#3e0401"/>
<path d="m7865 10147l197 48-193 3z" color="#2d4592"/>
<path d="m6290 6427l13 79-103 105z" color="#631b03"/>
<path d="m5761 8518l146 236-128-101z" color="#40a244"/>
<path d="m7483 5815l-156 45 14-29z" color="#3c0301"/>
<path d="m9825 8930l143-97-35 127z" color="#176d44"/>
<path d="m8506 5874l-10-29 141 29z" color="#3e0401"/>
<path d="m5797 7208l53 103-55 134z" color="#764f18"/>
<path d="m10020 8293l111-106 0 138z" color="#4b711b"/>
<path d="m8926 6056l0-50 132 61z" color="#4a0900"/>
<path d="m7185 5892l-147 84 7-43z" color="#430601"/>
<path d="m8040 5791l-12-6 114-24z" color="#380201"/>
<path d="m7807 5783l-12 5-120-21z" color="#380201"/>
<path d="m9260 9659l115 25-170 68z" color="#184c71"/>
<path d="m8049 5797l116-24 18 13z" color="#380201"/>
<path d="m10020 8431l102 31-111 106z" color="#3b7225"/>
<path d="m7455 10122l203 18 17 51z" color="#2f4b9b"/>
<path d="m9059 6123l127 12 0 63z" color="#510c01"/>
<path d="m9708 6763l118 24-30 93z" color="#6c2a09"/>
<path d="m8506 5874l131 0 12 35z" color="#3f0401"/>
<path d="m8514 10047l154 30-190 32z" color="#284588"/>
<path d="m6640 6168l-111 148-11-69z" color="#560f01"/>
<path d="m8073 10145l206-13-25 51z" color="#2b458e"/>
<path d="m5965 9011l195 213-153-90z" color="#149c7b"/>
<path d="m7021 9993l196 39 42 63z" color="#3158aa"/>
<path d="m7784 5794l-146-1 16-13z" color="#380201"/>
<path d="m10041 7630l109 31-73 108z" color="#6a5e1a"/>
<path d="m6541 9721l182 63 55 84z" color="#2b70b3"/>
<path d="m7045 5933l-7 43-137 56z" color="#460700"/>
<path d="m9510 6543l26-78 104 101z" color="#631b03"/>
<path d="m9543 9378l109 27-158 82z" color="#0e5b62"/>
<path d="m5713 7718l66 246-94-107z" color="#77791d"/>
<path d="m5667 7996l94 108-9 139z" color="#6d8d1e"/>
<path d="m7638 5793l-12 14-143 8z" color="#390201"/>
<path d="m6015 6836l-32 216-49-96z" color="#6f330c"/>
<path d="m8208 5814l130-10 15 21z" color="#3a0301"/>
<path d="m8208 5814l-10-15 140 5z" color="#390201"/>
<path d="m6401 6334l12 74-110 98z" color="#5e1602"/>
<path d="m8049 5797l-9-6 125-18z" color="#380201"/>
<path d="m7795 5788l-11 6-130-14z" color="#380201"/>
<path d="m7217 10032l238 90-196-27z" color="#3054a5"/>
<path d="m7483 5815l-11 21-145 24z" color="#3b0301"/>
<path d="m8789 5996l0-42 137 52z" color="#460700"/>
<path d="m8514 10047l203-34-49 64z" color="#274587"/>
<path d="m5779 8653l128 101 25 131z" color="#33a150"/>
<path d="m7915 5818l-5-53 19 0z" color="#370201"/>
<path d="m7915 5818l-25-52 20-1z" color="#370201"/>
<path d="m7915 5818l14-53 19 2z" color="#370201"/>
<path d="m8360 5846l-7-21 143 20z" color="#3b0301"/>
<path d="m7327 5860l-148 68 6-36z" color="#3f0401"/>
<path d="m7915 5818l-43-51 18-1z" color="#370201"/>
<path d="m9943 7359l69-102 55 133z" color="#724c17"/>
<path d="m7915 5818l33-51 18 2z" color="#370201"/>
<path d="m8057 5804l126-18 15 13z" color="#380201"/>
<path d="m6007 9134l153 90 45 115z" color="#119884"/>
<path d="m7626 5807l-154 29 11-21z" color="#3a0301"/>
<path d="m7658 10140l207 7 4 51z" color="#2e4996"/>
<path d="m6778 9868l192 51 51 74z" color="#2f64b1"/>
<path d="m8926 6056l132 11 1 56z" color="#4c0900"/>
<path d="m6482 9627l241 157-182-63z" color="#2677af"/>
<path d="m7915 5818l-61-48 18-3z" color="#370201"/>
<path d="m7865 10147l208-2-11 50z" color="#2c4792"/>
<path d="m9013 9811l192-59-61 86z" color="#1c4a77"/>
<path d="m7915 5818l51-49 18 3z" color="#370201"/>
<path d="m5861 7080l51 100-62 131z" color="#724313"/>
<path d="m6768 6096l-117 134-11-62z" color="#510c01"/>
<path d="m7915 5818l-78-45 17-3z" color="#370201"/>
<path d="m8360 5846l136-1 10 29z" color="#3c0301"/>
<path d="m7776 5801l-150 6 12-14z" color="#380201"/>
<path d="m7185 5892l-6 36-141 48z" color="#420501"/>
<path d="m7915 5818l69-46 16 3z" color="#370201"/>
<path d="m9612 6650l125 24-29 89z" color="#692306"/>
<path d="m8057 5804l-8-7 134-11z" color="#380201"/>
<path d="m7784 5794l-8 7-138-8z" color="#380201"/>
<path d="m9401 6442l25-73 110 96z" color="#5e1602"/>
<path d="m7915 5818l-94-40 16-5z" color="#370201"/>
<path d="m9013 9811l131 27-182 56z" color="#1f4a7a"/>
<path d="m9825 8930l108 30-140 96z" color="#146c47"/>
<path d="m8762 9940l144 28-189 45z" color="#244783"/>
<path d="m7915 5818l85-43 15 5z" color="#370201"/>
<path d="m6518 6247l11 69-116 92z" color="#591201"/>
<path d="m8649 5945l0-36 140 45z" color="#420501"/>
<path d="m8762 9940l200-46-56 74z" color="#224880"/>
<path d="m7915 5818l-108-35 14-5z" color="#370201"/>
<path d="m6205 9339l224 187-172-77z" color="#158c98"/>
<path d="m6257 9449l172 77 53 101z" color="#1a86a1"/>
<path d="m5752 8381l139 240-130-103z" color="#509d33"/>
<path d="m10011 8153l111-105 9 139z" color="#556e18"/>
<path d="m6104 6721l-42 207-47-92z" color="#6c2a09"/>
<path d="m7915 5818l100-38 13 5z" color="#370201"/>
<path d="m7472 5836l-150 53 5-29z" color="#3c0301"/>
<path d="m8789 5996l137 10 0 50z" color="#470700"/>
<path d="m9996 7493l117 31-72 106z" color="#6f571a"/>
<path d="m7626 5807l-8 14-146 15z" color="#390201"/>
<path d="m8061 5811l137-12 10 15z" color="#380201"/>
<path d="m7915 5818l-120-30 12-5z" color="#370201"/>
<path d="m8213 5828l-5-14 145 11z" color="#390201"/>
<path d="m6901 6032l-123 120-10-56z" color="#4c0900"/>
<path d="m9849 8800l145-98-26 131z" color="#247038"/>
<path d="m9586 9264l168-87-48 117z" color="#0b6457"/>
<path d="m5750 7580l55 244-92-106z" color="#786b1d"/>
<path d="m7327 5860l-5 29-143 39z" color="#3e0401"/>
<path d="m7915 5818l113-33 12 6z" color="#370201"/>
<path d="m8061 5811l-4-7 141-5z" color="#380201"/>
<path d="m10020 8293l111 32-111 106z" color="#47721d"/>
<path d="m6970 9919l247 113-196-39z" color="#2f5ead"/>
<path d="m7776 5801l-6 7-144-1z" color="#380201"/>
<path d="m8213 5828l140-3 7 21z" color="#3a0301"/>
<path d="m6723 9784l247 135-192-51z" color="#2c6bb1"/>
<path d="m9881 7226l67-98 64 129z" color="#724313"/>
<path d="m7770 5808l-152 13 8-14z" color="#380201"/>
<path d="m9286 6348l23-68 117 89z" color="#591201"/>
<path d="m5685 7857l94 107-18 140z" color="#72801d"/>
<path d="m7915 5818l-131-24 11-6z" color="#370201"/>
<path d="m8506 5903l0-29 143 35z" color="#3e0401"/>
<path d="m9510 6543l130 23-28 84z" color="#651c04"/>
<path d="m6640 6168l11 62-122 86z" color="#540e01"/>
<path d="m5934 6956l49 96-71 128z" color="#71390f"/>
<path d="m7915 5818l125-27 9 6z" color="#370201"/>
<path d="m8302 10071l176 38-199 23z" color="#29478c"/>
<path d="m8649 5945l140 9 0 42z" color="#430601"/>
<path d="m7618 5821l-150 37 4-22z" color="#3a0301"/>
<path d="m9309 9560l185-73-57 102z" color="#115668"/>
<path d="m7915 5818l-139-17 8-7z" color="#370201"/>
<path d="m7038 5976l-128 106-9-50z" color="#470700"/>
<path d="m7472 5836l-4 22-146 31z" color="#3b0301"/>
<path d="m7425 10061l233 79-203-18z" color="#2f51a0"/>
<path d="m6200 6611l-51 198-45-88z" color="#692306"/>
<path d="m7915 5818l134-21 8 7z" color="#370201"/>
<path d="m8064 5818l-3-7 147 3z" color="#380201"/>
<path d="m8360 5868l0-22 146 28z" color="#3b0301"/>
<path d="m7770 5808l-4 7-148 6z" color="#380201"/>
<path d="m8064 5818l144-4 5 14z" color="#380201"/>
<path d="m5932 8885l190 218-157-92z" color="#1d9e68"/>
<path d="m7217 10032l208 29 30 61z" color="#2f54a4"/>
<path d="m7915 5818l-145-10 6-7z" color="#370201"/>
<path d="m9166 6260l20-62 123 82z" color="#540e01"/>
<path d="m8506 5903l143 6 0 36z" color="#3f0401"/>
<path d="m6768 6096l10 56-127 78z" color="#4f0b01"/>
<path d="m5761 8518l130 103 16 133z" color="#459e3d"/>
<path d="m7915 5818l142-14 4 7z" color="#370201"/>
<path d="m9401 6442l135 23-26 78z" color="#601803"/>
<path d="m7179 5928l-134 91-7-43z" color="#430601"/>
<path d="m7766 5815l-150 21 2-15z" color="#380201"/>
<path d="m7618 5821l-2 15-148 22z" color="#390201"/>
<path d="m9943 7359l124 31-71 103z" color="#714f18"/>
<path d="m8302 10071l212-24-36 62z" color="#28478a"/>
<path d="m8213 5843l0-15 147 18z" color="#390201"/>
<path d="m7915 5818l-149-3 4-7z" color="#370201"/>
<path d="m9586 9264l120 30-163 84z" color="#0b625a"/>
<path d="m8360 5868l146 6 0 29z" color="#3c0301"/>
<path d="m9811 7097l65-95 72 126z" color="#71390f"/>
<path d="m9309 9560l128 29-177 70z" color="#13546a"/>
<path d="m9994 8013l110-105 18 140z" color="#5e6918"/>
<path d="m6015 6836l47 92-79 124z" color="#6e300b"/>
<path d="m5795 7445l45 240-90-105z" color="#775e1c"/>
<path d="m7915 5818l146-7 3 7z" color="#370201"/>
<path d="m9040 6179l19-56 127 75z" color="#4f0b01"/>
<path d="m6901 6032l9 50-132 70z" color="#4a0900"/>
<path d="m7322 5889l-137 75-6-36z" color="#3f0401"/>
<path d="m8064 5826l0-8 149 10z" color="#380201"/>
<path d="m6303 6506l-60 188-43-83z" color="#651c04"/>
<path d="m7766 5815l-1 7-149 14z" color="#380201"/>
<path d="m5965 9011l157 92 38 121z" color="#169a73"/>
<path d="m8213 5843l147 3 0 22z" color="#3a0301"/>
<path d="m5752 8243l130 242-130-104z" color="#5d9526"/>
<path d="m7915 5818l-150 4 1-7z" color="#370201"/>
<path d="m8083 10085l196 47-206 13z" color="#2a4990"/>
<path d="m5713 7718l92 106-26 140z" color="#76731d"/>
<path d="m8064 5826l149 2 0 15z" color="#380201"/>
<path d="m9849 8800l119 33-143 97z" color="#1f6f3c"/>
<path d="m9286 6348l140 21-25 73z" color="#5b1302"/>
<path d="m7641 10080l224 67-207-7z" color="#2d4e9a"/>
<path d="m7915 5818l149 0 0 8z" color="#370201"/>
<path d="m6482 9627l190 66 51 91z" color="#2278a9"/>
<path d="m7468 5858l-141 60-5-29z" color="#3c0301"/>
<path d="m10011 8153l120 34-111 106z" color="#526f18"/>
<path d="m7038 5976l7 43-135 63z" color="#460700"/>
<path d="m8910 6105l16-49 133 67z" color="#4a0900"/>
<path d="m7616 5836l-144 44-4-22z" color="#3a0301"/>
<path d="m7915 5818l-149 12-1-8z" color="#370201"/>
<path d="m7765 5822l-147 28-2-14z" color="#380201"/>
<path d="m9865 8667l146-99-17 134z" color="#32722c"/>
<path d="m7862 10088l211 57-208 2z" color="#2b4b95"/>
<path d="m7915 5818l149 8-2 7z" color="#370201"/>
<path d="m7179 5928l6 36-140 55z" color="#420501"/>
<path d="m8062 5833l2-7 149 17z" color="#380201"/>
<path d="m6413 6408l-70 176-40-78z" color="#601803"/>
<path d="m6429 9526l243 167-190-66z" color="#1d7fa2"/>
<path d="m7765 5822l1 8-148 20z" color="#380201"/>
<path d="m8775 6039l14-43 137 60z" color="#460700"/>
<path d="m9734 6971l62-91 80 122z" color="#6e300b"/>
<path d="m6104 6721l45 88-87 119z" color="#6b2808"/>
<path d="m9881 7226l131 31-69 102z" color="#724615"/>
<path d="m9166 6260l143 20-23 68z" color="#560f01"/>
<path d="m7915 5818l-145 19-4-7z" color="#370201"/>
<path d="m6970 9919l208 42 39 71z" color="#2d60aa"/>
<path d="m8548 9977l169 36-203 34z" color="#254986"/>
<path d="m7322 5889l5 29-142 46z" color="#3e0401"/>
<path d="m6160 9224l223 195-178-80z" color="#119286"/>
<path d="m7616 5836l2 14-146 30z" color="#390201"/>
<path d="m7468 5858l4 22-145 38z" color="#3b0301"/>
<path d="m8208 5857l5-14 147 25z" color="#390201"/>
<path d="m9060 9721l200-62-55 93z" color="#164f6f"/>
<path d="m8637 5981l12-36 140 51z" color="#420501"/>
<path d="m7915 5818l147 15-5 7z" color="#370201"/>
<path d="m7425 10061l216 19 17 60z" color="#2d519e"/>
<path d="m9622 9144l171-88-39 121z" color="#0f694e"/>
<path d="m6205 9339l178 80 46 107z" color="#138d8f"/>
<path d="m8353 5890l7-22 146 35z" color="#3b0301"/>
<path d="m8496 5931l10-28 143 42z" color="#3e0401"/>
<path d="m8062 5833l151 10-5 14z" color="#380201"/>
<path d="m5850 7311l34 235-89-101z" color="#745118"/>
<path d="m6723 9784l201 54 46 81z" color="#296bac"/>
<path d="m7915 5818l-139 26-6-7z" color="#370201"/>
<path d="m8083 10085l219-14-23 61z" color="#29498e"/>
<path d="m9040 6179l146 19-20 62z" color="#510c01"/>
<path d="m8548 9977l214-37-45 73z" color="#234a83"/>
<path d="m9968 7872l109-103 27 139z" color="#656319"/>
<path d="m7178 9961l247 100-208-29z" color="#2e5aa6"/>
<path d="m7915 5818l142 22-7 7z" color="#370201"/>
<path d="m6529 6316l-78 164-38-72z" color="#5b1302"/>
<path d="m9060 9721l145 31-192 59z" color="#194d71"/>
<path d="m5752 8381l130 104 9 136z" color="#54982d"/>
<path d="m7766 5830l-140 35-8-15z" color="#380201"/>
<path d="m8057 5840l5-7 146 24z" color="#380201"/>
<path d="m7766 5830l4 7-144 28z" color="#380201"/>
<path d="m8208 5857l152 11-7 22z" color="#3a0301"/>
<path d="m7915 5818l-131 32-8-6z" color="#370201"/>
<path d="m5907 8754l185 224-160-93z" color="#2c9d54"/>
<path d="m6200 6611l43 83-94 115z" color="#672005"/>
<path d="m8910 6105l149 18-19 56z" color="#4c0900"/>
<path d="m5750 7580l90 105-35 139z" color="#76651c"/>
<path d="m9649 6849l59-86 88 117z" color="#6b2808"/>
<path d="m7915 5818l135 29-10 6z" color="#370201"/>
<path d="m8803 9860l159 34-200 46z" color="#1f4b7d"/>
<path d="m8803 9860l210-49-51 83z" color="#1d4b79"/>
<path d="m8353 5890l153 13-10 28z" color="#3c0301"/>
<path d="m5761 8104l121 242-130-103z" color="#668b1e"/>
<path d="m8775 6039l151 17-16 49z" color="#470700"/>
<path d="m7915 5818l-120 38-11-6z" color="#370201"/>
<path d="m6651 6230l-87 153-35-67z" color="#560f01"/>
<path d="m7641 10080l221 8 3 59z" color="#2c4e98"/>
<path d="m9811 7097l137 31-67 98z" color="#713c10"/>
<path d="m7618 5850l-135 51-11-21z" color="#3a0301"/>
<path d="m9353 9454l190-76-49 109z" color="#0d5e5f"/>
<path d="m8496 5931l153 14-12 36z" color="#3f0401"/>
<path d="m7862 10088l221-3-10 60z" color="#2a4c93"/>
<path d="m9994 8013l128 35-111 105z" color="#5b6b18"/>
<path d="m8637 5981l152 15-14 43z" color="#430601"/>
<path d="m7915 5818l125 35-11 6z" color="#370201"/>
<path d="m8057 5840l151 17-10 14z" color="#380201"/>
<path d="m7915 5818l-108 44-12-6z" color="#370201"/>
<path d="m6672 9693l252 145-201-54z" color="#2472a8"/>
<path d="m8050 5847l7-7 141 31z" color="#380201"/>
<path d="m7618 5850l8 15-143 36z" color="#390201"/>
<path d="m7770 5837l6 7-138 34z" color="#380201"/>
<path d="m6778 6152l-96 139-31-61z" color="#510c01"/>
<path d="m8198 5871l10-14 145 33z" color="#390201"/>
<path d="m7915 5818l114 41-14 5z" color="#370201"/>
<path d="m6303 6506l40 78-100 110z" color="#631b03"/>
<path d="m7472 5880l-130 66-15-28z" color="#3c0301"/>
<path d="m5912 7180l24 230-86-99z" color="#724615"/>
<path d="m7770 5837l-132 41-12-13z" color="#380201"/>
<path d="m6924 9838l254 123-208-42z" color="#2a66aa"/>
<path d="m9865 8667l129 35-145 98z" color="#2d7130"/>
<path d="m9622 9144l132 33-168 87z" color="#0d6751"/>
<path d="m7915 5818l-94 49-14-5z" color="#370201"/>
<path d="m9557 6732l55-82 96 113z" color="#672005"/>
<path d="m5932 8885l160 93 30 125z" color="#219b60"/>
<path d="m6910 6082l-104 125-28-55z" color="#4c0900"/>
<path d="m9873 8531l147-100-9 137z" color="#3f7222"/>
<path d="m7915 5818l100 46-15 5z" color="#370201"/>
<path d="m7327 5918l-124 81-18-35z" color="#3f0401"/>
<path d="m7045 6019l-110 111-25-48z" color="#470700"/>
<path d="m7915 5818l-78 53-16-4z" color="#370201"/>
<path d="m7185 5964l-118 97-22-42z" color="#430601"/>
<path d="m9934 7732l107-102 36 139z" color="#6c5c1a"/>
<path d="m7915 5818l85 51-16 4z" color="#370201"/>
<path d="m7472 5880l11 21-141 45z" color="#3b0301"/>
<path d="m9734 6971l142 31-65 95z" color="#6f330c"/>
<path d="m9353 9454l141 33-185 73z" color="#0e5b62"/>
<path d="m7915 5818l-61 56-17-3z" color="#370201"/>
<path d="m6413 6408l38 72-108 104z" color="#5e1602"/>
<path d="m8040 5853l10-6 134 38z" color="#380201"/>
<path d="m7776 5844l8 6-129 42z" color="#380201"/>
<path d="m7915 5818l69 55-17 3z" color="#370201"/>
<path d="m8339 5911l14-21 143 41z" color="#3b0301"/>
<path d="m8050 5847l148 24-14 14z" color="#380201"/>
<path d="m5795 7445l89 101-44 139z" color="#74571a"/>
<path d="m8198 5871l155 19-14 21z" color="#3a0301"/>
<path d="m7915 5818l-43 59-18-3z" color="#370201"/>
<path d="m8324 10002l190 45-212 24z" color="#264b8a"/>
<path d="m7915 5818l52 58-19 2z" color="#370201"/>
<path d="m9458 6620l52-77 102 107z" color="#631b03"/>
<path d="m7915 5818l-24 61-19-2z" color="#370201"/>
<path d="m7915 5818l33 60-19 1z" color="#370201"/>
<path d="m7915 5818l-5 61-19 0z" color="#370201"/>
<path d="m7915 5818l14 61-19 0z" color="#370201"/>
<path d="m7776 5844l-121 48-17-14z" color="#380201"/>
<path d="m7327 5918l15 28-139 53z" color="#3e0401"/>
<path d="m5752 8243l130 103 0 139z" color="#5f9022"/>
<path d="m6529 6316l35 67-113 97z" color="#591201"/>
<path d="m7398 9992l243 88-216-19z" color="#2c579f"/>
<path d="m5983 7052l13 224-84-96z" color="#713c10"/>
<path d="m7626 5865l-125 57-18-21z" color="#3a0301"/>
<path d="m7178 9961l220 31 27 69z" color="#2c5ca3"/>
<path d="m9651 9020l174-90-32 126z" color="#176d44"/>
<path d="m7626 5865l12 13-137 44z" color="#390201"/>
<path d="m8477 5959l19-28 141 50z" color="#3e0401"/>
<path d="m5779 7964l111 242-129-102z" color="#6c801c"/>
<path d="m9968 7872l136 36-110 105z" color="#636518"/>
<path d="m6429 9526l197 68 46 99z" color="#197f9a"/>
<path d="m8029 5859l11-6 125 45z" color="#380201"/>
<path d="m8184 5885l14-14 141 40z" color="#390201"/>
<path d="m7784 5850l11 6-120 48z" color="#380201"/>
<path d="m9352 6514l49-72 109 101z" color="#5e1602"/>
<path d="m6122 9103l220 203-182-82z" color="#139575"/>
<path d="m7185 5964l18 35-136 62z" color="#420501"/>
<path d="m6651 6230l31 61-118 92z" color="#540e01"/>
<path d="m9649 6849l147 31-62 91z" color="#6c2a09"/>
<path d="m8324 10002l224-25-34 70z" color="#244c87"/>
<path d="m8040 5853l144 32-19 13z" color="#380201"/>
<path d="m5891 8621l178 228-162-95z" color="#3d9a41"/>
<path d="m8339 5911l157 20-19 28z" color="#3c0301"/>
<path d="m7045 6019l22 42-132 69z" color="#460700"/>
<path d="m6778 6152l28 55-124 84z" color="#4f0b01"/>
<path d="m6383 9419l243 175-197-68z" color="#148691"/>
<path d="m6910 6082l25 48-129 77z" color="#4a0900"/>
<path d="m8614 6016l23-35 138 58z" color="#420501"/>
<path d="m6160 9224l182 82 41 113z" color="#10917e"/>
<path d="m9241 6414l45-66 115 94z" color="#591201"/>
<path d="m9891 7593l105-100 45 137z" color="#705419"/>
<path d="m7784 5850l-109 54-20-12z" color="#380201"/>
<path d="m8015 5864l14-5 113 50z" color="#380201"/>
<path d="m7795 5856l12 6-107 53z" color="#380201"/>
<path d="m5850 7311l86 99-52 136z" color="#724c17"/>
<path d="m8747 6080l28-41 135 66z" color="#460700"/>
<path d="m9125 6320l41-60 120 88z" color="#540e01"/>
<path d="m9102 9623l207-63-49 99z" color="#115668"/>
<path d="m6062 6928l2 217-81-93z" color="#6f330c"/>
<path d="m7483 5901l-117 73-24-28z" color="#3c0301"/>
<path d="m8877 6153l33-48 130 74z" color="#4a0900"/>
<path d="m9003 6233l37-54 126 81z" color="#4f0b01"/>
<path d="m9557 6732l151 31-59 86z" color="#692306"/>
<path d="m8093 10017l209 54-219 14z" color="#274d8e"/>
<path d="m9873 8393l147-100 0 138z" color="#4b711b"/>
<path d="m8184 5885l155 26-22 20z" color="#3a0301"/>
<path d="m9873 8531l138 37-146 99z" color="#3b7225"/>
<path d="m8477 5959l160 22-23 35z" color="#3f0401"/>
<path d="m7626 10011l236 77-221-8z" color="#2a5399"/>
<path d="m8029 5859l136 39-23 11z" color="#380201"/>
<path d="m7483 5901l18 21-135 52z" color="#3b0301"/>
<path d="m8000 5869l15-5 101 56z" color="#380201"/>
<path d="m7807 5862l14 5-92 58z" color="#380201"/>
<path d="m7638 5878l17 14-129 49z" color="#390201"/>
<path d="m8165 5898l19-13 133 46z" color="#390201"/>
<path d="m6924 9838l218 43 36 80z" color="#2767a5"/>
<path d="m8317 5931l22-20 138 48z" color="#3b0301"/>
<path d="m6672 9693l210 56 42 89z" color="#2173a1"/>
<path d="m5907 8754l162 95 23 129z" color="#31994c"/>
<path d="m9102 9623l158 36-200 62z" color="#13546a"/>
<path d="m7638 5878l-112 63-25-19z" color="#3a0301"/>
<path d="m9391 9341l195-77-43 114z" color="#0b6457"/>
<path d="m7795 5856l-95 59-25-11z" color="#380201"/>
<path d="m8579 9898l183 42-214 37z" color="#204d80"/>
<path d="m7859 10020l224 65-221 3z" color="#295094"/>
<path d="m9934 7732l143 37-109 103z" color="#6a5e1a"/>
<path d="m9651 9020l142 36-171 88z" color="#146c47"/>
<path d="m9458 6620l154 30-55 82z" color="#651c04"/>
<path d="m8614 6016l161 23-28 41z" color="#430601"/>
<path d="m5805 7824l102 242-128-102z" color="#70731c"/>
<path d="m5761 8104l129 102-8 140z" color="#67851d"/>
<path d="m6149 6809l-9 208-78-89z" color="#6c2a09"/>
<path d="m7342 5946l-109 88-30-35z" color="#3f0401"/>
<path d="m7984 5873l16-4 86 60z" color="#380201"/>
<path d="m7821 5867l16 4-77 62z" color="#380201"/>
<path d="m9841 7456l102-97 53 134z" color="#724c17"/>
<path d="m5912 7180l84 96-60 134z" color="#724313"/>
<path d="m8579 9898l224-38-41 80z" color="#1e4d7c"/>
<path d="m7398 9992l228 19 15 69z" color="#2a589d"/>
<path d="m8015 5864l127 45-26 11z" color="#380201"/>
<path d="m7142 9881l256 111-220-31z" color="#2862a2"/>
<path d="m8841 9772l219-51-47 90z" color="#174f6f"/>
<path d="m9352 6514l158 29-52 77z" color="#601803"/>
<path d="m8747 6080l163 25-33 48z" color="#470700"/>
<path d="m8093 10017l231-15-22 69z" color="#254e8c"/>
<path d="m8841 9772l172 39-210 49z" color="#194e73"/>
<path d="m7967 5876l17-3 69 64z" color="#380201"/>
<path d="m7837 5871l17 3-60 66z" color="#380201"/>
<path d="m7807 5862l-78 63-29-10z" color="#380201"/>
<path d="m7342 5946l24 28-133 60z" color="#3e0401"/>
<path d="m6626 9594l256 155-210-56z" color="#1b799a"/>
<path d="m9241 6414l160 28-49 72z" color="#5b1302"/>
<path d="m8877 6153l163 26-37 54z" color="#4c0900"/>
<path d="m6243 6694l-20 199-74-84z" color="#692306"/>
<path d="m7203 5999l-100 103-36-41z" color="#430601"/>
<path d="m8317 5931l160 28-28 27z" color="#3c0301"/>
<path d="m7948 5878l19-2 51 66z" color="#380201"/>
<path d="m8165 5898l152 33-28 19z" color="#3a0301"/>
<path d="m7854 5874l18 3-42 68z" color="#380201"/>
<path d="m9673 8891l176-91-24 130z" color="#247038"/>
<path d="m7655 5892l20 12-118 56z" color="#390201"/>
<path d="m8449 5986l28-27 137 57z" color="#3e0401"/>
<path d="m9391 9341l152 37-190 76z" color="#0b625a"/>
<path d="m9125 6320l161 28-45 66z" color="#560f01"/>
<path d="m9003 6233l163 27-41 60z" color="#510c01"/>
<path d="m8142 5909l23-11 124 52z" color="#390201"/>
<path d="m5882 8485l171 231-162-95z" color="#4c9530"/>
<path d="m8000 5869l116 51-30 9z" color="#380201"/>
<path d="m7929 5879l19-1 34 69z" color="#380201"/>
<path d="m7872 5877l19 2-24 69z" color="#380201"/>
<path d="m7910 5879l19 0 15 70z" color="#380201"/>
<path d="m7891 5879l19 0-5 70z" color="#380201"/>
<path d="m7821 5867l-61 66-31-8z" color="#380201"/>
<path d="m5983 7052l81 93-68 131z" color="#71390f"/>
<path d="m7655 5892l-98 68-31-19z" color="#3a0301"/>
<path d="m6882 9749l260 132-218-43z" color="#236da0"/>
<path d="m9865 8253l146-100 9 140z" color="#556e18"/>
<path d="m7626 10011l233 9 3 68z" color="#285596"/>
<path d="m9782 7320l99-94 62 133z" color="#724313"/>
<path d="m6092 8978l216 209-186-84z" color="#1c9663"/>
<path d="m9891 7593l150 37-107 102z" color="#6f571a"/>
<path d="m6343 6584l-30 190-70-80z" color="#651c04"/>
<path d="m7067 6061l-91 116-41-47z" color="#470700"/>
<path d="m7501 5922l-102 78-33-26z" color="#3c0301"/>
<path d="m7859 10020l234-3-10 68z" color="#275191"/>
<path d="m7501 5922l25 19-127 59z" color="#3b0301"/>
<path d="m9873 8393l147 38-147 100z" color="#47721d"/>
<path d="m7984 5873l102 56-33 8z" color="#380201"/>
<path d="m8289 5950l28-19 132 55z" color="#3b0301"/>
<path d="m5840 7685l92 239-127-100z" color="#71651c"/>
<path d="m7203 5999l30 35-130 68z" color="#420501"/>
<path d="m6451 6480l-42 180-66-76z" color="#601803"/>
<path d="m6935 6130l-82 130-47-53z" color="#4c0900"/>
<path d="m7837 5871l-43 69-34-7z" color="#380201"/>
<path d="m6122 9103l186 84 34 119z" color="#15936d"/>
<path d="m5779 7964l128 102-17 140z" color="#6c791b"/>
<path d="m6383 9419l202 70 41 105z" color="#128688"/>
<path d="m8578 6049l36-33 133 64z" color="#420501"/>
<path d="m6564 6383l-52 168-61-71z" color="#5b1302"/>
<path d="m6806 6207l-72 144-52-60z" color="#510c01"/>
<path d="m7675 5904l25 11-106 61z" color="#390201"/>
<path d="m6682 6291l-62 157-56-65z" color="#560f01"/>
<path d="m7967 5876l86 61-35 5z" color="#380201"/>
<path d="m6342 9306l243 183-202-70z" color="#108b7f"/>
<path d="m8116 5920l26-11 113 59z" color="#390201"/>
<path d="m6062 6928l78 89-76 128z" color="#6e300b"/>
<path d="m8449 5986l165 30-36 33z" color="#3f0401"/>
<path d="m5891 8621l162 95 16 133z" color="#41953a"/>
<path d="m7854 5874l-24 71-36-5z" color="#380201"/>
<path d="m8142 5909l147 41-34 18z" color="#3a0301"/>
<path d="m9716 7187l95-90 70 129z" color="#71390f"/>
<path d="m8344 9925l204 52-224 25z" color="#215084"/>
<path d="m7067 6061l36 41-127 75z" color="#460700"/>
<path d="m7948 5878l70 64-36 5z" color="#380201"/>
<path d="m7872 5877l-5 71-37-3z" color="#380201"/>
<path d="m7675 5904l-81 72-37-16z" color="#3a0301"/>
<path d="m9841 7456l155 37-105 100z" color="#714f18"/>
<path d="m9673 8891l152 39-174 90z" color="#1f6f3c"/>
<path d="m7929 5879l53 68-38 2z" color="#380201"/>
<path d="m7891 5879l14 70-38-1z" color="#380201"/>
<path d="m9140 9519l213-65-44 106z" color="#0d5e5f"/>
<path d="m7910 5879l34 70-39 0z" color="#380201"/>
<path d="m7142 9881l230 33 26 78z" color="#26629d"/>
<path d="m7372 9914l254 97-228-19z" color="#275e9b"/>
<path d="m7366 5974l-92 92-41-32z" color="#3f0401"/>
<path d="m6149 6809l74 84-83 124z" color="#6b2808"/>
<path d="m8705 6120l42-40 130 73z" color="#460700"/>
<path d="m9423 9223l199-79-36 120z" color="#0f694e"/>
<path d="m8289 5950l160 36-37 25z" color="#3c0301"/>
<path d="m5884 7546l81 237-125-98z" color="#71591a"/>
<path d="m6935 6130l41 47-123 83z" color="#4a0900"/>
<path d="m9849 8112l145-99 17 140z" color="#5e6918"/>
<path d="m7700 5915l29 10-92 66z" color="#390201"/>
<path d="m9642 7058l92-87 77 126z" color="#6e300b"/>
<path d="m8086 5929l30-9 99 64z" color="#390201"/>
<path d="m5882 8346l164 235-164-96z" color="#588d24"/>
<path d="m8344 9925l235-27-31 79z" color="#1f5080"/>
<path d="m7366 5974l33 26-125 66z" color="#3e0401"/>
<path d="m7526 5941l31 19-117 64z" color="#3b0301"/>
<path d="m8578 6049l169 31-42 40z" color="#430601"/>
<path d="m9688 8759l177-92-16 133z" color="#32722c"/>
<path d="m6243 6694l70 80-90 119z" color="#672005"/>
<path d="m8412 6011l37-25 129 63z" color="#3e0401"/>
<path d="m7526 5941l-86 83-41-24z" color="#3c0301"/>
<path d="m8255 5968l34-18 123 61z" color="#3b0301"/>
<path d="m9140 9519l169 41-207 63z" color="#0e5b62"/>
<path d="m5805 7824l127 100-25 142z" color="#6f6c1b"/>
<path d="m8116 5920l139 48-40 16z" color="#3a0301"/>
<path d="m9865 8253l155 40-147 100z" color="#526f18"/>
<path d="m6806 6207l47 53-119 91z" color="#4f0b01"/>
<path d="m8829 6199l48-46 126 80z" color="#4a0900"/>
<path d="m6626 9594l218 59 38 96z" color="#187993"/>
<path d="m6343 6584l66 76-96 114z" color="#631b03"/>
<path d="m9782 7320l161 39-102 97z" color="#724615"/>
<path d="m9561 6932l88-83 85 122z" color="#6b2808"/>
<path d="m7700 5915l-63 76-43-15z" color="#3a0301"/>
<path d="m6682 6291l52 60-114 97z" color="#540e01"/>
<path d="m6882 9749l227 45 33 87z" color="#1f6d9a"/>
<path d="m6451 6480l61 71-103 109z" color="#5e1602"/>
<path d="m7729 5925l31 8-76 70z" color="#390201"/>
<path d="m6564 6383l56 65-108 103z" color="#591201"/>
<path d="m8102 9940l222 62-231 15z" color="#225389"/>
<path d="m8053 5937l33-8 85 68z" color="#390201"/>
<path d="m6069 8849l212 214-189-85z" color="#2a9450"/>
<path d="m9423 9223l163 41-195 77z" color="#0d6751"/>
<path d="m7233 6034l-82 106-48-38z" color="#430601"/>
<path d="m8948 6285l55-52 122 87z" color="#4f0b01"/>
<path d="m8608 9812l195 48-224 38z" color="#1a5076"/>
<path d="m7612 9935l247 85-233-9z" color="#255a95"/>
<path d="m9474 6811l83-79 92 117z" color="#672005"/>
<path d="m5936 7410l70 233-122-97z" color="#714f18"/>
<path d="m8876 9676l226-53-42 98z" color="#115668"/>
<path d="m8705 6120l172 33-48 46z" color="#470700"/>
<path d="m6585 9489l259 164-218-59z" color="#137f8a"/>
<path d="m8608 9812l233-40-38 88z" color="#175071"/>
<path d="m9064 6378l61-58 116 94z" color="#540e01"/>
<path d="m5882 8485l164 96 7 135z" color="#4f8f2b"/>
<path d="m8876 9676l184 45-219 51z" color="#13546a"/>
<path d="m9380 6694l78-74 99 112z" color="#631b03"/>
<path d="m7856 9943l237 74-234 3z" color="#24568f"/>
<path d="m8086 5929l129 55-44 13z" color="#3a0301"/>
<path d="m7233 6034l41 32-123 74z" color="#420501"/>
<path d="m9174 6477l67-63 111 100z" color="#591201"/>
<path d="m9716 7187l165 39-99 94z" color="#713c10"/>
<path d="m9825 7970l143-98 26 141z" color="#656319"/>
<path d="m6092 8978l189 85 27 124z" color="#20935b"/>
<path d="m7760 5933l34 7-60 74z" color="#390201"/>
<path d="m9280 6583l72-69 106 106z" color="#5e1602"/>
<path d="m8018 5942l35-5 69 72z" color="#390201"/>
<path d="m7109 9794l263 120-230-33z" color="#216899"/>
<path d="m8412 6011l166 38-46 32z" color="#3f0401"/>
<path d="m8255 5968l157 43-46 24z" color="#3c0301"/>
<path d="m7372 9914l240 21 14 76z" color="#245e96"/>
<path d="m7729 5925l-45 78-47-12z" color="#3a0301"/>
<path d="m7557 5960l37 16-104 70z" color="#3b0301"/>
<path d="m8532 6081l46-32 127 71z" color="#420501"/>
<path d="m5840 7685l125 98-33 141z" color="#6f5f1b"/>
<path d="m8215 5984l40-16 111 67z" color="#3b0301"/>
<path d="m8102 9940l242-15-20 77z" color="#205385"/>
<path d="m5890 8206l155 236-163-96z" color="#60831d"/>
<path d="m9688 8759l161 41-176 91z" color="#2d7130"/>
<path d="m7103 6102l-71 120-56-45z" color="#470700"/>
<path d="m8829 6199l174 34-55 52z" color="#4c0900"/>
<path d="m6342 9306l208 72 35 111z" color="#0f8978"/>
<path d="m7794 5940l36 5-42 76z" color="#390201"/>
<path d="m7557 5960l-67 86-50-22z" color="#3c0301"/>
<path d="m7982 5947l36-5 51 75z" color="#390201"/>
<path d="m6844 9653l265 141-227-45z" color="#1a7393"/>
<path d="m6308 9187l242 191-208-72z" color="#128d6f"/>
<path d="m9849 8112l162 41-146 100z" color="#5b6b18"/>
<path d="m5996 7276l59 228-119-94z" color="#724615"/>
<path d="m7399 6000l-74 96-51-30z" color="#3f0401"/>
<path d="m9642 7058l169 39-95 90z" color="#6f330c"/>
<path d="m7399 6000l41 24-115 72z" color="#3e0401"/>
<path d="m8053 5937l118 60-49 12z" color="#3a0301"/>
<path d="m7830 5945l37 3-23 78z" color="#390201"/>
<path d="m9695 8623l178-92-8 136z" color="#3f7222"/>
<path d="m7944 5949l38-2 33 77z" color="#390201"/>
<path d="m8366 6035l46-24 120 70z" color="#3e0401"/>
<path d="m9449 9100l202-80-29 124z" color="#176d44"/>
<path d="m7760 5933l-26 81-50-11z" color="#3a0301"/>
<path d="m7867 5948l38 1-4 79z" color="#390201"/>
<path d="m7905 5949l39 0 14 78z" color="#390201"/>
<path d="m8948 6285l177 35-61 58z" color="#510c01"/>
<path d="m7612 9935l244 8 3 77z" color="#225a90"/>
<path d="m7103 6102l48 38-119 82z" color="#460700"/>
<path d="m7856 9943l246-3-9 77z" color="#21568a"/>
<path d="m9561 6932l173 39-92 87z" color="#6c2a09"/>
<path d="m9172 9409l219-68-38 113z" color="#0b6457"/>
<path d="m6976 6177l-59 134-64-51z" color="#4c0900"/>
<path d="m9794 7828l140-96 34 140z" color="#6c5c1a"/>
<path d="m6064 7145l47 222-115-91z" color="#713c10"/>
<path d="m5884 7546l122 97-41 140z" color="#705419"/>
<path d="m8018 5942l104 67-53 8z" color="#3a0301"/>
<path d="m9064 6378l177 36-67 63z" color="#560f01"/>
<path d="m8650 6158l55-38 124 79z" color="#460700"/>
<path d="m7594 5976l43 15-91 74z" color="#3b0301"/>
<path d="m9474 6811l175 38-88 83z" color="#692306"/>
<path d="m8532 6081l173 39-55 38z" color="#430601"/>
<path d="m8171 5997l44-13 99 72z" color="#3b0301"/>
<path d="m7794 5940l-6 81-54-7z" color="#3a0301"/>
<path d="m8215 5984l151 51-52 21z" color="#3c0301"/>
<path d="m5882 8346l163 96 1 139z" color="#598720"/>
<path d="m6053 8716l207 219-191-86z" color="#39913d"/>
<path d="m9174 6477l178 37-72 69z" color="#5b1302"/>
<path d="m9380 6694l177 38-83 79z" color="#651c04"/>
<path d="m9280 6583l178 37-78 74z" color="#601803"/>
<path d="m8362 9840l217 58-235 27z" color="#1a537a"/>
<path d="m6853 6260l-48 147-71-56z" color="#510c01"/>
<path d="m7982 5947l87 70-54 7z" color="#3a0301"/>
<path d="m9172 9409l181 45-213 65z" color="#0b625a"/>
<path d="m7594 5976l-48 89-56-19z" color="#3c0301"/>
<path d="m5907 8066l146 236-163-96z" color="#66781a"/>
<path d="m6140 7017l35 216-111-88z" color="#6f330c"/>
<path d="m7830 5945l14 81-56-5z" color="#3a0301"/>
<path d="m9825 7970l169 43-145 99z" color="#636518"/>
<path d="m9449 9100l173 44-199 79z" color="#146c47"/>
<path d="m7109 9794l240 34 23 86z" color="#1e6892"/>
<path d="m7274 6066l-61 110-62-36z" color="#430601"/>
<path d="m6976 6177l56 45-115 89z" color="#4a0900"/>
<path d="m8366 6035l166 46-56 29z" color="#3f0401"/>
<path d="m7944 5949l71 75-57 3z" color="#3a0301"/>
<path d="m7349 9828l263 107-240-21z" color="#206392"/>
<path d="m7867 5948l34 80-57-2z" color="#3a0301"/>
<path d="m6585 9489l225 60 34 104z" color="#117f81"/>
<path d="m7905 5949l53 78-57 1z" color="#3a0301"/>
<path d="m6069 8849l191 86 21 128z" color="#2e9148"/>
<path d="m5936 7410l119 94-49 139z" color="#724c17"/>
<path d="m9754 7687l137-94 43 139z" color="#705419"/>
<path d="m6734 6351l-36 158-78-61z" color="#560f01"/>
<path d="m8362 9840l246-28-29 86z" color="#185375"/>
<path d="m7274 6066l51 30-112 80z" color="#420501"/>
<path d="m6223 6893l23 209-106-85z" color="#6c2a09"/>
<path d="m9695 8623l170 44-177 92z" color="#3b7225"/>
<path d="m7440 6024l50 22-103 78z" color="#3e0401"/>
<path d="m8765 6242l64-43 119 86z" color="#4a0900"/>
<path d="m7637 5991l47 12-76 79z" color="#3b0301"/>
<path d="m7440 6024l-53 100-62-28z" color="#3f0401"/>
<path d="m8122 6009l49-12 83 77z" color="#3b0301"/>
<path d="m9695 8485l178-92 0 138z" color="#4b711b"/>
<path d="m8476 6110l56-29 118 77z" color="#420501"/>
<path d="m8314 6056l52-21 110 75z" color="#3e0401"/>
<path d="m6620 6448l-24 169-84-66z" color="#5b1302"/>
<path d="m6313 6774l11 200-101-81z" color="#692306"/>
<path d="m6844 9653l235 46 30 95z" color="#17738b"/>
<path d="m6550 9378l260 171-225-60z" color="#0f8478"/>
<path d="m8650 6158l179 41-64 43z" color="#470700"/>
<path d="m8906 9574l234-55-38 104z" color="#0d5e5f"/>
<path d="m6512 6551l-12 180-91-71z" color="#601803"/>
<path d="m6409 6660l0 190-96-76z" color="#651c04"/>
<path d="m8171 5997l143 59-60 18z" color="#3c0301"/>
<path d="m6853 6260l64 51-112 96z" color="#4f0b01"/>
<path d="m6281 9063l240 198-213-74z" color="#1a8d5e"/>
<path d="m8633 9718l208 54-233 40z" color="#13546b"/>
<path d="m8906 9574l196 49-226 53z" color="#0e5b62"/>
<path d="m5996 7276l115 91-56 137z" color="#724313"/>
<path d="m7637 5991l-29 91-62-17z" color="#3c0301"/>
<path d="m6308 9187l213 74 29 117z" color="#138b67"/>
<path d="m9468 8973l205-82-22 129z" color="#247038"/>
<path d="m9794 7828l174 44-143 98z" color="#6a5e1a"/>
<path d="m8633 9718l243-42-35 96z" color="#115668"/>
<path d="m9707 7547l134-91 50 137z" color="#724c17"/>
<path d="m8110 9856l234 69-242 15z" color="#1c567f"/>
<path d="m5890 8206l163 96-8 140z" color="#607d1b"/>
<path d="m5932 7924l136 236-161-94z" color="#696b1a"/>
<path d="m8876 6334l72-49 116 93z" color="#4f0b01"/>
<path d="m7684 6003l50 11-58 81z" color="#3b0301"/>
<path d="m7599 9850l257 93-244-8z" color="#1e5e8b"/>
<path d="m8069 6017l53-8 68 80z" color="#3b0301"/>
<path d="m7151 6140l-48 124-71-42z" color="#470700"/>
<path d="m7079 9699l270 129-240-34z" color="#196e8c"/>
<path d="m6734 6351l71 56-107 102z" color="#540e01"/>
<path d="m6046 8581l201 222-194-87z" color="#488c2d"/>
<path d="m6064 7145l111 88-64 134z" color="#71390f"/>
<path d="m6810 9549l269 150-235-46z" color="#127983"/>
<path d="m7854 9859l248 81-246 3z" color="#1d5a85"/>
<path d="m7349 9828l250 22 13 85z" color="#1c638b"/>
<path d="m9199 9292l224-69-32 118z" color="#0f694e"/>
<path d="m8122 6009l132 65-64 15z" color="#3c0301"/>
<path d="m8765 6242l183 43-72 49z" color="#4c0900"/>
<path d="m7151 6140l62 36-110 88z" color="#460700"/>
<path d="m8314 6056l162 54-66 25z" color="#3f0401"/>
<path d="m8476 6110l174 48-67 34z" color="#430601"/>
<path d="m9652 7409l130-89 59 136z" color="#724313"/>
<path d="m7734 6014l54 7-41 84z" color="#3b0301"/>
<path d="m7490 6046l56 19-90 83z" color="#3e0401"/>
<path d="m8015 6024l54-7 51 84z" color="#3b0301"/>
<path d="m8110 9856l252-16-18 85z" color="#195679"/>
<path d="m8984 6432l80-54 110 99z" color="#540e01"/>
<path d="m6620 6448l78 61-102 108z" color="#591201"/>
<path d="m7684 6003l-8 92-68-13z" color="#3c0301"/>
<path d="m6140 7017l106 85-71 131z" color="#6e300b"/>
<path d="m9688 8344l177-91 8 140z" color="#556e18"/>
<path d="m8254 6074l60-18 96 79z" color="#3e0401"/>
<path d="m9695 8485l178 46-178 92z" color="#47721d"/>
<path d="m8583 6192l67-34 115 84z" color="#460700"/>
<path d="m9754 7687l180 45-140 96z" color="#6f571a"/>
<path d="m7490 6046l-34 102-69-24z" color="#3f0401"/>
<path d="m9468 8973l183 47-202 80z" color="#1f6f3c"/>
<path d="m6053 8716l194 87 13 132z" color="#3d8d36"/>
<path d="m6512 6551l84 66-96 114z" color="#5e1602"/>
<path d="m7325 6096l-39 113-73-33z" color="#430601"/>
<path d="m7788 6021l56 5-23 86z" color="#3b0301"/>
<path d="m6223 6893l101 81-78 128z" color="#6b2808"/>
<path d="m7958 6027l57-3 32 85z" color="#3b0301"/>
<path d="m5965 7783l126 235-159-94z" color="#6b601a"/>
<path d="m9591 7273l125-86 66 133z" color="#71390f"/>
<path d="m7325 6096l62 28-101 85z" color="#420501"/>
<path d="m6409 6660l91 71-91 119z" color="#631b03"/>
<path d="m6313 6774l96 76-85 124z" color="#672005"/>
<path d="m9087 6537l87-60 106 106z" color="#591201"/>
<path d="m9199 9292l192 49-219 68z" color="#0d6751"/>
<path d="m7032 6222l-35 136-80-47z" color="#4c0900"/>
<path d="m5907 8066l161 94-15 142z" color="#65711a"/>
<path d="m7844 6026l57 2-4 86z" color="#3b0301"/>
<path d="m7901 6028l57-1 14 87z" color="#3b0301"/>
<path d="m8410 6135l66-25 107 82z" color="#420501"/>
<path d="m8069 6017l121 72-70 12z" color="#3c0301"/>
<path d="m7599 9850l255 9 2 84z" color="#1b5f85"/>
<path d="m8876 6334l188 44-80 54z" color="#510c01"/>
<path d="m7854 9859l256-3-8 84z" color="#1a5a7f"/>
<path d="m7734 6014l13 91-71-10z" color="#3c0301"/>
<path d="m9522 7140l120-82 74 129z" color="#6e300b"/>
<path d="m9185 6648l95-65 100 111z" color="#5e1602"/>
<path d="m6550 9378l231 61 29 110z" color="#0e8271"/>
<path d="m9707 7547l184 46-137 94z" color="#714f18"/>
<path d="m9447 7010l114-78 81 126z" color="#6b2808"/>
<path d="m9481 8841l207-82-15 132z" color="#32722c"/>
<path d="m9278 6764l102-70 94 117z" color="#631b03"/>
<path d="m7032 6222l71 42-106 94z" color="#4a0900"/>
<path d="m9366 6885l108-74 87 121z" color="#672005"/>
<path d="m8379 9747l229 65-246 28z" color="#13566d"/>
<path d="m8015 6024l105 77-73 8z" color="#3c0301"/>
<path d="m7546 6065l62 17-74 86z" color="#3e0401"/>
<path d="m6260 8935l237 203-216-75z" color="#278c4b"/>
<path d="m6045 8442l195 226-194-87z" color="#538422"/>
<path d="m7079 9699l249 35 21 94z" color="#166d84"/>
<path d="m6521 9261l260 178-231-61z" color="#118569"/>
<path d="m7788 6021l33 91-74-7z" color="#3c0301"/>
<path d="m8190 6089l64-15 83 84z" color="#3e0401"/>
<path d="m8254 6074l156 61-73 23z" color="#3f0401"/>
<path d="m6006 7643l116 232-157-92z" color="#6f571a"/>
<path d="m9673 8202l176-90 16 141z" color="#5e6918"/>
<path d="m8583 6192l182 50-77 40z" color="#470700"/>
<path d="m6281 9063l216 75 24 123z" color="#1e8a56"/>
<path d="m8688 6282l77-40 111 92z" color="#4a0900"/>
<path d="m8984 6432l190 45-87 60z" color="#560f01"/>
<path d="m6917 6311l-23 148-89-52z" color="#510c01"/>
<path d="m7328 9734l271 116-250-22z" color="#176885"/>
<path d="m8932 9465l240-56-32 110z" color="#0b6457"/>
<path d="m7958 6027l89 82-75 5z" color="#3c0301"/>
<path d="m8379 9747l254-29-25 94z" color="#115769"/>
<path d="m7844 6026l53 88-76-2z" color="#3c0301"/>
<path d="m9688 8344l185 49-178 92z" color="#526f18"/>
<path d="m7546 6065l-12 103-78-20z" color="#3f0401"/>
<path d="m9652 7409l189 47-134 91z" color="#724615"/>
<path d="m6810 9549l243 49 26 101z" color="#10787a"/>
<path d="m7901 6028l71 86-75 0z" color="#3c0301"/>
<path d="m5932 7924l159 94-23 142z" color="#68661a"/>
<path d="m8932 9465l208 54-234 55z" color="#0b625a"/>
<path d="m8410 6135l173 57-78 31z" color="#430601"/>
<path d="m7213 6176l-26 125-84-37z" color="#470700"/>
<path d="m9087 6537l193 46-95 65z" color="#5b1302"/>
<path d="m6046 8581l194 87 7 135z" color="#4a8728"/>
<path d="m8656 9616l220 60-243 42z" color="#0e5b62"/>
<path d="m9221 9170l228-70-26 123z" color="#176d44"/>
<path d="m8656 9616l250-42-30 102z" color="#0d5e5f"/>
<path d="m6055 7504l104 229-153-90z" color="#714f18"/>
<path d="m9591 7273l191 47-130 89z" color="#713c10"/>
<path d="m7213 6176l73 33-99 92z" color="#460700"/>
<path d="m7387 6124l69 24-87 90z" color="#420501"/>
<path d="m6917 6311l80 47-103 101z" color="#4f0b01"/>
<path d="m7608 6082l68 13-58 90z" color="#3e0401"/>
<path d="m9481 8841l192 50-205 82z" color="#2d7130"/>
<path d="m6805 6407l-9 159-98-57z" color="#560f01"/>
<path d="m7387 6124l-18 114-83-29z" color="#430601"/>
<path d="m8120 6101l70-12 66 88z" color="#3e0401"/>
<path d="m8337 6158l73-23 95 88z" color="#420501"/>
<path d="m8505 6223l78-31 105 90z" color="#460700"/>
<path d="m9185 6648l195 46-102 70z" color="#601803"/>
<path d="m6781 9439l272 159-243-49z" color="#0e7c72"/>
<path d="m8117 9763l245 77-252 16z" color="#145a72"/>
<path d="m7053 9598l275 136-249-35z" color="#11727c"/>
<path d="m9522 7140l194 47-125 86z" color="#6f330c"/>
<path d="m8190 6089l147 69-81 19z" color="#3f0401"/>
<path d="m9651 8059l174-89 24 142z" color="#656319"/>
<path d="m8789 6379l87-45 108 98z" color="#4f0b01"/>
<path d="m7587 9757l267 102-255-9z" color="#16637e"/>
<path d="m9278 6764l196 47-108 74z" color="#651c04"/>
<path d="m6053 8302l187 227-195-87z" color="#5a7b1b"/>
<path d="m5965 7783l157 92-31 143z" color="#6c5c1a"/>
<path d="m9447 7010l195 48-120 82z" color="#6c2a09"/>
<path d="m8688 6282l188 52-87 45z" color="#4c0900"/>
<path d="m6111 7367l93 225-149-88z" color="#724615"/>
<path d="m9366 6885l195 47-114 78z" color="#692306"/>
<path d="m7608 6082l10 103-84-17z" color="#3f0401"/>
<path d="m9487 8706l208-83-7 136z" color="#3f7222"/>
<path d="m6698 6509l4 170-106-62z" color="#5b1302"/>
<path d="m9221 9170l202 53-224 69z" color="#146c47"/>
<path d="m9673 8202l192 51-177 91z" color="#5b6b18"/>
<path d="m7851 9767l259 89-256 3z" color="#155e78"/>
<path d="m7676 6095l71 10-41 92z" color="#3e0401"/>
<path d="m7328 9734l259 23 12 93z" color="#15687d"/>
<path d="m8047 6109l73-8 50 90z" color="#3e0401"/>
<path d="m6805 6407l89 52-98 107z" color="#540e01"/>
<path d="m8117 9763l262-16-17 93z" color="#12596c"/>
<path d="m6247 8803l232 208-219-76z" color="#368839"/>
<path d="m6175 7233l81 219-145-85z" color="#713c10"/>
<path d="m6596 6617l17 181-113-67z" color="#601803"/>
<path d="m7103 6264l-11 137-95-43z" color="#4c0900"/>
<path d="m6521 9261l235 63 25 115z" color="#128361"/>
<path d="m7747 6105l74 7-23 93z" color="#3e0401"/>
<path d="m8120 6101l136 76-86 14z" color="#3f0401"/>
<path d="m6260 8935l219 76 18 127z" color="#2b8844"/>
<path d="m9623 7916l171-88 31 142z" color="#6c5c1a"/>
<path d="m7972 6114l75-5 33 93z" color="#3e0401"/>
<path d="m8886 6482l98-50 103 105z" color="#540e01"/>
<path d="m6006 7643l153 90-37 142z" color="#705419"/>
<path d="m6246 7102l69 213-140-82z" color="#6f330c"/>
<path d="m8337 6158l168 65-88 27z" color="#430601"/>
<path d="m6500 6731l30 190-121-71z" color="#651c04"/>
<path d="m6045 8442l195 87 0 139z" color="#547e1e"/>
<path d="m6497 9138l259 186-235-63z" color="#198558"/>
<path d="m7456 6148l78 20-73 94z" color="#420501"/>
<path d="m8505 6223l183 59-91 36z" color="#470700"/>
<path d="m7676 6095l30 102-88-12z" color="#3f0401"/>
<path d="m7103 6264l84 37-95 100z" color="#4a0900"/>
<path d="m6324 6974l57 206-135-78z" color="#6c2a09"/>
<path d="m6409 6850l43 199-128-75z" color="#692306"/>
<path d="m7821 6112l76 2-5 95z" color="#3e0401"/>
<path d="m7897 6114l75 0 14 93z" color="#3e0401"/>
<path d="m8256 6177l81-19 80 92z" color="#420501"/>
<path d="m7587 9757l264 10 3 92z" color="#136277"/>
<path d="m6698 6509l98 57-94 113z" color="#591201"/>
<path d="m7851 9767l266-4-7 93z" color="#135d71"/>
<path d="m8789 6379l195 53-98 50z" color="#510c01"/>
<path d="m7456 6148l5 114-92-24z" color="#430601"/>
<path d="m8954 9349l245-57-27 117z" color="#0f694e"/>
<path d="m9487 8706l201 53-207 82z" color="#3b7225"/>
<path d="m8597 6318l91-36 101 97z" color="#4a0900"/>
<path d="m6068 8160l178 229-193-87z" color="#5f7019"/>
<path d="m9651 8059l198 53-176 90z" color="#636518"/>
<path d="m7286 6209l-2 126-97-34z" color="#470700"/>
<path d="m9237 9043l231-70-19 127z" color="#247038"/>
<path d="m8393 9646l240 72-254 29z" color="#0e5b62"/>
<path d="m7286 6209l83 29-85 97z" color="#460700"/>
<path d="m8047 6109l123 82-90 11z" color="#3f0401"/>
<path d="m7053 9598l257 36 18 100z" color="#0f7174"/>
<path d="m6055 7504l149 88-45 141z" color="#724c17"/>
<path d="m7747 6105l51 100-92-8z" color="#3f0401"/>
<path d="m9587 7773l167-86 40 141z" color="#705419"/>
<path d="m8980 6592l107-55 98 111z" color="#591201"/>
<path d="m6781 9439l249 50 23 109z" color="#0e7a6b"/>
<path d="m9487 8567l208-82 0 138z" color="#4b711b"/>
<path d="m8954 9349l218 60-240 56z" color="#0d6751"/>
<path d="m8417 6250l88-27 92 95z" color="#460700"/>
<path d="m7310 9634l277 123-259-23z" color="#116c75"/>
<path d="m6596 6617l106 62-89 119z" color="#5e1602"/>
<path d="m8393 9646l263-30-23 102z" color="#0d5e5f"/>
<path d="m6997 6358l3 148-106-47z" color="#510c01"/>
<path d="m7972 6114l108 88-94 5z" color="#3f0401"/>
<path d="m7821 6112l71 97-94-4z" color="#3f0401"/>
<path d="m6111 7367l145 85-52 140z" color="#724313"/>
<path d="m8675 9508l257-43-26 109z" color="#0b6457"/>
<path d="m7897 6114l89 93-94 2z" color="#3f0401"/>
<path d="m8675 9508l231 66-250 42z" color="#0b625a"/>
<path d="m7534 6168l84 17-57 97z" color="#420501"/>
<path d="m6240 8668l227 212-220-77z" color="#43832a"/>
<path d="m8886 6482l201 55-107 55z" color="#560f01"/>
<path d="m6500 6731l113 67-83 123z" color="#631b03"/>
<path d="m8170 6191l86-14 65 95z" color="#420501"/>
<path d="m9237 9043l212 57-228 70z" color="#1f6f3c"/>
<path d="m9544 7631l163-84 47 140z" color="#724c17"/>
<path d="m6756 9324l274 165-249-50z" color="#107d63"/>
<path d="m9069 6707l116-59 93 116z" color="#5e1602"/>
<path d="m6053 8302l193 87-6 140z" color="#5a7419"/>
<path d="m8256 6177l161 73-96 22z" color="#430601"/>
<path d="m9623 7916l202 54-174 89z" color="#6a5e1a"/>
<path d="m6997 6358l95 43-92 105z" color="#4f0b01"/>
<path d="m6175 7233l140 82-59 137z" color="#71390f"/>
<path d="m6091 8018l169 228-192-86z" color="#646619"/>
<path d="m6409 6850l121 71-78 128z" color="#672005"/>
<path d="m7030 9489l280 145-257-36z" color="#0d756b"/>
<path d="m7534 6168l27 114-100-20z" color="#430601"/>
<path d="m8597 6318l192 61-102 40z" color="#4c0900"/>
<path d="m6246 7102l135 78-66 135z" color="#6e300b"/>
<path d="m6324 6974l128 75-71 131z" color="#6b2808"/>
<path d="m6247 8803l220 77 12 131z" color="#398333"/>
<path d="m8687 6419l102-40 97 103z" color="#4f0b01"/>
<path d="m9494 7490l158-81 55 138z" color="#724313"/>
<path d="m9154 6827l124-63 88 121z" color="#631b03"/>
<path d="m8123 9663l256 84-262 16z" color="#0e5c64"/>
<path d="m9487 8567l208 56-208 83z" color="#47721d"/>
<path d="m6894 6459l18 159-116-52z" color="#560f01"/>
<path d="m7577 9657l274 110-264-10z" color="#10666f"/>
<path d="m8417 6250l180 68-101 31z" color="#470700"/>
<path d="m6497 9138l240 64 19 122z" color="#1c8250"/>
<path d="m9481 8426l207-82 7 141z" color="#556e18"/>
<path d="m6479 9011l258 191-240-64z" color="#258346"/>
<path d="m7618 6185l88 12-40 100z" color="#420501"/>
<path d="m8980 6592l205 56-116 59z" color="#5b1302"/>
<path d="m9438 7351l153-78 61 136z" color="#71390f"/>
<path d="m9233 6953l133-68 81 125z" color="#672005"/>
<path d="m7187 6301l14 137-109-37z" color="#4c0900"/>
<path d="m8080 6202l90-11 49 99z" color="#420501"/>
<path d="m7369 6238l92 24-71 101z" color="#460700"/>
<path d="m9587 7773l207 55-171 88z" color="#6f571a"/>
<path d="m7310 9634l267 23 10 100z" color="#0e6b6d"/>
<path d="m9376 7215l146-75 69 133z" color="#6e300b"/>
<path d="m9308 7082l139-72 75 130z" color="#6b2808"/>
<path d="m7850 9667l267 96-266 4z" color="#0f6169"/>
<path d="m7187 6301l97 34-83 103z" color="#4a0900"/>
<path d="m7369 6238l21 125-106-28z" color="#470700"/>
<path d="m9248 8912l233-71-13 132z" color="#32722c"/>
<path d="m8321 6272l96-22 79 99z" color="#460700"/>
<path d="m8123 9663l270-17-14 101z" color="#0d5e5f"/>
<path d="m6122 7875l159 228-190-85z" color="#6a5e1a"/>
<path d="m8170 6191l151 81-102 18z" color="#430601"/>
<path d="m6068 8160l192 86-14 143z" color="#5f6b18"/>
<path d="m8971 9228l250-58-22 122z" color="#176d44"/>
<path d="m8496 6349l101-31 90 101z" color="#4a0900"/>
<path d="m6894 6459l106 47-88 112z" color="#540e01"/>
<path d="m7618 6185l48 112-105-15z" color="#430601"/>
<path d="m7706 6197l92 8-22 101z" color="#420501"/>
<path d="m7986 6207l94-5 31 100z" color="#420501"/>
<path d="m9069 6707l209 57-124 63z" color="#601803"/>
<path d="m6796 6566l32 170-126-57z" color="#5b1302"/>
<path d="m6240 8529l221 216-221-77z" color="#4d7b1f"/>
<path d="m9544 7631l210 56-167 86z" color="#714f18"/>
<path d="m8773 6527l113-45 94 110z" color="#540e01"/>
<path d="m8971 9228l228 64-245 57z" color="#146c47"/>
<path d="m7798 6205l94 4-4 101z" color="#420501"/>
<path d="m7892 6209l94-2 14 102z" color="#420501"/>
<path d="m8687 6419l199 63-113 45z" color="#510c01"/>
<path d="m7577 9657l273 10 1 100z" color="#0e6567"/>
<path d="m6756 9324l255 50 19 115z" color="#117a5b"/>
<path d="m7850 9667l273-4-6 100z" color="#0d6062"/>
<path d="m9248 8912l220 61-231 70z" color="#2d7130"/>
<path d="m7030 9489l264 37 16 108z" color="#0d7364"/>
<path d="m6159 7733l149 226-186-84z" color="#6f571a"/>
<path d="m9468 8284l205-82 15 142z" color="#5e6918"/>
<path d="m8406 9539l250 77-263 30z" color="#0b625a"/>
<path d="m8080 6202l139 88-108 12z" color="#430601"/>
<path d="m9154 6827l212 58-133 68z" color="#651c04"/>
<path d="m9481 8426l214 59-208 82z" color="#526f18"/>
<path d="m9494 7490l213 57-163 84z" color="#724615"/>
<path d="m6240 8668l221 77 6 135z" color="#457d25"/>
<path d="m7706 6197l70 109-110-9z" color="#430601"/>
<path d="m8406 9539l269-31-19 108z" color="#0b6457"/>
<path d="m6702 6679l47 179-136-60z" color="#601803"/>
<path d="m8692 9394l262-45-22 116z" color="#0f694e"/>
<path d="m7294 9526l283 131-267-23z" color="#0d6e65"/>
<path d="m6091 8018l190 85-21 143z" color="#656319"/>
<path d="m8321 6272l175 77-111 25z" color="#470700"/>
<path d="m7461 6262l100 20-55 104z" color="#460700"/>
<path d="m7092 6401l29 147-121-42z" color="#510c01"/>
<path d="m6737 9202l274 172-255-50z" color="#177c53"/>
<path d="m9233 6953l214 57-139 72z" color="#692306"/>
<path d="m6796 6566l116 52-84 118z" color="#591201"/>
<path d="m8692 9394l240 71-257 43z" color="#0d6751"/>
<path d="m9438 7351l214 58-158 81z" color="#713c10"/>
<path d="m8219 6290l102-18 64 102z" color="#460700"/>
<path d="m7986 6207l125 95-111 7z" color="#430601"/>
<path d="m9308 7082l214 58-146 75z" color="#6c2a09"/>
<path d="m8496 6349l191 70-115 35z" color="#4c0900"/>
<path d="m9376 7215l215 58-153 78z" color="#6f330c"/>
<path d="m7798 6205l90 105-112-4z" color="#430601"/>
<path d="m6204 7592l138 223-183-82z" color="#714f18"/>
<path d="m7461 6262l45 124-116-23z" color="#470700"/>
<path d="m7092 6401l109 37-80 110z" color="#4f0b01"/>
<path d="m7892 6209l108 100-112 1z" color="#430601"/>
<path d="m6467 8880l255 196-243-65z" color="#327f36"/>
<path d="m9254 8777l233-71-6 135z" color="#3f7222"/>
<path d="m8856 6641l124-49 89 115z" color="#591201"/>
<path d="m6479 9011l243 65 15 126z" color="#287f3f"/>
<path d="m6613 6798l61 188-144-65z" color="#651c04"/>
<path d="m7011 9374l283 152-264-37z" color="#0f755c"/>
<path d="m8572 6454l115-35 86 108z" color="#4f0b01"/>
<path d="m7284 6335l106 28-68 107z" color="#4a0900"/>
<path d="m6246 8389l215 217-221-77z" color="#547219"/>
<path d="m7284 6335l38 135-121-32z" color="#4c0900"/>
<path d="m9449 8140l202-81 22 143z" color="#656319"/>
<path d="m8773 6527l207 65-124 49z" color="#560f01"/>
<path d="m6256 7452l126 220-178-80z" color="#724615"/>
<path d="m8385 6374l111-25 76 105z" color="#4a0900"/>
<path d="m6122 7875l186 84-27 144z" color="#6c5c1a"/>
<path d="m6530 6921l74 196-152-68z" color="#692306"/>
<path d="m6702 6679l126 57-79 122z" color="#5e1602"/>
<path d="m9468 8284l220 60-207 82z" color="#5b6b18"/>
<path d="m8129 9557l264 89-270 17z" color="#0b625a"/>
<path d="m8985 9102l252-59-16 127z" color="#247038"/>
<path d="m6315 7315l114 215-173-78z" color="#713c10"/>
<path d="m7561 6282l105 15-38 106z" color="#460700"/>
<path d="m6452 7049l88 203-159-72z" color="#6c2a09"/>
<path d="m7568 9550l282 117-273-10z" color="#0c685f"/>
<path d="m8111 6302l108-12 47 105z" color="#460700"/>
<path d="m6381 7180l100 209-166-74z" color="#6f330c"/>
<path d="m8219 6290l166 84-119 21z" color="#470700"/>
<path d="m6240 8529l221 77 0 139z" color="#4e761c"/>
<path d="m7294 9526l274 24 9 107z" color="#0c6c5e"/>
<path d="m7000 6506l45 158-133-46z" color="#560f01"/>
<path d="m8935 6760l134-53 85 120z" color="#5e1602"/>
<path d="m9254 8777l227 64-233 71z" color="#3b7225"/>
<path d="m7848 9560l275 103-273 4z" color="#0b635b"/>
<path d="m8129 9557l277-18-13 107z" color="#0b6457"/>
<path d="m8985 9102l236 68-250 58z" color="#1f6f3c"/>
<path d="m7561 6282l67 121-122-17z" color="#470700"/>
<path d="m9423 7995l200-79 28 143z" color="#6c5c1a"/>
<path d="m6159 7733l183 82-34 144z" color="#705419"/>
<path d="m6613 6798l136 60-75 128z" color="#631b03"/>
<path d="m7666 6297l110 9-22 108z" color="#460700"/>
<path d="m6737 9202l259 52 15 120z" color="#1a794b"/>
<path d="m7000 6506l121 42-76 116z" color="#540e01"/>
<path d="m8000 6309l111-7 31 107z" color="#460700"/>
<path d="m8856 6641l213 66-134 53z" color="#5b1302"/>
<path d="m6260 8246l207 219-221-76z" color="#5b6b18"/>
<path d="m8572 6454l201 73-127 39z" color="#510c01"/>
<path d="m9254 8639l233-72 0 139z" color="#4b711b"/>
<path d="m9449 8140l224 62-205 82z" color="#636518"/>
<path d="m8385 6374l187 80-125 29z" color="#4c0900"/>
<path d="m9009 6885l145-58 79 126z" color="#631b03"/>
<path d="m6204 7592l178 80-40 143z" color="#724c17"/>
<path d="m7011 9374l270 38 13 114z" color="#107356"/>
<path d="m8646 6566l127-39 83 114z" color="#540e01"/>
<path d="m6530 6921l144 65-70 131z" color="#672005"/>
<path d="m7776 6306l112 4-4 108z" color="#460700"/>
<path d="m6461 8745l251 200-245-65z" color="#3e7927"/>
<path d="m6722 9076l274 178-259-52z" color="#227a42"/>
<path d="m7888 6310l112-1 14 108z" color="#460700"/>
<path d="m7390 6363l116 23-54 110z" color="#4a0900"/>
<path d="m7568 9550l280 10 2 107z" color="#0b6659"/>
<path d="m8705 9274l266-46-17 121z" color="#176d44"/>
<path d="m8417 9425l258 83-269 31z" color="#0d6751"/>
<path d="m9392 7850l195-77 36 143z" color="#705419"/>
<path d="m8111 6302l155 93-124 14z" color="#470700"/>
<path d="m7848 9560l281-3-6 106z" color="#0b6457"/>
<path d="m6467 8880l245 65 10 131z" color="#357a2f"/>
<path d="m8266 6395l119-21 62 109z" color="#4a0900"/>
<path d="m7201 6438l54 146-134-36z" color="#510c01"/>
<path d="m7666 6297l88 117-126-11z" color="#470700"/>
<path d="m8417 9425l275-31-17 114z" color="#0f694e"/>
<path d="m8705 9274l249 75-262 45z" color="#146c47"/>
<path d="m7390 6363l62 133-130-26z" color="#4c0900"/>
<path d="m6256 7452l173 78-47 142z" color="#724313"/>
<path d="m6452 7049l152 68-64 135z" color="#6b2808"/>
<path d="m6912 6618l60 168-144-50z" color="#5b1302"/>
<path d="m7201 6438l121 32-67 114z" color="#4f0b01"/>
<path d="m7281 9412l287 138-274-24z" color="#0e6e57"/>
<path d="m9080 7014l153-61 75 129z" color="#672005"/>
<path d="m6315 7315l166 74-52 141z" color="#71390f"/>
<path d="m6381 7180l159 72-59 137z" color="#6e300b"/>
<path d="m6246 8389l221 76-6 141z" color="#556e18"/>
<path d="m8447 6483l125-29 74 112z" color="#4f0b01"/>
<path d="m9354 7706l190-75 43 142z" color="#724c17"/>
<path d="m8935 6760l219 67-145 58z" color="#601803"/>
<path d="m8000 6309l142 100-128 8z" color="#470700"/>
<path d="m8994 8972l254-60-11 131z" color="#32722c"/>
<path d="m6996 9254l285 158-270-38z" color="#16744d"/>
<path d="m9423 7995l228 64-202 81z" color="#6a5e1a"/>
<path d="m7776 6306l108 112-130-4z" color="#470700"/>
<path d="m9254 8639l233 67-233 71z" color="#47721d"/>
<path d="m6281 8103l198 219-219-76z" color="#636518"/>
<path d="m9145 7146l163-64 68 133z" color="#6b2808"/>
<path d="m7888 6310l126 107-130 1z" color="#470700"/>
<path d="m9310 7563l184-73 50 141z" color="#724313"/>
<path d="m6912 6618l133 46-73 122z" color="#591201"/>
<path d="m9205 7283l171-68 62 136z" color="#6e300b"/>
<path d="m9260 7422l178-71 56 139z" color="#71390f"/>
<path d="m9248 8498l233-72 6 141z" color="#556e18"/>
<path d="m8646 6566l210 75-140 43z" color="#560f01"/>
<path d="m8716 6684l140-43 79 119z" color="#591201"/>
<path d="m7506 6386l122 17-38 113z" color="#4a0900"/>
<path d="m6828 6736l75 176-154-54z" color="#601803"/>
<path d="m8994 8972l243 71-252 59z" color="#2d7130"/>
<path d="m9009 6885l224 68-153 61z" color="#651c04"/>
<path d="m8266 6395l181 88-135 23z" color="#4c0900"/>
<path d="m8142 6409l124-14 46 111z" color="#4a0900"/>
<path d="m8133 9443l273 96-277 18z" color="#0d6751"/>
<path d="m9392 7850l231 66-200 79z" color="#6f571a"/>
<path d="m6461 8606l246 204-246-65z" color="#48741d"/>
<path d="m7561 9437l287 123-280-10z" color="#0d6852"/>
<path d="m7506 6386l84 130-138-20z" color="#4c0900"/>
<path d="m6260 8246l219 76-12 143z" color="#5e6918"/>
<path d="m6308 7959l189 219-216-75z" color="#6a5e1a"/>
<path d="m7281 9412l280 25 7 113z" color="#0f6c51"/>
<path d="m6722 9076l262 52 12 126z" color="#26763b"/>
<path d="m7121 6548l71 155-147-39z" color="#560f01"/>
<path d="m8447 6483l199 83-140 33z" color="#510c01"/>
<path d="m6461 8745l246 65 5 135z" color="#417523"/>
<path d="m8133 9443l284-18-11 114z" color="#0f694e"/>
<path d="m9080 7014l228 68-163 64z" color="#692306"/>
<path d="m7846 9447l283 110-281 3z" color="#0d6751"/>
<path d="m6712 8945l272 183-262-52z" color="#2f7632"/>
<path d="m9354 7706l233 67-195 77z" color="#714f18"/>
<path d="m6828 6736l144 50-69 126z" color="#5e1602"/>
<path d="m7121 6548l134 36-63 119z" color="#540e01"/>
<path d="m6749 6858l89 184-164-56z" color="#651c04"/>
<path d="m7628 6403l126 11-21 114z" color="#4a0900"/>
<path d="m7322 6470l130 26-52 117z" color="#4f0b01"/>
<path d="m9248 8498l239 69-233 72z" color="#526f18"/>
<path d="m8715 9148l270-46-14 126z" color="#247038"/>
<path d="m8014 6417l128-8 30 113z" color="#4a0900"/>
<path d="m7322 6470l78 143-145-29z" color="#510c01"/>
<path d="m6996 9254l274 38 11 120z" color="#187146"/>
<path d="m9237 8354l231-70 13 142z" color="#5e6918"/>
<path d="m8506 6599l140-33 70 118z" color="#540e01"/>
<path d="m9145 7146l231 69-171 68z" color="#6c2a09"/>
<path d="m8312 6506l135-23 59 116z" color="#4f0b01"/>
<path d="m9310 7563l234 68-190 75z" color="#724615"/>
<path d="m6342 7815l179 218-213-74z" color="#6f571a"/>
<path d="m8783 6807l152-47 74 125z" color="#5e1602"/>
<path d="m8998 8837l256-60-6 135z" color="#3f7222"/>
<path d="m8715 9148l256 80-266 46z" color="#1f6f3c"/>
<path d="m8425 9306l267 88-275 31z" color="#146c47"/>
<path d="m8142 6409l170 97-140 16z" color="#4c0900"/>
<path d="m9205 7283l233 68-178 71z" color="#6f330c"/>
<path d="m9260 7422l234 68-184 73z" color="#713c10"/>
<path d="m7754 6414l130 4-4 115z" color="#4a0900"/>
<path d="m7884 6418l130-1 13 114z" color="#4a0900"/>
<path d="m8425 9306l280-32-13 120z" color="#176d44"/>
<path d="m8716 6684l219 76-152 47z" color="#5b1302"/>
<path d="m7561 9437l285 10 2 113z" color="#0f694e"/>
<path d="m6281 8103l216 75-18 144z" color="#656319"/>
<path d="m7628 6403l105 125-143-12z" color="#4c0900"/>
<path d="m7846 9447l287-4-4 114z" color="#0f694e"/>
<path d="m6674 6986l104 191-174-60z" color="#692306"/>
<path d="m7270 9292l291 145-280-25z" color="#146d49"/>
<path d="m6382 7672l168 215-208-72z" color="#714f18"/>
<path d="m6984 9128l286 164-274-38z" color="#20723d"/>
<path d="m6749 6858l154 54-65 130z" color="#631b03"/>
<path d="m6467 8465l240 207-246-66z" color="#526f18"/>
<path d="m8998 8837l250 75-254 60z" color="#3b7225"/>
<path d="m6604 7117l118 198-182-63z" color="#6c2a09"/>
<path d="m7045 6664l86 164-159-42z" color="#5b1302"/>
<path d="m8014 6417l158 105-145 9z" color="#4c0900"/>
<path d="m6429 7530l156 212-203-70z" color="#724615"/>
<path d="m7754 6414l126 119-147-5z" color="#4c0900"/>
<path d="m9221 8210l228-70 19 144z" color="#656319"/>
<path d="m6540 7252l131 203-190-66z" color="#6f330c"/>
<path d="m8847 6935l162-50 71 129z" color="#631b03"/>
<path d="m9237 8354l244 72-233 72z" color="#5b6b18"/>
<path d="m6481 7389l144 209-196-68z" color="#713c10"/>
<path d="m6461 8606l246 66 0 138z" color="#4b711b"/>
<path d="m7884 6418l143 113-147 2z" color="#4c0900"/>
<path d="m6308 7959l213 74-24 145z" color="#6c5c1a"/>
<path d="m8312 6506l194 93-149 25z" color="#510c01"/>
<path d="m7452 6496l138 20-36 118z" color="#4f0b01"/>
<path d="m8506 6599l210 85-153 35z" color="#560f01"/>
<path d="m7045 6664l147 39-61 125z" color="#591201"/>
<path d="m8172 6522l140-16 45 118z" color="#4f0b01"/>
<path d="m6712 8945l264 53 8 130z" color="#32732c"/>
<path d="m6674 6986l164 56-60 135z" color="#672005"/>
<path d="m6707 8810l269 188-264-53z" color="#3b7325"/>
<path d="m8783 6807l226 78-162 50z" color="#601803"/>
<path d="m7452 6496l102 138-154-21z" color="#510c01"/>
<path d="m8563 6719l153-35 67 123z" color="#591201"/>
<path d="m8137 9324l280 101-284 18z" color="#146c47"/>
<path d="m8998 8698l256-59 0 138z" color="#4b711b"/>
<path d="m7255 6584l96 151-159-32z" color="#560f01"/>
<path d="m7555 9317l291 130-285-10z" color="#146c47"/>
<path d="m7255 6584l145 29-49 122z" color="#540e01"/>
<path d="m7270 9292l285 25 6 120z" color="#176d44"/>
<path d="m9199 8064l224-69 26 145z" color="#6c5c1a"/>
<path d="m6342 7815l208 72-29 146z" color="#705419"/>
<path d="m8721 9018l273-46-9 130z" color="#32722c"/>
<path d="m8907 7067l173-53 65 132z" color="#672005"/>
<path d="m6479 8322l233 208-245-65z" color="#5b6b18"/>
<path d="m8357 6624l149-25 57 120z" color="#540e01"/>
<path d="m6604 7117l174 60-56 138z" color="#6b2808"/>
<path d="m8137 9324l288-18-8 119z" color="#176d44"/>
<path d="m6972 6786l102 171-171-45z" color="#601803"/>
<path d="m7845 9328l288 115-287 4z" color="#146c47"/>
<path d="m6984 9128l278 39 8 125z" color="#247038"/>
<path d="m9221 8210l247 74-231 70z" color="#636518"/>
<path d="m8721 9018l264 84-270 46z" color="#2d7130"/>
<path d="m7590 6516l143 12-20 120z" color="#4f0b01"/>
<path d="m6382 7672l203 70-35 145z" color="#724c17"/>
<path d="m8027 6531l145-9 28 120z" color="#4f0b01"/>
<path d="m6540 7252l182 63-51 140z" color="#6e300b"/>
<path d="m9172 7918l220-68 31 145z" color="#705419"/>
<path d="m8432 9181l273 93-280 32z" color="#1f6f3c"/>
<path d="m8998 8698l256 79-256 60z" color="#47721d"/>
<path d="m8172 6522l185 102-157 18z" color="#510c01"/>
<path d="m8432 9181l283-33-10 126z" color="#247038"/>
<path d="m8847 6935l233 79-173 53z" color="#651c04"/>
<path d="m8962 7202l183-56 60 137z" color="#6b2808"/>
<path d="m6429 7530l196 68-40 144z" color="#724313"/>
<path d="m6467 8465l245 65-5 142z" color="#556e18"/>
<path d="m6481 7389l190 66-46 143z" color="#71390f"/>
<path d="m6972 6786l159 42-57 129z" color="#5e1602"/>
<path d="m7590 6516l123 132-159-14z" color="#510c01"/>
<path d="m6976 8998l286 169-278-39z" color="#2d7230"/>
<path d="m7733 6528l147 5-4 121z" color="#4f0b01"/>
<path d="m7880 6533l147-2 12 121z" color="#4f0b01"/>
<path d="m7555 9317l290 11 1 119z" color="#176d44"/>
<path d="m7262 9167l293 150-285-25z" color="#1f6f3c"/>
<path d="m7845 9328l292-4-4 119z" color="#176d44"/>
<path d="m9140 7772l214-66 38 144z" color="#724c17"/>
<path d="m8563 6719l220 88-166 38z" color="#5b1302"/>
<path d="m9014 7341l191-58 55 139z" color="#6e300b"/>
<path d="m8617 6845l166-38 64 128z" color="#5e1602"/>
<path d="m6497 8178l225 209-243-65z" color="#636518"/>
<path d="m9199 8064l250 76-228 70z" color="#6a5e1a"/>
<path d="m9103 7627l207-64 44 143z" color="#724313"/>
<path d="m8994 8557l254-59 6 141z" color="#556e18"/>
<path d="m9061 7483l199-61 50 141z" color="#71390f"/>
<path d="m6903 6912l117 179-182-49z" color="#651c04"/>
<path d="m6707 8672l265 191-265-53z" color="#47721d"/>
<path d="m8357 6624l206 95-164 28z" color="#560f01"/>
<path d="m6707 8810l265 53 4 135z" color="#3f7222"/>
<path d="m8027 6531l173 111-161 10z" color="#510c01"/>
<path d="m8907 7067l238 79-183 56z" color="#692306"/>
<path d="m7400 6613l154 21-35 124z" color="#540e01"/>
<path d="m7192 6703l112 159-173-34z" color="#5b1302"/>
<path d="m7733 6528l143 126-163-6z" color="#510c01"/>
<path d="m8200 6642l157-18 42 123z" color="#540e01"/>
<path d="m7400 6613l119 145-168-23z" color="#560f01"/>
<path d="m7192 6703l159 32-47 127z" color="#591201"/>
<path d="m7880 6533l159 119-163 2z" color="#510c01"/>
<path d="m8725 8883l273-46-4 135z" color="#3f7222"/>
<path d="m9172 7918l251 77-224 69z" color="#6f571a"/>
<path d="m6479 8322l243 65-10 143z" color="#5e6918"/>
<path d="m8399 6747l164-28 54 126z" color="#591201"/>
<path d="m6903 6912l171 45-54 134z" color="#631b03"/>
<path d="m6521 8033l216 209-240-64z" color="#6a5e1a"/>
<path d="m8962 7202l243 81-191 58z" color="#6c2a09"/>
<path d="m8994 8557l260 82-256 59z" color="#526f18"/>
<path d="m8140 9199l285 107-288 18z" color="#1f6f3c"/>
<path d="m6838 7042l132 186-192-51z" color="#692306"/>
<path d="m7262 9167l288 25 5 125z" color="#247038"/>
<path d="m8725 8883l269 89-273 46z" color="#3b7225"/>
<path d="m7550 9192l295 136-290-11z" color="#1f6f3c"/>
<path d="m9140 7772l252 78-220 68z" color="#714f18"/>
<path d="m8669 6976l178-41 60 132z" color="#631b03"/>
<path d="m6976 8998l280 39 6 130z" color="#32722c"/>
<path d="m8140 9199l292-18-7 125z" color="#247038"/>
<path d="m8985 8413l252-59 11 144z" color="#5e6918"/>
<path d="m8617 6845l230 90-178 41z" color="#601803"/>
<path d="m9014 7341l246 81-199 61z" color="#6f330c"/>
<path d="m9103 7627l251 79-214 66z" color="#724615"/>
<path d="m7554 6634l159 14-19 126z" color="#540e01"/>
<path d="m9061 7483l249 80-207 64z" color="#713c10"/>
<path d="m7844 9203l293 121-292 4z" color="#1f6f3c"/>
<path d="m8039 6652l161-10 28 125z" color="#540e01"/>
<path d="m8436 9051l285-33-6 130z" color="#32722c"/>
<path d="m6550 7887l206 208-235-62z" color="#6f571a"/>
<path d="m8436 9051l279 97-283 33z" color="#2d7130"/>
<path d="m8200 6642l199 105-171 20z" color="#560f01"/>
<path d="m6972 8863l284 174-280-39z" color="#3b7225"/>
<path d="m6778 7177l146 191-202-53z" color="#6c2a09"/>
<path d="m6712 8530l260 194-265-52z" color="#526f18"/>
<path d="m6497 8178l240 64-15 145z" color="#656319"/>
<path d="m7131 6828l128 166-185-37z" color="#601803"/>
<path d="m6838 7042l182 49-50 137z" color="#672005"/>
<path d="m6707 8672l265 52 0 139z" color="#4b711b"/>
<path d="m7554 6634l140 140-175-16z" color="#560f01"/>
<path d="m7256 9037l294 155-288-25z" color="#2d7130"/>
<path d="m8399 6747l218 98-177 30z" color="#5b1302"/>
<path d="m6585 7742l196 206-231-61z" color="#714f18"/>
<path d="m7713 6648l163 6-4 126z" color="#540e01"/>
<path d="m7876 6654l163-2 12 126z" color="#540e01"/>
<path d="m6722 7315l159 196-210-56z" color="#6f330c"/>
<path d="m7550 9192l294 11 1 125z" color="#247038"/>
<path d="m7131 6828l173 34-45 132z" color="#5e1602"/>
<path d="m7844 9203l296-4-3 125z" color="#247038"/>
<path d="m8985 8413l263 85-254 59z" color="#5b6b18"/>
<path d="m8717 7111l190-44 55 135z" color="#672005"/>
<path d="m6625 7598l185 204-225-60z" color="#724615"/>
<path d="m6671 7455l172 201-218-58z" color="#713c10"/>
<path d="m8725 8745l273-47 0 139z" color="#4b711b"/>
<path d="m8972 8268l249-58 16 144z" color="#656319"/>
<path d="m7351 6735l168 23-33 130z" color="#591201"/>
<path d="m7351 6735l135 153-182-26z" color="#5b1302"/>
<path d="m8440 6875l177-30 52 131z" color="#5e1602"/>
<path d="m8228 6767l171-20 41 128z" color="#591201"/>
<path d="m8039 6652l189 115-177 11z" color="#560f01"/>
<path d="m8669 6976l238 91-190 44z" color="#651c04"/>
<path d="m6521 8033l235 62-19 147z" color="#6c5c1a"/>
<path d="m6778 7177l192 51-46 140z" color="#6b2808"/>
<path d="m7713 6648l159 132-178-6z" color="#560f01"/>
<path d="m8725 8745l273 92-273 46z" color="#47721d"/>
<path d="m7876 6654l175 124-179 2z" color="#560f01"/>
<path d="m6722 8387l254 196-264-53z" color="#5b6b18"/>
<path d="m8762 7249l200-47 52 139z" color="#6b2808"/>
<path d="m7074 6957l143 173-197-39z" color="#651c04"/>
<path d="m8954 8121l245-57 22 146z" color="#6c5c1a"/>
<path d="m6972 8863l282 39 2 135z" color="#3f7222"/>
<path d="m6550 7887l231 61-25 147z" color="#705419"/>
<path d="m8142 9069l290 112-292 18z" color="#2d7130"/>
<path d="m6722 7315l202 53-43 143z" color="#6e300b"/>
<path d="m7256 9037l291 25 3 130z" color="#32722c"/>
<path d="m6712 8530l264 53-4 141z" color="#556e18"/>
<path d="m8972 8268l265 86-252 59z" color="#636518"/>
<path d="m7547 9062l297 141-294-11z" color="#2d7130"/>
<path d="m6972 8724l282 178-282-39z" color="#47721d"/>
<path d="m8142 9069l294-18-4 130z" color="#32722c"/>
<path d="m8438 8916l287-33-4 135z" color="#3f7222"/>
<path d="m6585 7742l225 60-29 146z" color="#724c17"/>
<path d="m6671 7455l210 56-38 145z" color="#71390f"/>
<path d="m7074 6957l185 37-42 136z" color="#631b03"/>
<path d="m7519 6758l175 16-19 130z" color="#591201"/>
<path d="m8717 7111l245 91-200 47z" color="#692306"/>
<path d="m8438 8916l283 102-285 33z" color="#3b7225"/>
<path d="m8228 6767l212 108-186 22z" color="#5b1302"/>
<path d="m6625 7598l218 58-33 146z" color="#724313"/>
<path d="m8440 6875l229 101-190 32z" color="#601803"/>
<path d="m8804 7390l210-49 47 142z" color="#6e300b"/>
<path d="m8051 6778l177-11 26 130z" color="#591201"/>
<path d="m8932 7974l240-56 27 146z" color="#705419"/>
<path d="m7844 9073l296 126-296 4z" color="#2d7130"/>
<path d="m8721 8603l273-46 4 141z" color="#556e18"/>
<path d="m8479 7008l190-32 48 135z" color="#631b03"/>
<path d="m7519 6758l156 146-189-16z" color="#5b1302"/>
<path d="m7254 8902l293 160-291-25z" color="#3b7225"/>
<path d="m8842 7534l219-51 42 144z" color="#71390f"/>
<path d="m8906 7826l234-54 32 146z" color="#724c17"/>
<path d="m6737 8242l247 197-262-52z" color="#636518"/>
<path d="m7304 6862l150 159-195-27z" color="#601803"/>
<path d="m7304 6862l182 26-32 133z" color="#5e1602"/>
<path d="m8876 7679l227-52 37 145z" color="#724313"/>
<path d="m7020 7091l158 178-208-41z" color="#692306"/>
<path d="m8954 8121l267 89-249 58z" color="#6a5e1a"/>
<path d="m7694 6774l178 6-4 131z" color="#591201"/>
<path d="m7872 6780l179-2 11 131z" color="#591201"/>
<path d="m7547 9062l297 11 0 130z" color="#32722c"/>
<path d="m8254 6897l186-22 39 133z" color="#5e1602"/>
<path d="m7844 9073l298-4-2 130z" color="#32722c"/>
<path d="m8721 8603l277 95-273 47z" color="#526f18"/>
<path d="m8762 7249l252 92-210 49z" color="#6c2a09"/>
<path d="m6722 8387l262 52-8 144z" color="#5e6918"/>
<path d="m8051 6778l203 119-192 12z" color="#5b1302"/>
<path d="m7694 6774l174 137-193-7z" color="#5b1302"/>
<path d="m7020 7091l197 39-39 139z" color="#672005"/>
<path d="m8932 7974l267 90-245 57z" color="#6f571a"/>
<path d="m6972 8724l281 40 1 138z" color="#4b711b"/>
<path d="m6756 8095l240 198-259-51z" color="#6a5e1a"/>
<path d="m6976 8583l277 181-281-40z" color="#526f18"/>
<path d="m8804 7390l257 93-219 51z" color="#6f330c"/>
<path d="m7872 6780l190 129-194 2z" color="#5b1302"/>
<path d="m6970 7228l171 184-217-44z" color="#6c2a09"/>
<path d="m8715 8459l270-46 9 144z" color="#5e6918"/>
<path d="m8479 7008l238 103-202 34z" color="#651c04"/>
<path d="m8515 7145l202-34 45 138z" color="#672005"/>
<path d="m7254 8902l291 26 2 134z" color="#3f7222"/>
<path d="m8438 8778l287-33 0 138z" color="#4b711b"/>
<path d="m8143 8935l293 116-294 18z" color="#3b7225"/>
<path d="m8906 7826l266 92-240 56z" color="#714f18"/>
<path d="m8842 7534l261 93-227 52z" color="#713c10"/>
<path d="m8876 7679l264 93-234 54z" color="#724615"/>
<path d="m7545 8928l299 145-297-11z" color="#3b7225"/>
<path d="m8438 8778l287 105-287 33z" color="#47721d"/>
<path d="m8143 8935l295-19-2 135z" color="#3f7222"/>
<path d="m8254 6897l225 111-200 23z" color="#601803"/>
<path d="m7486 6888l189 16-17 135z" color="#5e1602"/>
<path d="m7259 6994l166 165-208-29z" color="#651c04"/>
<path d="m6781 7948l230 198-255-51z" color="#6f571a"/>
<path d="m6737 8242l259 51-12 146z" color="#656319"/>
<path d="m6924 7368l184 188-227-45z" color="#6f330c"/>
<path d="m8062 6909l192-12 25 134z" color="#5e1602"/>
<path d="m7486 6888l172 151-204-18z" color="#601803"/>
<path d="m8715 8459l279 98-273 46z" color="#5b6b18"/>
<path d="m7259 6994l195 27-29 138z" color="#631b03"/>
<path d="m6970 7228l208 41-37 143z" color="#6b2808"/>
<path d="m7253 8764l292 164-291-26z" color="#47721d"/>
<path d="m7843 8938l299 131-298 4z" color="#3b7225"/>
<path d="m8279 7031l200-23 36 137z" color="#631b03"/>
<path d="m6810 7802l220 196-249-50z" color="#714f18"/>
<path d="m6881 7511l198 192-236-47z" color="#713c10"/>
<path d="m8705 8313l267-45 13 145z" color="#656319"/>
<path d="m6843 7656l210 194-243-48z" color="#724615"/>
<path d="m8548 7285l214-36 42 141z" color="#6b2808"/>
<path d="m7675 6904l193 7-3 136z" color="#5e1602"/>
<path d="m7868 6911l194-2 11 135z" color="#5e1602"/>
<path d="m6984 8439l272 183-280-39z" color="#5b6b18"/>
<path d="m7545 8928l298 10 1 135z" color="#3f7222"/>
<path d="m8515 7145l247 104-214 36z" color="#692306"/>
<path d="m6976 8583l280 39-3 142z" color="#556e18"/>
<path d="m6756 8095l255 51-15 147z" color="#6c5c1a"/>
<path d="m7843 8938l300-3-1 134z" color="#3f7222"/>
<path d="m6924 7368l217 44-33 144z" color="#6e300b"/>
<path d="m8062 6909l217 122-206 13z" color="#601803"/>
<path d="m7675 6904l190 143-207-8z" color="#601803"/>
<path d="m8436 8636l285-33 4 142z" color="#556e18"/>
<path d="m7217 7130l180 170-219-31z" color="#692306"/>
<path d="m8705 8313l280 100-270 46z" color="#636518"/>
<path d="m8692 8166l262-45 18 147z" color="#6c5c1a"/>
<path d="m8579 7428l225-38 38 144z" color="#6e300b"/>
<path d="m6781 7948l249 50-19 148z" color="#705419"/>
<path d="m7253 8764l292 25 0 139z" color="#4b711b"/>
<path d="m7868 6911l205 133-208 3z" color="#601803"/>
<path d="m6881 7511l227 45-29 147z" color="#71390f"/>
<path d="m8436 8636l289 109-287 33z" color="#526f18"/>
<path d="m8279 7031l236 114-213 24z" color="#651c04"/>
<path d="m8143 8796l295 120-295 19z" color="#47721d"/>
<path d="m7217 7130l208 29-28 141z" color="#672005"/>
<path d="m8143 8796l295-18 0 138z" color="#4b711b"/>
<path d="m6810 7802l243 48-23 148z" color="#724c17"/>
<path d="m6843 7656l236 47-26 147z" color="#724313"/>
<path d="m7454 7021l204 18-17 139z" color="#631b03"/>
<path d="m7545 8789l298 149-298-10z" color="#47721d"/>
<path d="m8548 7285l256 105-225 38z" color="#6c2a09"/>
<path d="m7454 7021l187 157-216-19z" color="#651c04"/>
<path d="m8302 7169l213-24 33 140z" color="#672005"/>
<path d="m8675 8017l257-43 22 147z" color="#705419"/>
<path d="m8073 7044l206-13 23 138z" color="#631b03"/>
<path d="m8608 7574l234-40 34 145z" color="#71390f"/>
<path d="m7256 8622l289 167-292-25z" color="#526f18"/>
<path d="m6996 8293l266 185-278-39z" color="#636518"/>
<path d="m6984 8439l278 39-6 144z" color="#5e6918"/>
<path d="m8656 7869l250-43 26 148z" color="#724c17"/>
<path d="m8633 7721l243-42 30 147z" color="#724313"/>
<path d="m8692 8166l280 102-267 45z" color="#6a5e1a"/>
<path d="m7843 8800l300 135-300 3z" color="#47721d"/>
<path d="m7178 7269l194 175-231-32z" color="#6c2a09"/>
<path d="m8432 8492l283-33 6 144z" color="#5e6918"/>
<path d="m8579 7428l263 106-234 40z" color="#6f330c"/>
<path d="m7658 7039l207 8-3 139z" color="#631b03"/>
<path d="m7865 7047l208-3 10 139z" color="#631b03"/>
<path d="m7545 8789l298 11 0 138z" color="#4b711b"/>
<path d="m7843 8800l300-4 0 139z" color="#4b711b"/>
<path d="m8073 7044l229 125-219 14z" color="#651c04"/>
<path d="m7178 7269l219 31-25 144z" color="#6b2808"/>
<path d="m7011 8146l259 186-274-39z" color="#6a5e1a"/>
<path d="m8675 8017l279 104-262 45z" color="#6f571a"/>
<path d="m8432 8492l289 111-285 33z" color="#5b6b18"/>
<path d="m8302 7169l246 116-224 26z" color="#692306"/>
<path d="m7658 7039l204 147-221-8z" color="#651c04"/>
<path d="m8608 7574l268 105-243 42z" color="#713c10"/>
<path d="m7256 8622l291 25-2 142z" color="#556e18"/>
<path d="m8324 7311l224-26 31 143z" color="#6b2808"/>
<path d="m7141 7412l208 178-241-34z" color="#6f330c"/>
<path d="m8656 7869l276 105-257 43z" color="#714f18"/>
<path d="m6996 8293l274 39-8 146z" color="#656319"/>
<path d="m8142 8654l296 124-295 18z" color="#526f18"/>
<path d="m8633 7721l273 105-250 43z" color="#724615"/>
<path d="m7865 7047l218 136-221 3z" color="#651c04"/>
<path d="m7425 7159l201 161-229-20z" color="#692306"/>
<path d="m8142 8654l294-18 2 142z" color="#556e18"/>
<path d="m7425 7159l216 19-15 142z" color="#672005"/>
<path d="m7262 8478l285 169-291-25z" color="#5b6b18"/>
<path d="m7030 7998l250 186-269-38z" color="#6f571a"/>
<path d="m7547 8647l296 153-298-11z" color="#526f18"/>
<path d="m8083 7183l219-14 22 142z" color="#672005"/>
<path d="m8425 8345l280-32 10 146z" color="#656319"/>
<path d="m7108 7556l220 182-249-35z" color="#713c10"/>
<path d="m7141 7412l231 32-23 146z" color="#6e300b"/>
<path d="m7053 7850l241 185-264-37z" color="#714f18"/>
<path d="m7079 7703l231 183-257-36z" color="#724615"/>
<path d="m7844 8658l299 138-300 4z" color="#526f18"/>
<path d="m8344 7455l235-27 29 146z" color="#6e300b"/>
<path d="m7011 8146l269 38-10 148z" color="#6c5c1a"/>
<path d="m8425 8345l290 114-283 33z" color="#636518"/>
<path d="m8324 7311l255 117-235 27z" color="#6c2a09"/>
<path d="m7641 7178l221 8-3 142z" color="#672005"/>
<path d="m7547 8647l297 11-1 142z" color="#556e18"/>
<path d="m7862 7186l221-3 10 142z" color="#672005"/>
<path d="m8083 7183l241 128-231 14z" color="#692306"/>
<path d="m7844 8658l298-4 1 142z" color="#556e18"/>
<path d="m7108 7556l241 34-21 148z" color="#71390f"/>
<path d="m8417 8197l275-31 13 147z" color="#6c5c1a"/>
<path d="m7262 8478l288 25-3 144z" color="#5e6918"/>
<path d="m7397 7300l215 165-240-21z" color="#6c2a09"/>
<path d="m7641 7178l218 150-233-8z" color="#692306"/>
<path d="m7270 8332l280 171-288-25z" color="#636518"/>
<path d="m7030 7998l264 37-14 149z" color="#705419"/>
<path d="m7397 7300l229 20-14 145z" color="#6b2808"/>
<path d="m8140 8510l292-18 4 144z" color="#5e6918"/>
<path d="m8362 7602l246-28 25 147z" color="#71390f"/>
<path d="m8140 8510l296 126-294 18z" color="#5b6b18"/>
<path d="m7079 7703l249 35-18 148z" color="#724313"/>
<path d="m7053 7850l257 36-16 149z" color="#724c17"/>
<path d="m8093 7325l231-14 20 144z" color="#6b2808"/>
<path d="m7862 7186l231 139-234 3z" color="#692306"/>
<path d="m8406 8048l269-31 17 149z" color="#705419"/>
<path d="m7550 8503l294 155-297-11z" color="#5b6b18"/>
<path d="m8417 8197l288 116-280 32z" color="#6a5e1a"/>
<path d="m8344 7455l264 119-246 28z" color="#6f330c"/>
<path d="m8379 7750l254-29 23 148z" color="#724313"/>
<path d="m8393 7899l263-30 19 148z" color="#724c17"/>
<path d="m7372 7444l227 168-250-22z" color="#6f330c"/>
<path d="m7844 8514l298 140-298 4z" color="#5b6b18"/>
<path d="m7280 8184l274 172-284-24z" color="#6a5e1a"/>
<path d="m7270 8332l284 24-4 147z" color="#656319"/>
<path d="m8093 7325l251 130-242 15z" color="#6c2a09"/>
<path d="m7626 7320l233 8-3 146z" color="#6b2808"/>
<path d="m8406 8048l286 118-275 31z" color="#6f571a"/>
<path d="m8362 7602l271 119-254 29z" color="#713c10"/>
<path d="m7550 8503l294 11 0 144z" color="#5e6918"/>
<path d="m7859 7328l234-3 9 145z" color="#6b2808"/>
<path d="m7372 7444l240 21-13 147z" color="#6e300b"/>
<path d="m7844 8514l296-4 2 144z" color="#5e6918"/>
<path d="m8137 8363l288-18 7 147z" color="#656319"/>
<path d="m7626 7320l230 154-244-9z" color="#6c2a09"/>
<path d="m8102 7470l242-15 18 147z" color="#6e300b"/>
<path d="m8137 8363l295 129-292 18z" color="#636518"/>
<path d="m8393 7899l282 118-269 31z" color="#714f18"/>
<path d="m8379 7750l277 119-263 30z" color="#724615"/>
<path d="m7349 7590l238 170-259-22z" color="#713c10"/>
<path d="m7294 8035l266 173-280-24z" color="#6f571a"/>
<path d="m7554 8356l290 158-294-11z" color="#636518"/>
<path d="m7859 7328l243 142-246 4z" color="#6c2a09"/>
<path d="m7280 8184l280 24-6 148z" color="#6c5c1a"/>
<path d="m7328 7738l249 171-267-23z" color="#724615"/>
<path d="m7310 7886l258 173-274-24z" color="#714f18"/>
<path d="m7349 7590l250 22-12 148z" color="#71390f"/>
<path d="m8133 8215l284-18 8 148z" color="#6c5c1a"/>
<path d="m8102 7470l260 132-252 16z" color="#6f330c"/>
<path d="m7845 8367l295 143-296 4z" color="#636518"/>
<path d="m8110 7618l252-16 17 148z" color="#71390f"/>
<path d="m7612 7465l244 9-2 147z" color="#6e300b"/>
<path d="m7554 8356l291 11-1 147z" color="#656319"/>
<path d="m7612 7465l242 156-255-9z" color="#6f330c"/>
<path d="m7856 7474l246-4 8 148z" color="#6e300b"/>
<path d="m8133 8215l292 130-288 18z" color="#6a5e1a"/>
<path d="m7294 8035l274 24-8 149z" color="#705419"/>
<path d="m7845 8367l292-4 3 147z" color="#656319"/>
<path d="m7328 7738l259 22-10 149z" color="#724313"/>
<path d="m7310 7886l267 23-9 150z" color="#724c17"/>
<path d="m7560 8208l285 159-291-11z" color="#6a5e1a"/>
<path d="m8129 8065l277-17 11 149z" color="#705419"/>
<path d="m8117 7766l262-16 14 149z" color="#724313"/>
<path d="m7856 7474l254 144-256 3z" color="#6f330c"/>
<path d="m8123 7916l270-17 13 149z" color="#724c17"/>
<path d="m8110 7618l269 132-262 16z" color="#713c10"/>
<path d="m8129 8065l288 132-284 18z" color="#6f571a"/>
<path d="m7599 7612l252 158-264-10z" color="#713c10"/>
<path d="m7846 8218l291 145-292 4z" color="#6a5e1a"/>
<path d="m7599 7612l255 9-3 149z" color="#71390f"/>
<path d="m7560 8208l286 10-1 149z" color="#6c5c1a"/>
<path d="m7854 7621l256-3 7 148z" color="#71390f"/>
<path d="m7568 8059l278 159-286-10z" color="#6f571a"/>
<path d="m7846 8218l287-3 4 148z" color="#6c5c1a"/>
<path d="m8117 7766l276 133-270 17z" color="#724615"/>
<path d="m8123 7916l283 132-277 17z" color="#714f18"/>
<path d="m7587 7760l262 159-272-10z" color="#724615"/>
<path d="m7854 7621l263 145-266 4z" color="#713c10"/>
<path d="m7577 7909l271 160-280-10z" color="#714f18"/>
<path d="m7587 7760l264 10-2 149z" color="#724313"/>
<path d="m7568 8059l280 10-2 149z" color="#705419"/>
<path d="m7848 8069l285 146-287 3z" color="#6f571a"/>
<path d="m7851 7770l266-4 6 150z" color="#724313"/>
<path d="m7848 8069l281-4 4 150z" color="#705419"/>
<path d="m7577 7909l272 10-1 150z" color="#724c17"/>
<path d="m7849 7919l274-3 6 149z" color="#724c17"/>
<path d="m7851 7770l272 146-274 3z" color="#724615"/>
<path d="m7849 7919l280 146-281 4z" color="#714f18"/>
</g>
<g id="poles"><ellipse cx="791.5" cy="1013.2" rx="41.9" ry="16.0" fill="#2f3aa8" fill-opacity="0.22"/><ellipse cx="791.5" cy="1013.2" rx="15.0" ry="4.6" fill="#1a1f66" fill-opacity="0.5"/><ellipse cx="791.5" cy="581.8" rx="47.9" ry="18.3" fill="#3a0a08" fill-opacity="0.22"/><ellipse cx="791.5" cy="581.8" rx="25.4" ry="9.7" fill="#3a0a08" fill-opacity="0.35"/><ellipse cx="791.5" cy="581.8" rx="14.5" ry="5.6" fill="#0d0303" fill-opacity="0.95"/></g>
<path id="orbit" d="M1256.5 813L1146.2 682L1112.5 668.8L956.2 630.7L653 628L383.8 710.8L342.5 847.5L611.9 963.8L1011.5 955.3L1256.5 813L1087.5 660.1L630.6 631L331.2 766.2L490.8 935.6L971.6 963L1256.5 813" fill="none" stroke="#ff4500" stroke-width="4" stroke-linejoin="miter" stroke-miterlimit="10"/>
<g id="ticklabels"><text x="782.3" y="1334.2" font-size="28">−2</text><text x="960.2" y="1275.7" font-size="28">−1</text><text x="1137.9" y="1217.3" font-size="28">0</text><text x="1315.3" y="1159" font-size="28">1</text><text x="1492.5" y="1100.7" font-size="28">2</text><text x="687.9" y="1331.9" font-size="28" text-anchor="end">−2</text><text x="536" y="1263.4" font-size="28" text-anchor="end">−1</text><text x="384.4" y="1195" font-size="28" text-anchor="end">0</text><text x="233.1" y="1126.8" font-size="28" text-anchor="end">1</text><text x="82" y="1058.6" font-size="28" text-anchor="end">2</text><text x="62.7" y="1019.4" font-size="28" text-anchor="end">−1.0</text><text x="62.5" y="911.6" font-size="28" text-anchor="end">−0.5</text><text x="62.4" y="803.8" font-size="28" text-anchor="end">0.0</text><text x="62.2" y="695.9" font-size="28" text-anchor="end">0.5</text><text x="62.1" y="588" font-size="28" text-anchor="end">1.0</text></g>
<text x="1149" y="1282.5" font-size="28" text-anchor="middle" transform="rotate(-18.1 1149 1272.5)">X [Re]</text>
<text x="372.5" y="1262" font-size="28" text-anchor="middle" transform="rotate(24.1 372.5 1252)">Y [Re]</text>
<text x="800" y="78" font-size="28" font-weight="bold" text-anchor="middle">Proton in Earth Gravity (No EM field)</text>
</svg></body></html>
